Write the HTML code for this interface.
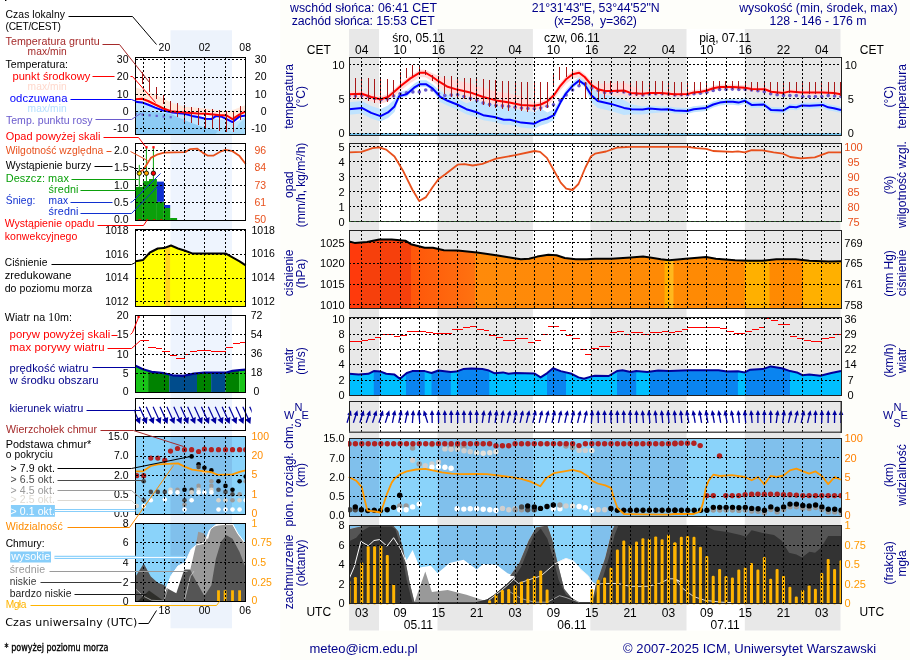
<!DOCTYPE html>
<html lang="pl"><head><meta charset="utf-8"><title>Meteogram</title>
<style>
html,body{margin:0;padding:0;background:#FEFEFA;}
body{width:910px;height:660px;overflow:hidden;}
svg{display:block;font-family:"Liberation Sans",Arial,sans-serif;will-change:transform;}
</style></head><body>
<svg width="910" height="660" viewBox="0 0 910 660">
<rect x="0" y="0" width="910" height="660" fill="#FEFEFA"/>
<rect x="0.0" y="0.0" width="280.2" height="660.0" fill="#FFFFFF" />
<rect x="5.0" y="0.0" width="1.4" height="1.0" fill="#000" />
<rect x="170.5" y="30.3" width="61.5" height="598.0" fill="#EDF3FC" />
<rect x="349.0" y="29.0" width="491.5" height="601.5" fill="#FFFFFF" />
<rect x="349.0" y="29.0" width="30.0" height="601.5" fill="#E8E8E8" />
<rect x="437.5" y="29.0" width="95.4" height="601.5" fill="#E8E8E8" />
<rect x="590.3" y="29.0" width="96.2" height="601.5" fill="#E8E8E8" />
<rect x="744.8" y="29.0" width="95.7" height="601.5" fill="#E8E8E8" />
<rect x="349.0" y="57.0" width="492.0" height="78.0" fill="#FFFFFF" />
<rect x="349.0" y="57.0" width="30.0" height="78.0" fill="#E8E8E8" />
<rect x="437.5" y="57.0" width="95.4" height="78.0" fill="#E8E8E8" />
<rect x="590.3" y="57.0" width="96.2" height="78.0" fill="#E8E8E8" />
<rect x="744.8" y="57.0" width="95.7" height="78.0" fill="#E8E8E8" />
<clipPath id="c1"><rect x="349.0" y="57.0" width="492.0" height="78.0"/></clipPath><g clip-path="url(#c1)">
<rect x="349.0" y="133.3" width="492.0" height="2.0" fill="#6EC0EC" />
<polygon points="348.7,91.2 361.8,90.7 371.2,94.0 380.5,96.3 388.0,94.0 394.5,88.4 401.0,82.8 410.4,75.4 419.7,69.7 425.3,69.7 431.9,73.0 438.4,76.1 447.7,79.4 457.1,80.6 470.2,83.4 483.2,88.0 496.3,91.4 509.4,93.6 521.2,96.1 534.3,102.8 540.8,101.5 547.4,98.3 553.9,92.2 560.4,82.8 566.0,76.3 572.6,71.2 579.1,69.7 584.7,74.0 591.3,81.1 597.8,83.8 605.3,83.6 611.8,83.0 624.0,82.5 630.5,84.9 642.6,91.2 649.2,90.4 661.3,90.4 674.4,91.7 688.1,91.4 693.7,89.9 701.2,89.3 706.8,88.0 713.3,85.8 719.8,84.6 732.9,84.6 745.0,85.2 751.6,86.5 764.7,86.7 771.2,89.3 783.4,90.4 789.9,88.9 802.0,89.9 822.6,89.9 833.8,90.4 841.0,91.7 841.0,96.7 833.8,95.4 822.6,94.9 802.0,94.9 789.9,93.9 783.4,95.4 771.2,94.3 764.7,91.7 751.6,91.5 745.0,90.2 732.9,89.6 719.8,89.6 713.3,90.8 706.8,93.0 701.2,94.3 693.7,94.9 688.1,96.4 674.4,96.7 661.3,95.4 649.2,95.4 642.6,96.2 630.5,97.4 624.0,95.0 611.8,95.5 605.3,95.4 597.8,93.7 591.3,89.4 584.7,81.5 579.1,77.2 572.6,78.7 566.0,83.8 560.4,90.3 553.9,99.7 547.4,105.8 540.8,109.0 534.3,110.3 521.2,109.6 509.4,107.1 496.3,104.9 483.2,101.5 470.2,96.9 457.1,94.1 447.7,91.3 438.4,85.7 431.9,81.0 425.3,77.2 419.7,77.2 410.4,82.9 401.0,90.3 394.5,95.9 388.0,101.5 380.5,103.8 371.2,101.5 361.8,98.2 348.7,98.7" fill="#FFDADA" />
<polygon points="348.7,102.2 361.8,100.9 371.2,105.9 380.5,109.1 388.0,105.4 394.5,99.4 399.2,92.1 406.6,90.2 414.1,83.7 419.7,80.3 426.3,80.3 432.8,84.6 440.3,91.0 447.7,94.8 457.1,98.5 466.4,103.2 475.8,100.0 483.2,103.2 494.4,105.0 503.8,107.8 510.0,107.8 521.2,110.6 534.3,111.7 540.8,108.4 547.4,112.5 553.9,109.2 560.4,99.1 566.0,89.8 572.6,82.3 579.1,77.1 584.7,81.0 591.3,87.2 597.8,93.1 610.9,95.9 624.0,99.9 631.4,104.2 642.6,106.5 649.2,105.6 661.3,106.5 667.9,106.2 675.0,107.5 687.1,108.0 693.7,106.2 705.8,104.9 713.3,101.5 719.8,99.6 726.4,98.7 732.9,98.7 738.5,99.6 745.0,97.8 751.6,101.9 763.7,101.5 771.2,107.1 783.4,107.5 789.9,103.7 796.4,104.3 802.0,102.4 809.5,102.8 822.6,101.9 828.2,104.3 833.8,105.2 841.0,107.1 841.0,113.1 833.8,111.2 828.2,110.3 822.6,107.9 809.5,108.8 802.0,108.4 796.4,110.3 789.9,109.7 783.4,113.5 771.2,113.1 763.7,107.5 751.6,107.9 745.0,103.8 738.5,105.6 732.9,104.7 726.4,104.7 719.8,105.6 713.3,107.5 705.8,110.9 693.7,112.2 687.1,114.0 675.0,113.5 667.9,112.2 661.3,112.5 649.2,113.6 642.6,114.5 631.4,114.2 624.0,114.9 610.9,110.9 597.8,108.1 591.3,102.2 584.7,87.0 579.1,83.1 572.6,88.3 566.0,95.8 560.4,105.1 553.9,120.2 547.4,123.5 540.8,125.4 534.3,128.7 521.2,127.6 510.0,124.8 503.8,124.8 494.4,122.0 483.2,120.2 475.8,117.0 466.4,114.2 457.1,109.5 447.7,105.8 440.3,102.0 432.8,91.1 426.3,86.8 419.7,86.8 414.1,90.2 406.6,96.7 399.2,98.6 394.5,111.9 388.0,117.9 380.5,121.6 371.2,118.4 361.8,113.4 348.7,114.7" fill="#BFE3FF" />
<circle cx="349.0" cy="96.0" r="1.8" fill="#6A5ACD" />
<circle cx="355.4" cy="96.0" r="1.8" fill="#6A5ACD" />
<circle cx="361.8" cy="95.6" r="1.8" fill="#6A5ACD" />
<circle cx="368.2" cy="96.5" r="1.8" fill="#6A5ACD" />
<circle cx="374.6" cy="98.4" r="1.8" fill="#6A5ACD" />
<circle cx="380.9" cy="99.7" r="1.8" fill="#6A5ACD" />
<circle cx="387.3" cy="99.1" r="1.8" fill="#6A5ACD" />
<circle cx="393.7" cy="96.0" r="1.8" fill="#6A5ACD" />
<circle cx="400.1" cy="93.7" r="1.8" fill="#6A5ACD" />
<circle cx="406.5" cy="92.8" r="1.8" fill="#6A5ACD" />
<circle cx="412.9" cy="91.9" r="1.8" fill="#6A5ACD" />
<circle cx="419.3" cy="91.9" r="1.8" fill="#6A5ACD" />
<circle cx="425.7" cy="90.0" r="1.8" fill="#6A5ACD" />
<circle cx="432.1" cy="90.0" r="1.8" fill="#6A5ACD" />
<circle cx="438.5" cy="93.7" r="1.8" fill="#6A5ACD" />
<circle cx="444.8" cy="95.6" r="1.8" fill="#6A5ACD" />
<circle cx="451.2" cy="95.0" r="1.8" fill="#6A5ACD" />
<circle cx="457.6" cy="94.7" r="1.8" fill="#6A5ACD" />
<circle cx="464.0" cy="96.5" r="1.8" fill="#6A5ACD" />
<circle cx="470.4" cy="98.4" r="1.8" fill="#6A5ACD" />
<circle cx="476.8" cy="100.6" r="1.8" fill="#6A5ACD" />
<circle cx="483.2" cy="102.9" r="1.8" fill="#6A5ACD" />
<circle cx="489.6" cy="104.4" r="1.8" fill="#6A5ACD" />
<circle cx="496.0" cy="105.3" r="1.8" fill="#6A5ACD" />
<circle cx="502.4" cy="105.9" r="1.8" fill="#6A5ACD" />
<circle cx="508.7" cy="106.2" r="1.8" fill="#6A5ACD" />
<circle cx="515.1" cy="107.2" r="1.8" fill="#6A5ACD" />
<circle cx="521.5" cy="108.1" r="1.8" fill="#6A5ACD" />
<circle cx="527.9" cy="108.5" r="1.8" fill="#6A5ACD" />
<circle cx="534.3" cy="108.7" r="1.8" fill="#6A5ACD" />
<circle cx="540.7" cy="108.1" r="1.8" fill="#6A5ACD" />
<circle cx="547.1" cy="106.2" r="1.8" fill="#6A5ACD" />
<circle cx="553.5" cy="104.7" r="1.8" fill="#6A5ACD" />
<circle cx="559.9" cy="100.3" r="1.8" fill="#6A5ACD" />
<circle cx="566.2" cy="95.0" r="1.8" fill="#6A5ACD" />
<circle cx="572.6" cy="90.0" r="1.8" fill="#6A5ACD" />
<circle cx="579.0" cy="85.7" r="1.8" fill="#6A5ACD" />
<circle cx="585.4" cy="83.8" r="1.8" fill="#6A5ACD" />
<circle cx="591.8" cy="87.9" r="1.8" fill="#6A5ACD" />
<circle cx="598.2" cy="90.4" r="1.8" fill="#6A5ACD" />
<circle cx="604.6" cy="92.6" r="1.8" fill="#6A5ACD" />
<circle cx="611.0" cy="92.6" r="1.8" fill="#6A5ACD" />
<circle cx="617.4" cy="91.3" r="1.8" fill="#6A5ACD" />
<circle cx="623.8" cy="91.9" r="1.8" fill="#6A5ACD" />
<circle cx="630.1" cy="94.1" r="1.8" fill="#6A5ACD" />
<circle cx="636.5" cy="94.1" r="1.8" fill="#6A5ACD" />
<circle cx="642.9" cy="95.0" r="1.8" fill="#6A5ACD" />
<circle cx="649.3" cy="94.1" r="1.8" fill="#6A5ACD" />
<circle cx="655.7" cy="93.7" r="1.8" fill="#6A5ACD" />
<circle cx="662.1" cy="93.7" r="1.8" fill="#6A5ACD" />
<circle cx="668.5" cy="94.1" r="1.8" fill="#6A5ACD" />
<circle cx="674.9" cy="95.0" r="1.8" fill="#6A5ACD" />
<circle cx="681.3" cy="94.7" r="1.8" fill="#6A5ACD" />
<circle cx="687.6" cy="94.7" r="1.8" fill="#6A5ACD" />
<circle cx="694.0" cy="93.7" r="1.8" fill="#6A5ACD" />
<circle cx="700.4" cy="93.2" r="1.8" fill="#6A5ACD" />
<circle cx="706.8" cy="92.2" r="1.8" fill="#6A5ACD" />
<circle cx="713.2" cy="90.4" r="1.8" fill="#6A5ACD" />
<circle cx="719.6" cy="89.4" r="1.8" fill="#6A5ACD" />
<circle cx="726.0" cy="89.4" r="1.8" fill="#6A5ACD" />
<circle cx="732.4" cy="89.1" r="1.8" fill="#6A5ACD" />
<circle cx="738.8" cy="89.4" r="1.8" fill="#6A5ACD" />
<circle cx="745.2" cy="89.4" r="1.8" fill="#6A5ACD" />
<circle cx="751.5" cy="90.0" r="1.8" fill="#6A5ACD" />
<circle cx="757.9" cy="90.7" r="1.8" fill="#6A5ACD" />
<circle cx="764.3" cy="91.7" r="1.8" fill="#6A5ACD" />
<circle cx="770.7" cy="93.7" r="1.8" fill="#6A5ACD" />
<circle cx="777.1" cy="94.7" r="1.8" fill="#6A5ACD" />
<circle cx="783.5" cy="95.4" r="1.8" fill="#6A5ACD" />
<circle cx="789.9" cy="95.6" r="1.8" fill="#6A5ACD" />
<circle cx="796.3" cy="95.6" r="1.8" fill="#6A5ACD" />
<circle cx="802.7" cy="96.5" r="1.8" fill="#6A5ACD" />
<circle cx="809.1" cy="96.5" r="1.8" fill="#6A5ACD" />
<circle cx="815.4" cy="96.5" r="1.8" fill="#6A5ACD" />
<circle cx="821.8" cy="96.5" r="1.8" fill="#6A5ACD" />
<circle cx="828.2" cy="95.6" r="1.8" fill="#6A5ACD" />
<circle cx="834.6" cy="96.0" r="1.8" fill="#6A5ACD" />
<circle cx="841.0" cy="96.5" r="1.8" fill="#6A5ACD" />
<polyline points="348.7,109.2 361.8,107.9 371.2,112.9 380.5,116.1 388.0,112.4 394.5,106.4 399.2,96.1 406.6,94.2 414.1,87.7 419.7,84.3 426.3,84.3 432.8,88.6 440.3,97.0 447.7,100.8 457.1,104.5 466.4,109.2 475.8,112.0 483.2,115.2 494.4,117.0 503.8,119.8 510.0,119.8 521.2,122.6 534.3,123.7 540.8,120.4 547.4,118.5 553.9,115.2 560.4,102.6 566.0,93.3 572.6,85.8 579.1,80.6 584.7,84.5 591.3,95.2 597.8,101.1 610.9,103.9 624.0,107.9 631.4,109.2 642.6,109.5 649.2,108.6 661.3,109.5 667.9,109.2 675.0,110.5 687.1,111.0 693.7,109.2 705.8,107.9 713.3,104.5 719.8,102.6 726.4,101.7 732.9,101.7 738.5,102.6 745.0,100.8 751.6,104.9 763.7,104.5 771.2,110.1 783.4,110.5 789.9,106.7 796.4,107.3 802.0,105.4 809.5,105.8 822.6,104.9 828.2,107.3 833.8,108.2 841.0,110.1" fill="none" stroke="#0000FF" stroke-width="2" stroke-linejoin="round" />
<polyline points="348.7,94.2 361.8,93.7 371.2,97.0 380.5,99.3 388.0,97.0 394.5,91.4 401.0,85.8 410.4,78.4 419.7,72.7 425.3,72.7 431.9,76.5 438.4,81.2 447.7,86.8 457.1,89.6 470.2,92.4 483.2,97.0 496.3,100.4 509.4,102.6 521.2,105.1 534.3,105.8 540.8,104.5 547.4,101.3 553.9,95.2 560.4,85.8 566.0,79.3 572.6,74.2 579.1,72.7 584.7,77.0 591.3,84.9 597.8,89.2 605.3,90.9 611.8,91.0 624.0,90.5 630.5,92.9 642.6,93.7 649.2,92.9 661.3,92.9 674.4,94.2 688.1,93.9 693.7,92.4 701.2,91.8 706.8,90.5 713.3,88.3 719.8,87.1 732.9,87.1 745.0,87.7 751.6,89.0 764.7,89.2 771.2,91.8 783.4,92.9 789.9,91.4 802.0,92.4 822.6,92.4 833.8,92.9 841.0,94.2" fill="none" stroke="#FF0000" stroke-width="2" stroke-linejoin="round" />
<line x1="355.5" y1="77.8" x2="355.5" y2="98.9" stroke="#A81818" stroke-width="1" shape-rendering="crispEdges"/>
<line x1="361.5" y1="78.1" x2="361.5" y2="98.7" stroke="#A81818" stroke-width="1" shape-rendering="crispEdges"/>
<line x1="368.5" y1="78.4" x2="368.5" y2="100.9" stroke="#A81818" stroke-width="1" shape-rendering="crispEdges"/>
<line x1="374.5" y1="78.7" x2="374.5" y2="102.8" stroke="#A81818" stroke-width="1" shape-rendering="crispEdges"/>
<line x1="380.5" y1="79.0" x2="380.5" y2="104.2" stroke="#A81818" stroke-width="1" shape-rendering="crispEdges"/>
<line x1="387.5" y1="79.3" x2="387.5" y2="102.2" stroke="#A81818" stroke-width="1" shape-rendering="crispEdges"/>
<line x1="393.5" y1="79.6" x2="393.5" y2="97.1" stroke="#A81818" stroke-width="1" shape-rendering="crispEdges"/>
<line x1="400.5" y1="72.0" x2="400.5" y2="87.6" stroke="#A81818" stroke-width="1" shape-rendering="crispEdges"/>
<line x1="406.5" y1="67.9" x2="406.5" y2="78.2" stroke="#A81818" stroke-width="1" shape-rendering="crispEdges"/>
<line x1="412.5" y1="64.5" x2="412.5" y2="75.8" stroke="#A81818" stroke-width="1" shape-rendering="crispEdges"/>
<line x1="419.5" y1="66.0" x2="419.5" y2="73.5" stroke="#A81818" stroke-width="1" shape-rendering="crispEdges"/>
<line x1="425.5" y1="70.3" x2="425.5" y2="75.2" stroke="#A81818" stroke-width="1" shape-rendering="crispEdges"/>
<line x1="432.5" y1="74.5" x2="432.5" y2="81.2" stroke="#A81818" stroke-width="1" shape-rendering="crispEdges"/>
<line x1="438.5" y1="75.5" x2="438.5" y2="90.2" stroke="#A81818" stroke-width="1" shape-rendering="crispEdges"/>
<line x1="444.5" y1="75.5" x2="444.5" y2="94.1" stroke="#A81818" stroke-width="1" shape-rendering="crispEdges"/>
<line x1="451.5" y1="75.5" x2="451.5" y2="96.9" stroke="#A81818" stroke-width="1" shape-rendering="crispEdges"/>
<line x1="457.5" y1="77.0" x2="457.5" y2="97.7" stroke="#A81818" stroke-width="1" shape-rendering="crispEdges"/>
<line x1="464.5" y1="77.5" x2="464.5" y2="99.1" stroke="#A81818" stroke-width="1" shape-rendering="crispEdges"/>
<line x1="470.5" y1="78.0" x2="470.5" y2="100.5" stroke="#A81818" stroke-width="1" shape-rendering="crispEdges"/>
<line x1="476.5" y1="78.5" x2="476.5" y2="102.7" stroke="#A81818" stroke-width="1" shape-rendering="crispEdges"/>
<line x1="483.5" y1="79.0" x2="483.5" y2="105.0" stroke="#A81818" stroke-width="1" shape-rendering="crispEdges"/>
<line x1="489.5" y1="79.5" x2="489.5" y2="106.7" stroke="#A81818" stroke-width="1" shape-rendering="crispEdges"/>
<line x1="495.5" y1="80.0" x2="495.5" y2="108.3" stroke="#A81818" stroke-width="1" shape-rendering="crispEdges"/>
<line x1="502.5" y1="80.5" x2="502.5" y2="109.4" stroke="#A81818" stroke-width="1" shape-rendering="crispEdges"/>
<line x1="508.5" y1="81.0" x2="508.5" y2="110.5" stroke="#A81818" stroke-width="1" shape-rendering="crispEdges"/>
<line x1="515.5" y1="82.0" x2="515.5" y2="109.8" stroke="#A81818" stroke-width="1" shape-rendering="crispEdges"/>
<line x1="521.5" y1="82.0" x2="521.5" y2="111.1" stroke="#A81818" stroke-width="1" shape-rendering="crispEdges"/>
<line x1="527.5" y1="82.0" x2="527.5" y2="111.5" stroke="#A81818" stroke-width="1" shape-rendering="crispEdges"/>
<line x1="534.5" y1="82.0" x2="534.5" y2="111.8" stroke="#A81818" stroke-width="1" shape-rendering="crispEdges"/>
<line x1="540.5" y1="82.0" x2="540.5" y2="110.5" stroke="#A81818" stroke-width="1" shape-rendering="crispEdges"/>
<line x1="547.5" y1="82.0" x2="547.5" y2="107.5" stroke="#A81818" stroke-width="1" shape-rendering="crispEdges"/>
<line x1="553.5" y1="73.2" x2="553.5" y2="84.7" stroke="#A81818" stroke-width="1" shape-rendering="crispEdges"/>
<line x1="559.5" y1="67.0" x2="559.5" y2="80.0" stroke="#A81818" stroke-width="1" shape-rendering="crispEdges"/>
<line x1="566.5" y1="67.0" x2="566.5" y2="77.0" stroke="#A81818" stroke-width="1" shape-rendering="crispEdges"/>
<line x1="572.5" y1="71.0" x2="572.5" y2="78.7" stroke="#A81818" stroke-width="1" shape-rendering="crispEdges"/>
<line x1="579.5" y1="79.2" x2="579.5" y2="84.7" stroke="#A81818" stroke-width="1" shape-rendering="crispEdges"/>
<line x1="585.5" y1="82.0" x2="585.5" y2="98.0" stroke="#A81818" stroke-width="1" shape-rendering="crispEdges"/>
<line x1="591.5" y1="80.3" x2="591.5" y2="99.0" stroke="#A81818" stroke-width="1" shape-rendering="crispEdges"/>
<line x1="598.5" y1="81.4" x2="598.5" y2="101.2" stroke="#A81818" stroke-width="1" shape-rendering="crispEdges"/>
<line x1="604.5" y1="81.4" x2="604.5" y2="99.0" stroke="#A81818" stroke-width="1" shape-rendering="crispEdges"/>
<line x1="610.5" y1="81.4" x2="610.5" y2="93.2" stroke="#A81818" stroke-width="1" shape-rendering="crispEdges"/>
<line x1="617.5" y1="81.4" x2="617.5" y2="93.0" stroke="#A81818" stroke-width="1" shape-rendering="crispEdges"/>
<line x1="623.5" y1="81.4" x2="623.5" y2="92.7" stroke="#A81818" stroke-width="1" shape-rendering="crispEdges"/>
<line x1="630.5" y1="81.4" x2="630.5" y2="95.0" stroke="#A81818" stroke-width="1" shape-rendering="crispEdges"/>
<line x1="636.5" y1="81.4" x2="636.5" y2="95.5" stroke="#A81818" stroke-width="1" shape-rendering="crispEdges"/>
<line x1="642.5" y1="81.4" x2="642.5" y2="95.9" stroke="#A81818" stroke-width="1" shape-rendering="crispEdges"/>
<line x1="649.5" y1="81.4" x2="649.5" y2="95.1" stroke="#A81818" stroke-width="1" shape-rendering="crispEdges"/>
<line x1="655.5" y1="81.4" x2="655.5" y2="95.1" stroke="#A81818" stroke-width="1" shape-rendering="crispEdges"/>
<line x1="662.5" y1="81.4" x2="662.5" y2="95.2" stroke="#A81818" stroke-width="1" shape-rendering="crispEdges"/>
<line x1="668.5" y1="81.4" x2="668.5" y2="95.8" stroke="#A81818" stroke-width="1" shape-rendering="crispEdges"/>
<line x1="674.5" y1="82.0" x2="674.5" y2="95.7" stroke="#A81818" stroke-width="1" shape-rendering="crispEdges"/>
<line x1="681.5" y1="82.0" x2="681.5" y2="95.5" stroke="#A81818" stroke-width="1" shape-rendering="crispEdges"/>
<line x1="687.5" y1="82.0" x2="687.5" y2="95.4" stroke="#A81818" stroke-width="1" shape-rendering="crispEdges"/>
<line x1="694.5" y1="82.0" x2="694.5" y2="93.9" stroke="#A81818" stroke-width="1" shape-rendering="crispEdges"/>
<line x1="700.5" y1="82.0" x2="700.5" y2="93.4" stroke="#A81818" stroke-width="1" shape-rendering="crispEdges"/>
<line x1="706.5" y1="80.6" x2="706.5" y2="92.0" stroke="#A81818" stroke-width="1" shape-rendering="crispEdges"/>
<line x1="713.5" y1="80.6" x2="713.5" y2="89.8" stroke="#A81818" stroke-width="1" shape-rendering="crispEdges"/>
<line x1="719.5" y1="80.6" x2="719.5" y2="88.6" stroke="#A81818" stroke-width="1" shape-rendering="crispEdges"/>
<line x1="725.5" y1="80.6" x2="725.5" y2="88.6" stroke="#A81818" stroke-width="1" shape-rendering="crispEdges"/>
<line x1="732.5" y1="80.6" x2="732.5" y2="88.6" stroke="#A81818" stroke-width="1" shape-rendering="crispEdges"/>
<line x1="738.5" y1="80.6" x2="738.5" y2="88.9" stroke="#A81818" stroke-width="1" shape-rendering="crispEdges"/>
<line x1="745.5" y1="82.0" x2="745.5" y2="89.2" stroke="#A81818" stroke-width="1" shape-rendering="crispEdges"/>
<line x1="751.5" y1="82.0" x2="751.5" y2="90.5" stroke="#A81818" stroke-width="1" shape-rendering="crispEdges"/>
<line x1="757.5" y1="82.0" x2="757.5" y2="90.6" stroke="#A81818" stroke-width="1" shape-rendering="crispEdges"/>
<line x1="764.5" y1="82.0" x2="764.5" y2="90.7" stroke="#A81818" stroke-width="1" shape-rendering="crispEdges"/>
<line x1="770.5" y1="82.0" x2="770.5" y2="93.1" stroke="#A81818" stroke-width="1" shape-rendering="crispEdges"/>
<line x1="777.5" y1="82.0" x2="777.5" y2="93.8" stroke="#A81818" stroke-width="1" shape-rendering="crispEdges"/>
<line x1="783.5" y1="82.0" x2="783.5" y2="94.4" stroke="#A81818" stroke-width="1" shape-rendering="crispEdges"/>
<line x1="789.5" y1="82.0" x2="789.5" y2="92.9" stroke="#A81818" stroke-width="1" shape-rendering="crispEdges"/>
<line x1="796.5" y1="82.0" x2="796.5" y2="93.4" stroke="#A81818" stroke-width="1" shape-rendering="crispEdges"/>
<line x1="802.5" y1="82.0" x2="802.5" y2="93.9" stroke="#A81818" stroke-width="1" shape-rendering="crispEdges"/>
<line x1="809.5" y1="82.0" x2="809.5" y2="93.9" stroke="#A81818" stroke-width="1" shape-rendering="crispEdges"/>
<line x1="815.5" y1="82.0" x2="815.5" y2="93.9" stroke="#A81818" stroke-width="1" shape-rendering="crispEdges"/>
<line x1="821.5" y1="82.0" x2="821.5" y2="93.9" stroke="#A81818" stroke-width="1" shape-rendering="crispEdges"/>
<line x1="828.5" y1="82.0" x2="828.5" y2="94.2" stroke="#A81818" stroke-width="1" shape-rendering="crispEdges"/>
<line x1="834.5" y1="82.0" x2="834.5" y2="94.5" stroke="#A81818" stroke-width="1" shape-rendering="crispEdges"/>
<line x1="840.5" y1="82.0" x2="840.5" y2="95.7" stroke="#A81818" stroke-width="1" shape-rendering="crispEdges"/>
</g>
<line x1="361.8" y1="57.0" x2="361.8" y2="135.0" stroke="#000" stroke-width="1" stroke-dasharray="2,2" shape-rendering="crispEdges"/>
<line x1="380.9" y1="57.0" x2="380.9" y2="135.0" stroke="#000" stroke-width="1" stroke-dasharray="2,2" shape-rendering="crispEdges"/>
<line x1="400.1" y1="57.0" x2="400.1" y2="135.0" stroke="#000" stroke-width="1" stroke-dasharray="2,2" shape-rendering="crispEdges"/>
<line x1="419.3" y1="57.0" x2="419.3" y2="135.0" stroke="#000" stroke-width="1" stroke-dasharray="2,2" shape-rendering="crispEdges"/>
<line x1="438.5" y1="57.0" x2="438.5" y2="135.0" stroke="#000" stroke-width="1" stroke-dasharray="2,2" shape-rendering="crispEdges"/>
<line x1="457.6" y1="57.0" x2="457.6" y2="135.0" stroke="#000" stroke-width="1" stroke-dasharray="2,2" shape-rendering="crispEdges"/>
<line x1="476.8" y1="57.0" x2="476.8" y2="135.0" stroke="#000" stroke-width="1" stroke-dasharray="2,2" shape-rendering="crispEdges"/>
<line x1="496.0" y1="57.0" x2="496.0" y2="135.0" stroke="#000" stroke-width="1" stroke-dasharray="2,2" shape-rendering="crispEdges"/>
<line x1="515.1" y1="57.0" x2="515.1" y2="135.0" stroke="#000" stroke-width="1" stroke-dasharray="2,2" shape-rendering="crispEdges"/>
<line x1="534.3" y1="57.0" x2="534.3" y2="135.0" stroke="#000" stroke-width="1" stroke-dasharray="2,2" shape-rendering="crispEdges"/>
<line x1="553.5" y1="57.0" x2="553.5" y2="135.0" stroke="#000" stroke-width="1" stroke-dasharray="2,2" shape-rendering="crispEdges"/>
<line x1="572.6" y1="57.0" x2="572.6" y2="135.0" stroke="#000" stroke-width="1" stroke-dasharray="2,2" shape-rendering="crispEdges"/>
<line x1="591.8" y1="57.0" x2="591.8" y2="135.0" stroke="#000" stroke-width="1" stroke-dasharray="2,2" shape-rendering="crispEdges"/>
<line x1="611.0" y1="57.0" x2="611.0" y2="135.0" stroke="#000" stroke-width="1" stroke-dasharray="2,2" shape-rendering="crispEdges"/>
<line x1="630.1" y1="57.0" x2="630.1" y2="135.0" stroke="#000" stroke-width="1" stroke-dasharray="2,2" shape-rendering="crispEdges"/>
<line x1="649.3" y1="57.0" x2="649.3" y2="135.0" stroke="#000" stroke-width="1" stroke-dasharray="2,2" shape-rendering="crispEdges"/>
<line x1="668.5" y1="57.0" x2="668.5" y2="135.0" stroke="#000" stroke-width="1" stroke-dasharray="2,2" shape-rendering="crispEdges"/>
<line x1="687.6" y1="57.0" x2="687.6" y2="135.0" stroke="#000" stroke-width="1" stroke-dasharray="2,2" shape-rendering="crispEdges"/>
<line x1="706.8" y1="57.0" x2="706.8" y2="135.0" stroke="#000" stroke-width="1" stroke-dasharray="2,2" shape-rendering="crispEdges"/>
<line x1="726.0" y1="57.0" x2="726.0" y2="135.0" stroke="#000" stroke-width="1" stroke-dasharray="2,2" shape-rendering="crispEdges"/>
<line x1="745.2" y1="57.0" x2="745.2" y2="135.0" stroke="#000" stroke-width="1" stroke-dasharray="2,2" shape-rendering="crispEdges"/>
<line x1="764.3" y1="57.0" x2="764.3" y2="135.0" stroke="#000" stroke-width="1" stroke-dasharray="2,2" shape-rendering="crispEdges"/>
<line x1="783.5" y1="57.0" x2="783.5" y2="135.0" stroke="#000" stroke-width="1" stroke-dasharray="2,2" shape-rendering="crispEdges"/>
<line x1="802.7" y1="57.0" x2="802.7" y2="135.0" stroke="#000" stroke-width="1" stroke-dasharray="2,2" shape-rendering="crispEdges"/>
<line x1="821.8" y1="57.0" x2="821.8" y2="135.0" stroke="#000" stroke-width="1" stroke-dasharray="2,2" shape-rendering="crispEdges"/>
<line x1="349.0" y1="64.3" x2="841.0" y2="64.3" stroke="#000" stroke-width="1" stroke-dasharray="2,2" shape-rendering="crispEdges"/>
<line x1="349.0" y1="98.4" x2="841.0" y2="98.4" stroke="#000" stroke-width="1" stroke-dasharray="2,2" shape-rendering="crispEdges"/>
<line x1="349.0" y1="133.3" x2="841.0" y2="133.3" stroke="#000" stroke-width="1" stroke-dasharray="2,2" shape-rendering="crispEdges"/>
<rect x="349.0" y="57.0" width="492.0" height="78.0" fill="none" stroke="#222" stroke-width="1" shape-rendering="crispEdges"/>
<rect x="349.0" y="143.5" width="492.0" height="77.5" fill="#FFFFFF" />
<rect x="349.0" y="143.5" width="30.0" height="77.5" fill="#E8E8E8" />
<rect x="437.5" y="143.5" width="95.4" height="77.5" fill="#E8E8E8" />
<rect x="590.3" y="143.5" width="96.2" height="77.5" fill="#E8E8E8" />
<rect x="744.8" y="143.5" width="95.7" height="77.5" fill="#E8E8E8" />
<line x1="361.8" y1="143.5" x2="361.8" y2="221.0" stroke="#000" stroke-width="1" stroke-dasharray="2,2" shape-rendering="crispEdges"/>
<line x1="380.9" y1="143.5" x2="380.9" y2="221.0" stroke="#000" stroke-width="1" stroke-dasharray="2,2" shape-rendering="crispEdges"/>
<line x1="400.1" y1="143.5" x2="400.1" y2="221.0" stroke="#000" stroke-width="1" stroke-dasharray="2,2" shape-rendering="crispEdges"/>
<line x1="419.3" y1="143.5" x2="419.3" y2="221.0" stroke="#000" stroke-width="1" stroke-dasharray="2,2" shape-rendering="crispEdges"/>
<line x1="438.5" y1="143.5" x2="438.5" y2="221.0" stroke="#000" stroke-width="1" stroke-dasharray="2,2" shape-rendering="crispEdges"/>
<line x1="457.6" y1="143.5" x2="457.6" y2="221.0" stroke="#000" stroke-width="1" stroke-dasharray="2,2" shape-rendering="crispEdges"/>
<line x1="476.8" y1="143.5" x2="476.8" y2="221.0" stroke="#000" stroke-width="1" stroke-dasharray="2,2" shape-rendering="crispEdges"/>
<line x1="496.0" y1="143.5" x2="496.0" y2="221.0" stroke="#000" stroke-width="1" stroke-dasharray="2,2" shape-rendering="crispEdges"/>
<line x1="515.1" y1="143.5" x2="515.1" y2="221.0" stroke="#000" stroke-width="1" stroke-dasharray="2,2" shape-rendering="crispEdges"/>
<line x1="534.3" y1="143.5" x2="534.3" y2="221.0" stroke="#000" stroke-width="1" stroke-dasharray="2,2" shape-rendering="crispEdges"/>
<line x1="553.5" y1="143.5" x2="553.5" y2="221.0" stroke="#000" stroke-width="1" stroke-dasharray="2,2" shape-rendering="crispEdges"/>
<line x1="572.6" y1="143.5" x2="572.6" y2="221.0" stroke="#000" stroke-width="1" stroke-dasharray="2,2" shape-rendering="crispEdges"/>
<line x1="591.8" y1="143.5" x2="591.8" y2="221.0" stroke="#000" stroke-width="1" stroke-dasharray="2,2" shape-rendering="crispEdges"/>
<line x1="611.0" y1="143.5" x2="611.0" y2="221.0" stroke="#000" stroke-width="1" stroke-dasharray="2,2" shape-rendering="crispEdges"/>
<line x1="630.1" y1="143.5" x2="630.1" y2="221.0" stroke="#000" stroke-width="1" stroke-dasharray="2,2" shape-rendering="crispEdges"/>
<line x1="649.3" y1="143.5" x2="649.3" y2="221.0" stroke="#000" stroke-width="1" stroke-dasharray="2,2" shape-rendering="crispEdges"/>
<line x1="668.5" y1="143.5" x2="668.5" y2="221.0" stroke="#000" stroke-width="1" stroke-dasharray="2,2" shape-rendering="crispEdges"/>
<line x1="687.6" y1="143.5" x2="687.6" y2="221.0" stroke="#000" stroke-width="1" stroke-dasharray="2,2" shape-rendering="crispEdges"/>
<line x1="706.8" y1="143.5" x2="706.8" y2="221.0" stroke="#000" stroke-width="1" stroke-dasharray="2,2" shape-rendering="crispEdges"/>
<line x1="726.0" y1="143.5" x2="726.0" y2="221.0" stroke="#000" stroke-width="1" stroke-dasharray="2,2" shape-rendering="crispEdges"/>
<line x1="745.2" y1="143.5" x2="745.2" y2="221.0" stroke="#000" stroke-width="1" stroke-dasharray="2,2" shape-rendering="crispEdges"/>
<line x1="764.3" y1="143.5" x2="764.3" y2="221.0" stroke="#000" stroke-width="1" stroke-dasharray="2,2" shape-rendering="crispEdges"/>
<line x1="783.5" y1="143.5" x2="783.5" y2="221.0" stroke="#000" stroke-width="1" stroke-dasharray="2,2" shape-rendering="crispEdges"/>
<line x1="802.7" y1="143.5" x2="802.7" y2="221.0" stroke="#000" stroke-width="1" stroke-dasharray="2,2" shape-rendering="crispEdges"/>
<line x1="821.8" y1="143.5" x2="821.8" y2="221.0" stroke="#000" stroke-width="1" stroke-dasharray="2,2" shape-rendering="crispEdges"/>
<line x1="349.0" y1="146.5" x2="841.0" y2="146.5" stroke="#000" stroke-width="1" stroke-dasharray="2,2" shape-rendering="crispEdges"/>
<line x1="349.0" y1="161.5" x2="841.0" y2="161.5" stroke="#000" stroke-width="1" stroke-dasharray="2,2" shape-rendering="crispEdges"/>
<line x1="349.0" y1="176.5" x2="841.0" y2="176.5" stroke="#000" stroke-width="1" stroke-dasharray="2,2" shape-rendering="crispEdges"/>
<line x1="349.0" y1="191.5" x2="841.0" y2="191.5" stroke="#000" stroke-width="1" stroke-dasharray="2,2" shape-rendering="crispEdges"/>
<line x1="349.0" y1="206.5" x2="841.0" y2="206.5" stroke="#000" stroke-width="1" stroke-dasharray="2,2" shape-rendering="crispEdges"/>
<polyline points="349.1,152.4 361.5,151.8 372.5,148.2 379.3,147.4 386.2,149.6 394.5,156.5 402.7,170.2 412.3,189.5 419.2,201.0 426.0,197.1 432.9,186.7 438.4,179.3 445.3,174.3 457.6,164.7 464.5,164.2 472.7,165.5 482.4,163.9 496.1,158.7 515.3,155.1 534.6,151.0 540.1,151.8 546.9,157.9 553.8,170.2 560.7,182.6 566.2,188.6 572.5,190.0 578.5,184.0 585.4,167.5 590.9,156.5 595.0,153.7 606.0,151.5 617.0,147.7 630.7,146.9 687.0,146.9 696.6,148.2 706.3,148.8 713.1,151.0 732.4,151.8 737.9,151.3 744.7,152.4 751.6,150.2 762.6,150.4 773.6,152.4 783.2,153.7 790.1,157.0 801.0,158.4 814.8,157.3 828.5,152.4 841.0,152.4" fill="none" stroke="#E8501C" stroke-width="1.8" stroke-linejoin="round" />
<rect x="349.0" y="143.5" width="492.0" height="77.5" fill="none" stroke="#222" stroke-width="1" shape-rendering="crispEdges"/>
<line x1="349.0" y1="221.0" x2="841.0" y2="221.0" stroke="#2E9B2E" stroke-width="1" stroke-dasharray="2,3" opacity="0.55" shape-rendering="crispEdges"/>
<rect x="349.0" y="230.0" width="492.0" height="78.5" fill="#FFFFFF" />
<rect x="349.0" y="230.0" width="30.0" height="78.5" fill="#E8E8E8" />
<rect x="437.5" y="230.0" width="95.4" height="78.5" fill="#E8E8E8" />
<rect x="590.3" y="230.0" width="96.2" height="78.5" fill="#E8E8E8" />
<rect x="744.8" y="230.0" width="95.7" height="78.5" fill="#E8E8E8" />
<defs><linearGradient id="pg" gradientUnits="userSpaceOnUse" x1="349" y1="0" x2="841" y2="0"><stop offset="0" stop-color="#FF3A0C"/><stop offset="0.022" stop-color="#FF3A0C"/><stop offset="0.024" stop-color="#F6400C"/><stop offset="0.125" stop-color="#F6400C"/><stop offset="0.127" stop-color="#FF560A"/><stop offset="0.255" stop-color="#FF7210"/><stop offset="0.257" stop-color="#FF8A0A"/><stop offset="1" stop-color="#FF8A00"/></linearGradient></defs>
<polygon points="349.1,241.5 354.6,242.9 367.0,242.0 379.3,239.6 391.7,239.6 405.4,240.7 410.9,244.2 424.7,247.8 432.9,247.8 443.9,250.3 457.6,250.5 476.9,252.5 496.1,255.2 509.8,257.4 520.8,259.3 529.1,258.8 537.3,256.6 548.3,254.7 556.5,255.2 564.8,258.0 575.8,259.3 586.8,259.3 595.0,258.8 611.5,258.8 630.7,257.4 643.1,256.6 650.0,257.4 660.9,259.3 669.2,260.2 685.7,258.8 706.3,257.1 715.9,258.8 735.1,260.2 748.9,260.7 762.6,260.7 776.3,259.3 795.6,259.3 809.3,260.7 828.5,261.5 841.0,261.3 841.0,308.5 349.0,308.5" fill="url(#pg)" />
<clipPath id="c2"><rect x="349.0" y="230.0" width="492.0" height="78.5"/></clipPath><g clip-path="url(#c2)">
<polygon points="664.5,259.7 669.5,260.2 669.5,308.5 664.5,308.5" fill="#FFAE00" />
<polygon points="669.5,260.2 673.5,259.8 673.5,308.5 669.5,308.5" fill="#FFB81E" />
<polygon points="744.7,260.5 769.5,260.0 769.5,308.5 744.7,308.5" fill="#FFB000" />
<polygon points="802.4,260.0 841.0,261.3 841.0,308.5 802.4,308.5" fill="#FFB000" />
</g>
<polyline points="349.1,241.5 354.6,242.9 367.0,242.0 379.3,239.6 391.7,239.6 405.4,240.7 410.9,244.2 424.7,247.8 432.9,247.8 443.9,250.3 457.6,250.5 476.9,252.5 496.1,255.2 509.8,257.4 520.8,259.3 529.1,258.8 537.3,256.6 548.3,254.7 556.5,255.2 564.8,258.0 575.8,259.3 586.8,259.3 595.0,258.8 611.5,258.8 630.7,257.4 643.1,256.6 650.0,257.4 660.9,259.3 669.2,260.2 685.7,258.8 706.3,257.1 715.9,258.8 735.1,260.2 748.9,260.7 762.6,260.7 776.3,259.3 795.6,259.3 809.3,260.7 828.5,261.5 841.0,261.3" fill="none" stroke="#000" stroke-width="2" stroke-linejoin="round" />
<line x1="361.8" y1="230.0" x2="361.8" y2="308.5" stroke="#000" stroke-width="1" stroke-dasharray="2,2" shape-rendering="crispEdges"/>
<line x1="380.9" y1="230.0" x2="380.9" y2="308.5" stroke="#000" stroke-width="1" stroke-dasharray="2,2" shape-rendering="crispEdges"/>
<line x1="400.1" y1="230.0" x2="400.1" y2="308.5" stroke="#000" stroke-width="1" stroke-dasharray="2,2" shape-rendering="crispEdges"/>
<line x1="419.3" y1="230.0" x2="419.3" y2="308.5" stroke="#000" stroke-width="1" stroke-dasharray="2,2" shape-rendering="crispEdges"/>
<line x1="438.5" y1="230.0" x2="438.5" y2="308.5" stroke="#000" stroke-width="1" stroke-dasharray="2,2" shape-rendering="crispEdges"/>
<line x1="457.6" y1="230.0" x2="457.6" y2="308.5" stroke="#000" stroke-width="1" stroke-dasharray="2,2" shape-rendering="crispEdges"/>
<line x1="476.8" y1="230.0" x2="476.8" y2="308.5" stroke="#000" stroke-width="1" stroke-dasharray="2,2" shape-rendering="crispEdges"/>
<line x1="496.0" y1="230.0" x2="496.0" y2="308.5" stroke="#000" stroke-width="1" stroke-dasharray="2,2" shape-rendering="crispEdges"/>
<line x1="515.1" y1="230.0" x2="515.1" y2="308.5" stroke="#000" stroke-width="1" stroke-dasharray="2,2" shape-rendering="crispEdges"/>
<line x1="534.3" y1="230.0" x2="534.3" y2="308.5" stroke="#000" stroke-width="1" stroke-dasharray="2,2" shape-rendering="crispEdges"/>
<line x1="553.5" y1="230.0" x2="553.5" y2="308.5" stroke="#000" stroke-width="1" stroke-dasharray="2,2" shape-rendering="crispEdges"/>
<line x1="572.6" y1="230.0" x2="572.6" y2="308.5" stroke="#000" stroke-width="1" stroke-dasharray="2,2" shape-rendering="crispEdges"/>
<line x1="591.8" y1="230.0" x2="591.8" y2="308.5" stroke="#000" stroke-width="1" stroke-dasharray="2,2" shape-rendering="crispEdges"/>
<line x1="611.0" y1="230.0" x2="611.0" y2="308.5" stroke="#000" stroke-width="1" stroke-dasharray="2,2" shape-rendering="crispEdges"/>
<line x1="630.1" y1="230.0" x2="630.1" y2="308.5" stroke="#000" stroke-width="1" stroke-dasharray="2,2" shape-rendering="crispEdges"/>
<line x1="649.3" y1="230.0" x2="649.3" y2="308.5" stroke="#000" stroke-width="1" stroke-dasharray="2,2" shape-rendering="crispEdges"/>
<line x1="668.5" y1="230.0" x2="668.5" y2="308.5" stroke="#000" stroke-width="1" stroke-dasharray="2,2" shape-rendering="crispEdges"/>
<line x1="687.6" y1="230.0" x2="687.6" y2="308.5" stroke="#000" stroke-width="1" stroke-dasharray="2,2" shape-rendering="crispEdges"/>
<line x1="706.8" y1="230.0" x2="706.8" y2="308.5" stroke="#000" stroke-width="1" stroke-dasharray="2,2" shape-rendering="crispEdges"/>
<line x1="726.0" y1="230.0" x2="726.0" y2="308.5" stroke="#000" stroke-width="1" stroke-dasharray="2,2" shape-rendering="crispEdges"/>
<line x1="745.2" y1="230.0" x2="745.2" y2="308.5" stroke="#000" stroke-width="1" stroke-dasharray="2,2" shape-rendering="crispEdges"/>
<line x1="764.3" y1="230.0" x2="764.3" y2="308.5" stroke="#000" stroke-width="1" stroke-dasharray="2,2" shape-rendering="crispEdges"/>
<line x1="783.5" y1="230.0" x2="783.5" y2="308.5" stroke="#000" stroke-width="1" stroke-dasharray="2,2" shape-rendering="crispEdges"/>
<line x1="802.7" y1="230.0" x2="802.7" y2="308.5" stroke="#000" stroke-width="1" stroke-dasharray="2,2" shape-rendering="crispEdges"/>
<line x1="821.8" y1="230.0" x2="821.8" y2="308.5" stroke="#000" stroke-width="1" stroke-dasharray="2,2" shape-rendering="crispEdges"/>
<line x1="349.0" y1="242.7" x2="841.0" y2="242.7" stroke="#000" stroke-width="1" stroke-dasharray="2,2" shape-rendering="crispEdges"/>
<line x1="349.0" y1="263.6" x2="841.0" y2="263.6" stroke="#000" stroke-width="1" stroke-dasharray="2,2" shape-rendering="crispEdges"/>
<line x1="349.0" y1="284.3" x2="841.0" y2="284.3" stroke="#000" stroke-width="1" stroke-dasharray="2,2" shape-rendering="crispEdges"/>
<line x1="349.0" y1="304.4" x2="841.0" y2="304.4" stroke="#000" stroke-width="1" stroke-dasharray="2,2" shape-rendering="crispEdges"/>
<rect x="349.0" y="230.0" width="492.0" height="78.5" fill="none" stroke="#222" stroke-width="1" shape-rendering="crispEdges"/>
<rect x="349.0" y="317.7" width="492.0" height="77.6" fill="#FFFFFF" />
<rect x="349.0" y="317.7" width="30.0" height="77.6" fill="#E8E8E8" />
<rect x="437.5" y="317.7" width="95.4" height="77.6" fill="#E8E8E8" />
<rect x="590.3" y="317.7" width="96.2" height="77.6" fill="#E8E8E8" />
<rect x="744.8" y="317.7" width="95.7" height="77.6" fill="#E8E8E8" />
<polygon points="349.1,373.8 358.7,374.6 368.4,373.8 373.8,371.1 380.7,371.6 386.2,373.8 394.5,374.6 399.9,378.8 406.8,373.0 412.3,371.1 424.7,371.1 431.5,373.0 438.4,370.5 450.8,371.9 456.3,371.6 463.1,369.1 471.4,368.6 482.4,369.1 487.9,370.2 494.7,373.3 503.0,372.4 508.5,373.8 515.3,373.0 534.6,373.5 540.6,377.4 546.9,373.3 553.0,368.3 560.7,371.1 571.6,373.8 578.5,377.4 584.0,378.8 590.9,376.6 595.0,375.7 608.7,376.0 617.0,371.1 622.5,370.2 630.7,371.9 636.2,371.1 647.2,371.9 658.2,370.5 669.2,371.1 688.4,370.2 718.6,370.2 726.9,371.6 737.9,371.3 744.7,372.4 750.2,369.7 762.6,369.1 770.8,366.4 781.8,368.3 790.1,371.1 796.9,372.4 802.4,375.2 809.3,374.6 820.3,375.7 831.3,373.0 841.0,371.1 841.0,395.3 349.0,395.3" fill="#00BFFF" />
<clipPath id="c3"><rect x="349.0" y="317.7" width="492.0" height="77.6"/></clipPath><g clip-path="url(#c3)">
<polygon points="373.8,371.1 374.7,371.2 375.5,371.2 376.4,371.3 377.2,371.4 378.1,371.4 379.0,371.5 379.8,371.5 380.7,371.6 380.7,395.3 373.8,395.3" fill="#0A84F0" />
<polygon points="406.0,373.7 408.3,372.5 410.7,371.7 413.0,371.1 415.4,371.1 417.7,371.1 420.0,371.1 422.4,371.1 424.7,371.1 424.7,395.3 406.0,395.3" fill="#0A84F0" />
<polygon points="431.5,373.0 433.9,372.1 436.3,371.3 438.7,370.5 441.1,370.8 443.6,371.1 446.0,371.4 448.4,371.6 450.8,371.9 450.8,395.3 431.5,395.3" fill="#0A84F0" />
<polygon points="457.6,371.1 461.6,369.7 465.5,369.0 469.4,368.7 473.4,368.7 477.4,368.9 481.3,369.1 485.2,369.7 489.2,370.8 489.2,395.3 457.6,395.3" fill="#0A84F0" />
<polygon points="547.0,373.2 549.4,371.3 551.8,369.3 554.1,368.7 556.5,369.6 558.9,370.4 561.2,371.2 563.6,371.8 566.0,372.4 566.0,395.3 547.0,395.3" fill="#0A84F0" />
<polygon points="617.0,371.1 619.4,370.7 621.8,370.3 624.2,370.6 626.6,371.0 629.0,371.5 631.4,371.8 633.8,371.4 636.2,371.1 636.2,395.3 617.0,395.3" fill="#0A84F0" />
<polygon points="650.0,371.5 661.0,370.7 672.0,371.0 683.0,370.5 694.0,370.2 704.9,370.2 715.9,370.2 726.9,371.6 737.9,371.3 737.9,395.3 650.0,395.3" fill="#0A84F0" />
<polygon points="745.5,372.0 751.1,369.7 756.6,369.4 762.2,369.1 767.8,367.4 773.3,366.8 778.9,367.8 784.4,369.2 790.0,371.1 790.0,395.3 745.5,395.3" fill="#0A84F0" />
</g>
<line x1="349.1" y1="341.4" x2="356.0" y2="341.4" stroke="#FF0000" stroke-width="1" shape-rendering="crispEdges"/>
<line x1="356.0" y1="341.4" x2="362.0" y2="341.4" stroke="#FF0000" stroke-width="1" shape-rendering="crispEdges"/>
<line x1="362.0" y1="340.8" x2="368.4" y2="340.8" stroke="#FF0000" stroke-width="1" shape-rendering="crispEdges"/>
<line x1="368.4" y1="339.5" x2="374.7" y2="339.5" stroke="#FF0000" stroke-width="1" shape-rendering="crispEdges"/>
<line x1="374.7" y1="337.3" x2="380.7" y2="337.3" stroke="#FF0000" stroke-width="1" shape-rendering="crispEdges"/>
<line x1="380.7" y1="334.5" x2="393.1" y2="334.5" stroke="#FF0000" stroke-width="1" shape-rendering="crispEdges"/>
<line x1="393.9" y1="336.7" x2="399.9" y2="336.7" stroke="#FF0000" stroke-width="1" shape-rendering="crispEdges"/>
<line x1="399.9" y1="335.4" x2="406.8" y2="335.4" stroke="#FF0000" stroke-width="1" shape-rendering="crispEdges"/>
<line x1="406.8" y1="331.2" x2="426.0" y2="331.2" stroke="#FF0000" stroke-width="1" shape-rendering="crispEdges"/>
<line x1="426.0" y1="332.1" x2="432.9" y2="332.1" stroke="#FF0000" stroke-width="1" shape-rendering="crispEdges"/>
<line x1="432.9" y1="333.4" x2="452.1" y2="333.4" stroke="#FF0000" stroke-width="1" shape-rendering="crispEdges"/>
<line x1="452.1" y1="329.3" x2="463.1" y2="329.3" stroke="#FF0000" stroke-width="1" shape-rendering="crispEdges"/>
<line x1="463.1" y1="327.7" x2="470.0" y2="327.7" stroke="#FF0000" stroke-width="1" shape-rendering="crispEdges"/>
<line x1="470.0" y1="326.3" x2="476.9" y2="326.3" stroke="#FF0000" stroke-width="1" shape-rendering="crispEdges"/>
<line x1="476.9" y1="329.3" x2="483.7" y2="329.3" stroke="#FF0000" stroke-width="1" shape-rendering="crispEdges"/>
<line x1="483.7" y1="330.4" x2="489.2" y2="330.4" stroke="#FF0000" stroke-width="1" shape-rendering="crispEdges"/>
<line x1="489.2" y1="335.4" x2="496.1" y2="335.4" stroke="#FF0000" stroke-width="1" shape-rendering="crispEdges"/>
<line x1="496.1" y1="337.3" x2="503.0" y2="337.3" stroke="#FF0000" stroke-width="1" shape-rendering="crispEdges"/>
<line x1="503.0" y1="340.3" x2="515.3" y2="340.3" stroke="#FF0000" stroke-width="1" shape-rendering="crispEdges"/>
<line x1="515.3" y1="338.9" x2="527.7" y2="338.9" stroke="#FF0000" stroke-width="1" shape-rendering="crispEdges"/>
<line x1="527.7" y1="342.2" x2="534.6" y2="342.2" stroke="#FF0000" stroke-width="1" shape-rendering="crispEdges"/>
<line x1="534.6" y1="340.8" x2="540.6" y2="340.8" stroke="#FF0000" stroke-width="1" shape-rendering="crispEdges"/>
<line x1="541.4" y1="334.5" x2="548.3" y2="334.5" stroke="#FF0000" stroke-width="1" shape-rendering="crispEdges"/>
<line x1="547.7" y1="326.3" x2="559.3" y2="326.3" stroke="#FF0000" stroke-width="1" shape-rendering="crispEdges"/>
<line x1="559.8" y1="330.4" x2="566.2" y2="330.4" stroke="#FF0000" stroke-width="1" shape-rendering="crispEdges"/>
<line x1="566.2" y1="335.4" x2="573.0" y2="335.4" stroke="#FF0000" stroke-width="1" shape-rendering="crispEdges"/>
<line x1="573.0" y1="338.6" x2="579.9" y2="338.6" stroke="#FF0000" stroke-width="1" shape-rendering="crispEdges"/>
<line x1="579.9" y1="349.1" x2="585.4" y2="349.1" stroke="#FF0000" stroke-width="1" shape-rendering="crispEdges"/>
<line x1="585.4" y1="354.6" x2="591.4" y2="354.6" stroke="#FF0000" stroke-width="1" shape-rendering="crispEdges"/>
<line x1="591.4" y1="348.5" x2="595.0" y2="348.5" stroke="#FF0000" stroke-width="1" shape-rendering="crispEdges"/>
<line x1="595.0" y1="348.5" x2="599.1" y2="348.5" stroke="#FF0000" stroke-width="1" shape-rendering="crispEdges"/>
<line x1="599.1" y1="346.3" x2="610.1" y2="346.3" stroke="#FF0000" stroke-width="1" shape-rendering="crispEdges"/>
<line x1="610.1" y1="332.6" x2="617.0" y2="332.6" stroke="#FF0000" stroke-width="1" shape-rendering="crispEdges"/>
<line x1="617.0" y1="331.2" x2="623.8" y2="331.2" stroke="#FF0000" stroke-width="1" shape-rendering="crispEdges"/>
<line x1="623.8" y1="334.0" x2="630.7" y2="334.0" stroke="#FF0000" stroke-width="1" shape-rendering="crispEdges"/>
<line x1="630.7" y1="332.1" x2="643.1" y2="332.1" stroke="#FF0000" stroke-width="1" shape-rendering="crispEdges"/>
<line x1="643.1" y1="334.0" x2="649.9" y2="334.0" stroke="#FF0000" stroke-width="1" shape-rendering="crispEdges"/>
<line x1="649.9" y1="332.6" x2="662.3" y2="332.6" stroke="#FF0000" stroke-width="1" shape-rendering="crispEdges"/>
<line x1="662.3" y1="331.2" x2="669.2" y2="331.2" stroke="#FF0000" stroke-width="1" shape-rendering="crispEdges"/>
<line x1="669.2" y1="332.6" x2="674.7" y2="332.6" stroke="#FF0000" stroke-width="1" shape-rendering="crispEdges"/>
<line x1="674.7" y1="331.2" x2="681.5" y2="331.2" stroke="#FF0000" stroke-width="1" shape-rendering="crispEdges"/>
<line x1="681.5" y1="329.3" x2="688.4" y2="329.3" stroke="#FF0000" stroke-width="1" shape-rendering="crispEdges"/>
<line x1="688.4" y1="327.9" x2="700.8" y2="327.9" stroke="#FF0000" stroke-width="1" shape-rendering="crispEdges"/>
<line x1="700.8" y1="327.1" x2="720.0" y2="327.1" stroke="#FF0000" stroke-width="1" shape-rendering="crispEdges"/>
<line x1="720.0" y1="328.5" x2="726.9" y2="328.5" stroke="#FF0000" stroke-width="1" shape-rendering="crispEdges"/>
<line x1="726.9" y1="331.8" x2="733.7" y2="331.8" stroke="#FF0000" stroke-width="1" shape-rendering="crispEdges"/>
<line x1="733.7" y1="333.2" x2="744.7" y2="333.2" stroke="#FF0000" stroke-width="1" shape-rendering="crispEdges"/>
<line x1="745.5" y1="331.2" x2="751.6" y2="331.2" stroke="#FF0000" stroke-width="1" shape-rendering="crispEdges"/>
<line x1="751.6" y1="329.0" x2="758.5" y2="329.0" stroke="#FF0000" stroke-width="1" shape-rendering="crispEdges"/>
<line x1="758.5" y1="327.1" x2="765.3" y2="327.1" stroke="#FF0000" stroke-width="1" shape-rendering="crispEdges"/>
<line x1="765.3" y1="318.9" x2="770.8" y2="318.9" stroke="#FF0000" stroke-width="1" shape-rendering="crispEdges"/>
<line x1="770.8" y1="320.2" x2="777.7" y2="320.2" stroke="#FF0000" stroke-width="1" shape-rendering="crispEdges"/>
<line x1="777.7" y1="324.9" x2="790.1" y2="324.9" stroke="#FF0000" stroke-width="1" shape-rendering="crispEdges"/>
<line x1="790.1" y1="336.2" x2="796.9" y2="336.2" stroke="#FF0000" stroke-width="1" shape-rendering="crispEdges"/>
<line x1="796.9" y1="338.6" x2="803.8" y2="338.6" stroke="#FF0000" stroke-width="1" shape-rendering="crispEdges"/>
<line x1="803.8" y1="340.0" x2="810.7" y2="340.0" stroke="#FF0000" stroke-width="1" shape-rendering="crispEdges"/>
<line x1="810.7" y1="341.7" x2="821.6" y2="341.7" stroke="#FF0000" stroke-width="1" shape-rendering="crispEdges"/>
<line x1="821.6" y1="338.6" x2="828.5" y2="338.6" stroke="#FF0000" stroke-width="1" shape-rendering="crispEdges"/>
<line x1="828.5" y1="337.3" x2="835.4" y2="337.3" stroke="#FF0000" stroke-width="1" shape-rendering="crispEdges"/>
<line x1="835.4" y1="334.0" x2="840.9" y2="334.0" stroke="#FF0000" stroke-width="1" shape-rendering="crispEdges"/>
<polyline points="349.1,373.8 358.7,374.6 368.4,373.8 373.8,371.1 380.7,371.6 386.2,373.8 394.5,374.6 399.9,378.8 406.8,373.0 412.3,371.1 424.7,371.1 431.5,373.0 438.4,370.5 450.8,371.9 456.3,371.6 463.1,369.1 471.4,368.6 482.4,369.1 487.9,370.2 494.7,373.3 503.0,372.4 508.5,373.8 515.3,373.0 534.6,373.5 540.6,377.4 546.9,373.3 553.0,368.3 560.7,371.1 571.6,373.8 578.5,377.4 584.0,378.8 590.9,376.6 595.0,375.7 608.7,376.0 617.0,371.1 622.5,370.2 630.7,371.9 636.2,371.1 647.2,371.9 658.2,370.5 669.2,371.1 688.4,370.2 718.6,370.2 726.9,371.6 737.9,371.3 744.7,372.4 750.2,369.7 762.6,369.1 770.8,366.4 781.8,368.3 790.1,371.1 796.9,372.4 802.4,375.2 809.3,374.6 820.3,375.7 831.3,373.0 841.0,371.1" fill="none" stroke="#00009C" stroke-width="2" stroke-linejoin="round" />
<line x1="361.8" y1="317.7" x2="361.8" y2="395.3" stroke="#000" stroke-width="1" stroke-dasharray="2,2" shape-rendering="crispEdges"/>
<line x1="380.9" y1="317.7" x2="380.9" y2="395.3" stroke="#000" stroke-width="1" stroke-dasharray="2,2" shape-rendering="crispEdges"/>
<line x1="400.1" y1="317.7" x2="400.1" y2="395.3" stroke="#000" stroke-width="1" stroke-dasharray="2,2" shape-rendering="crispEdges"/>
<line x1="419.3" y1="317.7" x2="419.3" y2="395.3" stroke="#000" stroke-width="1" stroke-dasharray="2,2" shape-rendering="crispEdges"/>
<line x1="438.5" y1="317.7" x2="438.5" y2="395.3" stroke="#000" stroke-width="1" stroke-dasharray="2,2" shape-rendering="crispEdges"/>
<line x1="457.6" y1="317.7" x2="457.6" y2="395.3" stroke="#000" stroke-width="1" stroke-dasharray="2,2" shape-rendering="crispEdges"/>
<line x1="476.8" y1="317.7" x2="476.8" y2="395.3" stroke="#000" stroke-width="1" stroke-dasharray="2,2" shape-rendering="crispEdges"/>
<line x1="496.0" y1="317.7" x2="496.0" y2="395.3" stroke="#000" stroke-width="1" stroke-dasharray="2,2" shape-rendering="crispEdges"/>
<line x1="515.1" y1="317.7" x2="515.1" y2="395.3" stroke="#000" stroke-width="1" stroke-dasharray="2,2" shape-rendering="crispEdges"/>
<line x1="534.3" y1="317.7" x2="534.3" y2="395.3" stroke="#000" stroke-width="1" stroke-dasharray="2,2" shape-rendering="crispEdges"/>
<line x1="553.5" y1="317.7" x2="553.5" y2="395.3" stroke="#000" stroke-width="1" stroke-dasharray="2,2" shape-rendering="crispEdges"/>
<line x1="572.6" y1="317.7" x2="572.6" y2="395.3" stroke="#000" stroke-width="1" stroke-dasharray="2,2" shape-rendering="crispEdges"/>
<line x1="591.8" y1="317.7" x2="591.8" y2="395.3" stroke="#000" stroke-width="1" stroke-dasharray="2,2" shape-rendering="crispEdges"/>
<line x1="611.0" y1="317.7" x2="611.0" y2="395.3" stroke="#000" stroke-width="1" stroke-dasharray="2,2" shape-rendering="crispEdges"/>
<line x1="630.1" y1="317.7" x2="630.1" y2="395.3" stroke="#000" stroke-width="1" stroke-dasharray="2,2" shape-rendering="crispEdges"/>
<line x1="649.3" y1="317.7" x2="649.3" y2="395.3" stroke="#000" stroke-width="1" stroke-dasharray="2,2" shape-rendering="crispEdges"/>
<line x1="668.5" y1="317.7" x2="668.5" y2="395.3" stroke="#000" stroke-width="1" stroke-dasharray="2,2" shape-rendering="crispEdges"/>
<line x1="687.6" y1="317.7" x2="687.6" y2="395.3" stroke="#000" stroke-width="1" stroke-dasharray="2,2" shape-rendering="crispEdges"/>
<line x1="706.8" y1="317.7" x2="706.8" y2="395.3" stroke="#000" stroke-width="1" stroke-dasharray="2,2" shape-rendering="crispEdges"/>
<line x1="726.0" y1="317.7" x2="726.0" y2="395.3" stroke="#000" stroke-width="1" stroke-dasharray="2,2" shape-rendering="crispEdges"/>
<line x1="745.2" y1="317.7" x2="745.2" y2="395.3" stroke="#000" stroke-width="1" stroke-dasharray="2,2" shape-rendering="crispEdges"/>
<line x1="764.3" y1="317.7" x2="764.3" y2="395.3" stroke="#000" stroke-width="1" stroke-dasharray="2,2" shape-rendering="crispEdges"/>
<line x1="783.5" y1="317.7" x2="783.5" y2="395.3" stroke="#000" stroke-width="1" stroke-dasharray="2,2" shape-rendering="crispEdges"/>
<line x1="802.7" y1="317.7" x2="802.7" y2="395.3" stroke="#000" stroke-width="1" stroke-dasharray="2,2" shape-rendering="crispEdges"/>
<line x1="821.8" y1="317.7" x2="821.8" y2="395.3" stroke="#000" stroke-width="1" stroke-dasharray="2,2" shape-rendering="crispEdges"/>
<line x1="349.0" y1="318.3" x2="841.0" y2="318.3" stroke="#000" stroke-width="1" stroke-dasharray="2,2" shape-rendering="crispEdges"/>
<line x1="349.0" y1="334.0" x2="841.0" y2="334.0" stroke="#000" stroke-width="1" stroke-dasharray="2,2" shape-rendering="crispEdges"/>
<line x1="349.0" y1="349.3" x2="841.0" y2="349.3" stroke="#000" stroke-width="1" stroke-dasharray="2,2" shape-rendering="crispEdges"/>
<line x1="349.0" y1="364.3" x2="841.0" y2="364.3" stroke="#000" stroke-width="1" stroke-dasharray="2,2" shape-rendering="crispEdges"/>
<line x1="349.0" y1="380.0" x2="841.0" y2="380.0" stroke="#000" stroke-width="1" stroke-dasharray="2,2" shape-rendering="crispEdges"/>
<rect x="349.0" y="317.7" width="492.0" height="77.6" fill="none" stroke="#222" stroke-width="1" shape-rendering="crispEdges"/>
<rect x="349.0" y="401.5" width="492.0" height="30.5" fill="#FFFFFF" />
<rect x="349.0" y="401.5" width="30.0" height="30.5" fill="#E8E8E8" />
<rect x="437.5" y="401.5" width="95.4" height="30.5" fill="#E8E8E8" />
<rect x="590.3" y="401.5" width="96.2" height="30.5" fill="#E8E8E8" />
<rect x="744.8" y="401.5" width="95.7" height="30.5" fill="#E8E8E8" />
<line x1="361.8" y1="401.5" x2="361.8" y2="432.0" stroke="#000" stroke-width="1" stroke-dasharray="2,2" shape-rendering="crispEdges"/>
<line x1="380.9" y1="401.5" x2="380.9" y2="432.0" stroke="#000" stroke-width="1" stroke-dasharray="2,2" shape-rendering="crispEdges"/>
<line x1="400.1" y1="401.5" x2="400.1" y2="432.0" stroke="#000" stroke-width="1" stroke-dasharray="2,2" shape-rendering="crispEdges"/>
<line x1="419.3" y1="401.5" x2="419.3" y2="432.0" stroke="#000" stroke-width="1" stroke-dasharray="2,2" shape-rendering="crispEdges"/>
<line x1="438.5" y1="401.5" x2="438.5" y2="432.0" stroke="#000" stroke-width="1" stroke-dasharray="2,2" shape-rendering="crispEdges"/>
<line x1="457.6" y1="401.5" x2="457.6" y2="432.0" stroke="#000" stroke-width="1" stroke-dasharray="2,2" shape-rendering="crispEdges"/>
<line x1="476.8" y1="401.5" x2="476.8" y2="432.0" stroke="#000" stroke-width="1" stroke-dasharray="2,2" shape-rendering="crispEdges"/>
<line x1="496.0" y1="401.5" x2="496.0" y2="432.0" stroke="#000" stroke-width="1" stroke-dasharray="2,2" shape-rendering="crispEdges"/>
<line x1="515.1" y1="401.5" x2="515.1" y2="432.0" stroke="#000" stroke-width="1" stroke-dasharray="2,2" shape-rendering="crispEdges"/>
<line x1="534.3" y1="401.5" x2="534.3" y2="432.0" stroke="#000" stroke-width="1" stroke-dasharray="2,2" shape-rendering="crispEdges"/>
<line x1="553.5" y1="401.5" x2="553.5" y2="432.0" stroke="#000" stroke-width="1" stroke-dasharray="2,2" shape-rendering="crispEdges"/>
<line x1="572.6" y1="401.5" x2="572.6" y2="432.0" stroke="#000" stroke-width="1" stroke-dasharray="2,2" shape-rendering="crispEdges"/>
<line x1="591.8" y1="401.5" x2="591.8" y2="432.0" stroke="#000" stroke-width="1" stroke-dasharray="2,2" shape-rendering="crispEdges"/>
<line x1="611.0" y1="401.5" x2="611.0" y2="432.0" stroke="#000" stroke-width="1" stroke-dasharray="2,2" shape-rendering="crispEdges"/>
<line x1="630.1" y1="401.5" x2="630.1" y2="432.0" stroke="#000" stroke-width="1" stroke-dasharray="2,2" shape-rendering="crispEdges"/>
<line x1="649.3" y1="401.5" x2="649.3" y2="432.0" stroke="#000" stroke-width="1" stroke-dasharray="2,2" shape-rendering="crispEdges"/>
<line x1="668.5" y1="401.5" x2="668.5" y2="432.0" stroke="#000" stroke-width="1" stroke-dasharray="2,2" shape-rendering="crispEdges"/>
<line x1="687.6" y1="401.5" x2="687.6" y2="432.0" stroke="#000" stroke-width="1" stroke-dasharray="2,2" shape-rendering="crispEdges"/>
<line x1="706.8" y1="401.5" x2="706.8" y2="432.0" stroke="#000" stroke-width="1" stroke-dasharray="2,2" shape-rendering="crispEdges"/>
<line x1="726.0" y1="401.5" x2="726.0" y2="432.0" stroke="#000" stroke-width="1" stroke-dasharray="2,2" shape-rendering="crispEdges"/>
<line x1="745.2" y1="401.5" x2="745.2" y2="432.0" stroke="#000" stroke-width="1" stroke-dasharray="2,2" shape-rendering="crispEdges"/>
<line x1="764.3" y1="401.5" x2="764.3" y2="432.0" stroke="#000" stroke-width="1" stroke-dasharray="2,2" shape-rendering="crispEdges"/>
<line x1="783.5" y1="401.5" x2="783.5" y2="432.0" stroke="#000" stroke-width="1" stroke-dasharray="2,2" shape-rendering="crispEdges"/>
<line x1="802.7" y1="401.5" x2="802.7" y2="432.0" stroke="#000" stroke-width="1" stroke-dasharray="2,2" shape-rendering="crispEdges"/>
<line x1="821.8" y1="401.5" x2="821.8" y2="432.0" stroke="#000" stroke-width="1" stroke-dasharray="2,2" shape-rendering="crispEdges"/>
<line x1="347.0" y1="422.7" x2="350.2" y2="412.8" stroke="#0000A0" stroke-width="1.3" />
<polygon points="351.0,410.3 351.7,415.9 347.2,414.4" fill="#0000A0" />
<line x1="353.4" y1="422.7" x2="356.6" y2="412.8" stroke="#0000A0" stroke-width="1.3" />
<polygon points="357.4,410.3 358.1,415.9 353.6,414.4" fill="#0000A0" />
<line x1="359.8" y1="422.7" x2="363.0" y2="412.8" stroke="#0000A0" stroke-width="1.3" />
<polygon points="363.8,410.3 364.5,415.9 360.0,414.4" fill="#0000A0" />
<line x1="366.2" y1="422.7" x2="369.4" y2="412.8" stroke="#0000A0" stroke-width="1.3" />
<polygon points="370.2,410.3 370.8,415.9 366.4,414.4" fill="#0000A0" />
<line x1="372.5" y1="422.7" x2="375.8" y2="412.8" stroke="#0000A0" stroke-width="1.3" />
<polygon points="376.6,410.3 377.2,415.9 372.8,414.4" fill="#0000A0" />
<line x1="378.9" y1="422.7" x2="382.2" y2="412.8" stroke="#0000A0" stroke-width="1.3" />
<polygon points="383.0,410.3 383.6,415.9 379.2,414.4" fill="#0000A0" />
<line x1="385.3" y1="422.7" x2="388.5" y2="412.8" stroke="#0000A0" stroke-width="1.3" />
<polygon points="389.3,410.3 390.0,415.9 385.5,414.4" fill="#0000A0" />
<line x1="392.4" y1="422.9" x2="394.5" y2="412.7" stroke="#0000A0" stroke-width="1.3" />
<polygon points="395.1,410.1 396.3,415.6 391.7,414.6" fill="#0000A0" />
<line x1="398.8" y1="422.9" x2="400.9" y2="412.7" stroke="#0000A0" stroke-width="1.3" />
<polygon points="401.5,410.1 402.7,415.6 398.1,414.6" fill="#0000A0" />
<line x1="405.2" y1="422.9" x2="407.3" y2="412.7" stroke="#0000A0" stroke-width="1.3" />
<polygon points="407.9,410.1 409.1,415.6 404.5,414.6" fill="#0000A0" />
<line x1="412.4" y1="423.0" x2="413.2" y2="412.6" stroke="#0000A0" stroke-width="1.3" />
<polygon points="413.3,410.0 415.3,415.2 410.7,414.9" fill="#0000A0" />
<line x1="419.7" y1="423.0" x2="419.0" y2="412.6" stroke="#0000A0" stroke-width="1.3" />
<polygon points="418.8,410.0 421.5,414.9 416.8,415.2" fill="#0000A0" />
<line x1="427.7" y1="422.7" x2="424.5" y2="412.8" stroke="#0000A0" stroke-width="1.3" />
<polygon points="423.7,410.3 427.5,414.4 423.0,415.9" fill="#0000A0" />
<line x1="432.2" y1="423.0" x2="432.0" y2="412.6" stroke="#0000A0" stroke-width="1.3" />
<polygon points="432.0,410.0 434.4,415.0 429.7,415.1" fill="#0000A0" />
<line x1="438.6" y1="423.0" x2="438.4" y2="412.6" stroke="#0000A0" stroke-width="1.3" />
<polygon points="438.3,410.0 440.8,415.0 436.1,415.1" fill="#0000A0" />
<line x1="445.0" y1="423.0" x2="444.8" y2="412.6" stroke="#0000A0" stroke-width="1.3" />
<polygon points="444.7,410.0 447.2,415.0 442.5,415.1" fill="#0000A0" />
<line x1="451.3" y1="423.0" x2="451.2" y2="412.6" stroke="#0000A0" stroke-width="1.3" />
<polygon points="451.1,410.0 453.6,415.0 448.9,415.1" fill="#0000A0" />
<line x1="457.7" y1="423.0" x2="457.6" y2="412.6" stroke="#0000A0" stroke-width="1.3" />
<polygon points="457.5,410.0 459.9,415.0 455.2,415.1" fill="#0000A0" />
<line x1="464.1" y1="423.0" x2="463.9" y2="412.6" stroke="#0000A0" stroke-width="1.3" />
<polygon points="463.9,410.0 466.3,415.0 461.6,415.1" fill="#0000A0" />
<line x1="470.5" y1="423.0" x2="470.3" y2="412.6" stroke="#0000A0" stroke-width="1.3" />
<polygon points="470.3,410.0 472.7,415.0 468.0,415.1" fill="#0000A0" />
<line x1="476.9" y1="423.0" x2="476.7" y2="412.6" stroke="#0000A0" stroke-width="1.3" />
<polygon points="476.7,410.0 479.1,415.0 474.4,415.1" fill="#0000A0" />
<line x1="482.3" y1="422.9" x2="483.7" y2="412.6" stroke="#0000A0" stroke-width="1.3" />
<polygon points="484.1,410.1 485.7,415.4 481.1,414.8" fill="#0000A0" />
<line x1="488.7" y1="422.9" x2="490.1" y2="412.6" stroke="#0000A0" stroke-width="1.3" />
<polygon points="490.5,410.1 492.1,415.4 487.4,414.8" fill="#0000A0" />
<line x1="495.1" y1="422.9" x2="496.5" y2="412.6" stroke="#0000A0" stroke-width="1.3" />
<polygon points="496.9,410.1 498.5,415.4 493.8,414.8" fill="#0000A0" />
<line x1="501.4" y1="422.9" x2="502.9" y2="412.6" stroke="#0000A0" stroke-width="1.3" />
<polygon points="503.3,410.1 504.9,415.4 500.2,414.8" fill="#0000A0" />
<line x1="507.3" y1="422.8" x2="509.6" y2="412.7" stroke="#0000A0" stroke-width="1.3" />
<polygon points="510.2,410.2 511.4,415.6 506.8,414.6" fill="#0000A0" />
<line x1="513.7" y1="422.8" x2="516.0" y2="412.7" stroke="#0000A0" stroke-width="1.3" />
<polygon points="516.6,410.2 517.7,415.6 513.2,414.6" fill="#0000A0" />
<line x1="520.1" y1="422.8" x2="522.4" y2="412.7" stroke="#0000A0" stroke-width="1.3" />
<polygon points="523.0,410.2 524.1,415.6 519.6,414.6" fill="#0000A0" />
<line x1="526.4" y1="422.8" x2="528.8" y2="412.7" stroke="#0000A0" stroke-width="1.3" />
<polygon points="529.4,410.2 530.5,415.6 525.9,414.6" fill="#0000A0" />
<line x1="532.8" y1="422.8" x2="535.2" y2="412.7" stroke="#0000A0" stroke-width="1.3" />
<polygon points="535.8,410.2 536.9,415.6 532.3,414.6" fill="#0000A0" />
<line x1="539.2" y1="422.8" x2="541.6" y2="412.7" stroke="#0000A0" stroke-width="1.3" />
<polygon points="542.2,410.2 543.3,415.6 538.7,414.6" fill="#0000A0" />
<line x1="545.6" y1="422.8" x2="548.0" y2="412.7" stroke="#0000A0" stroke-width="1.3" />
<polygon points="548.5,410.2 549.7,415.6 545.1,414.6" fill="#0000A0" />
<line x1="552.0" y1="422.8" x2="554.3" y2="412.7" stroke="#0000A0" stroke-width="1.3" />
<polygon points="554.9,410.2 556.1,415.6 551.5,414.6" fill="#0000A0" />
<line x1="558.4" y1="422.8" x2="560.7" y2="412.7" stroke="#0000A0" stroke-width="1.3" />
<polygon points="561.3,410.2 562.5,415.6 557.9,414.6" fill="#0000A0" />
<line x1="564.8" y1="422.8" x2="567.1" y2="412.7" stroke="#0000A0" stroke-width="1.3" />
<polygon points="567.7,410.2 568.9,415.6 564.3,414.6" fill="#0000A0" />
<line x1="571.2" y1="422.8" x2="573.5" y2="412.7" stroke="#0000A0" stroke-width="1.3" />
<polygon points="574.1,410.2 575.2,415.6 570.7,414.6" fill="#0000A0" />
<line x1="577.6" y1="422.8" x2="579.9" y2="412.7" stroke="#0000A0" stroke-width="1.3" />
<polygon points="580.5,410.2 581.6,415.6 577.1,414.6" fill="#0000A0" />
<line x1="584.0" y1="422.8" x2="586.3" y2="412.7" stroke="#0000A0" stroke-width="1.3" />
<polygon points="586.9,410.2 588.0,415.6 583.4,414.6" fill="#0000A0" />
<line x1="591.4" y1="423.0" x2="592.1" y2="412.6" stroke="#0000A0" stroke-width="1.3" />
<polygon points="592.3,410.0 594.2,415.2 589.6,414.9" fill="#0000A0" />
<line x1="598.3" y1="423.0" x2="598.1" y2="412.6" stroke="#0000A0" stroke-width="1.3" />
<polygon points="598.1,410.0 600.5,415.0 595.8,415.1" fill="#0000A0" />
<line x1="604.7" y1="423.0" x2="604.5" y2="412.6" stroke="#0000A0" stroke-width="1.3" />
<polygon points="604.5,410.0 606.9,415.0 602.2,415.1" fill="#0000A0" />
<line x1="611.1" y1="423.0" x2="610.9" y2="412.6" stroke="#0000A0" stroke-width="1.3" />
<polygon points="610.9,410.0 613.3,415.0 608.6,415.1" fill="#0000A0" />
<line x1="617.5" y1="423.0" x2="617.3" y2="412.6" stroke="#0000A0" stroke-width="1.3" />
<polygon points="617.3,410.0 619.7,415.0 615.0,415.1" fill="#0000A0" />
<line x1="623.9" y1="423.0" x2="623.7" y2="412.6" stroke="#0000A0" stroke-width="1.3" />
<polygon points="623.6,410.0 626.1,415.0 621.4,415.1" fill="#0000A0" />
<line x1="630.3" y1="423.0" x2="630.1" y2="412.6" stroke="#0000A0" stroke-width="1.3" />
<polygon points="630.0,410.0 632.5,415.0 627.8,415.1" fill="#0000A0" />
<line x1="636.6" y1="423.0" x2="636.5" y2="412.6" stroke="#0000A0" stroke-width="1.3" />
<polygon points="636.4,410.0 638.9,415.0 634.2,415.1" fill="#0000A0" />
<line x1="643.5" y1="423.0" x2="642.6" y2="412.6" stroke="#0000A0" stroke-width="1.3" />
<polygon points="642.4,410.0 645.1,414.9 640.5,415.3" fill="#0000A0" />
<line x1="649.9" y1="423.0" x2="649.0" y2="412.6" stroke="#0000A0" stroke-width="1.3" />
<polygon points="648.7,410.0 651.5,414.9 646.8,415.3" fill="#0000A0" />
<line x1="656.3" y1="423.0" x2="655.4" y2="412.6" stroke="#0000A0" stroke-width="1.3" />
<polygon points="655.1,410.0 657.9,414.9 653.2,415.3" fill="#0000A0" />
<line x1="662.7" y1="423.0" x2="661.8" y2="412.6" stroke="#0000A0" stroke-width="1.3" />
<polygon points="661.5,410.0 664.3,414.9 659.6,415.3" fill="#0000A0" />
<line x1="669.0" y1="423.0" x2="668.1" y2="412.6" stroke="#0000A0" stroke-width="1.3" />
<polygon points="667.9,410.0 670.7,414.9 666.0,415.3" fill="#0000A0" />
<line x1="675.4" y1="423.0" x2="674.5" y2="412.6" stroke="#0000A0" stroke-width="1.3" />
<polygon points="674.3,410.0 677.1,414.9 672.4,415.3" fill="#0000A0" />
<line x1="681.8" y1="423.0" x2="680.9" y2="412.6" stroke="#0000A0" stroke-width="1.3" />
<polygon points="680.7,410.0 683.5,414.9 678.8,415.3" fill="#0000A0" />
<line x1="688.8" y1="422.9" x2="687.0" y2="412.7" stroke="#0000A0" stroke-width="1.3" />
<polygon points="686.5,410.1 689.7,414.7 685.1,415.5" fill="#0000A0" />
<line x1="695.2" y1="422.9" x2="693.4" y2="412.7" stroke="#0000A0" stroke-width="1.3" />
<polygon points="692.9,410.1 696.1,414.7 691.5,415.5" fill="#0000A0" />
<line x1="701.6" y1="422.9" x2="699.8" y2="412.7" stroke="#0000A0" stroke-width="1.3" />
<polygon points="699.3,410.1 702.5,414.7 697.9,415.5" fill="#0000A0" />
<line x1="707.9" y1="422.9" x2="706.1" y2="412.7" stroke="#0000A0" stroke-width="1.3" />
<polygon points="705.7,410.1 708.9,414.7 704.3,415.5" fill="#0000A0" />
<line x1="714.3" y1="422.9" x2="712.5" y2="412.7" stroke="#0000A0" stroke-width="1.3" />
<polygon points="712.1,410.1 715.3,414.7 710.6,415.5" fill="#0000A0" />
<line x1="720.7" y1="422.9" x2="718.9" y2="412.7" stroke="#0000A0" stroke-width="1.3" />
<polygon points="718.5,410.1 721.7,414.7 717.0,415.5" fill="#0000A0" />
<line x1="727.1" y1="422.9" x2="725.3" y2="412.7" stroke="#0000A0" stroke-width="1.3" />
<polygon points="724.9,410.1 728.1,414.7 723.4,415.5" fill="#0000A0" />
<line x1="733.5" y1="422.9" x2="731.7" y2="412.7" stroke="#0000A0" stroke-width="1.3" />
<polygon points="731.2,410.1 734.4,414.7 729.8,415.5" fill="#0000A0" />
<line x1="739.3" y1="423.0" x2="738.4" y2="412.6" stroke="#0000A0" stroke-width="1.3" />
<polygon points="738.2,410.0 741.0,414.9 736.3,415.3" fill="#0000A0" />
<line x1="745.7" y1="423.0" x2="744.8" y2="412.6" stroke="#0000A0" stroke-width="1.3" />
<polygon points="744.6,410.0 747.4,414.9 742.7,415.3" fill="#0000A0" />
<line x1="752.1" y1="423.0" x2="751.2" y2="412.6" stroke="#0000A0" stroke-width="1.3" />
<polygon points="751.0,410.0 753.8,414.9 749.1,415.3" fill="#0000A0" />
<line x1="757.9" y1="423.0" x2="757.9" y2="412.6" stroke="#0000A0" stroke-width="1.3" />
<polygon points="757.9,410.0 760.3,415.1 755.6,415.1" fill="#0000A0" />
<line x1="764.3" y1="423.0" x2="764.3" y2="412.6" stroke="#0000A0" stroke-width="1.3" />
<polygon points="764.3,410.0 766.7,415.1 762.0,415.1" fill="#0000A0" />
<line x1="770.7" y1="423.0" x2="770.7" y2="412.6" stroke="#0000A0" stroke-width="1.3" />
<polygon points="770.7,410.0 773.1,415.1 768.4,415.1" fill="#0000A0" />
<line x1="776.3" y1="423.0" x2="777.6" y2="412.6" stroke="#0000A0" stroke-width="1.3" />
<polygon points="777.9,410.0 779.6,415.4 774.9,414.8" fill="#0000A0" />
<line x1="782.7" y1="423.0" x2="784.0" y2="412.6" stroke="#0000A0" stroke-width="1.3" />
<polygon points="784.3,410.0 786.0,415.4 781.3,414.8" fill="#0000A0" />
<line x1="788.4" y1="422.8" x2="790.8" y2="412.7" stroke="#0000A0" stroke-width="1.3" />
<polygon points="791.3,410.2 792.5,415.6 787.9,414.6" fill="#0000A0" />
<line x1="794.8" y1="422.8" x2="797.2" y2="412.7" stroke="#0000A0" stroke-width="1.3" />
<polygon points="797.7,410.2 798.9,415.6 794.3,414.6" fill="#0000A0" />
<line x1="801.2" y1="422.8" x2="803.5" y2="412.7" stroke="#0000A0" stroke-width="1.3" />
<polygon points="804.1,410.2 805.3,415.6 800.7,414.6" fill="#0000A0" />
<line x1="807.6" y1="422.8" x2="809.9" y2="412.7" stroke="#0000A0" stroke-width="1.3" />
<polygon points="810.5,410.2 811.7,415.6 807.1,414.6" fill="#0000A0" />
<line x1="815.3" y1="423.0" x2="815.5" y2="412.6" stroke="#0000A0" stroke-width="1.3" />
<polygon points="815.6,410.0 817.8,415.1 813.1,415.0" fill="#0000A0" />
<line x1="821.7" y1="423.0" x2="821.9" y2="412.6" stroke="#0000A0" stroke-width="1.3" />
<polygon points="821.9,410.0 824.2,415.1 819.5,415.0" fill="#0000A0" />
<line x1="828.1" y1="423.0" x2="828.3" y2="412.6" stroke="#0000A0" stroke-width="1.3" />
<polygon points="828.3,410.0 830.6,415.1 825.9,415.0" fill="#0000A0" />
<line x1="834.5" y1="423.0" x2="834.7" y2="412.6" stroke="#0000A0" stroke-width="1.3" />
<polygon points="834.7,410.0 837.0,415.1 832.3,415.0" fill="#0000A0" />
<line x1="840.9" y1="423.0" x2="841.1" y2="412.6" stroke="#0000A0" stroke-width="1.3" />
<polygon points="841.1,410.0 843.4,415.1 838.7,415.0" fill="#0000A0" />
<rect x="349.0" y="401.5" width="492.0" height="30.5" fill="none" stroke="#222" stroke-width="1" shape-rendering="crispEdges"/>
<line x1="349.0" y1="432.3" x2="841.5" y2="432.3" stroke="#555" stroke-width="1.6" />
<line x1="841.2" y1="401.5" x2="841.2" y2="433.0" stroke="#333" stroke-width="1.4" />
<rect x="349.0" y="438.0" width="492.0" height="78.5" fill="#8AD3FA" />
<rect x="349.0" y="438.0" width="30.0" height="78.5" fill="#80C0EC" />
<rect x="437.5" y="438.0" width="95.4" height="78.5" fill="#80C0EC" />
<rect x="590.3" y="438.0" width="96.2" height="78.5" fill="#80C0EC" />
<rect x="744.8" y="438.0" width="95.7" height="78.5" fill="#80C0EC" />
<clipPath id="c4"><rect x="348.0" y="438.0" width="494.0" height="78.5"/></clipPath><g clip-path="url(#c4)">
<circle cx="349.7" cy="509.7" r="2.7" fill="#4A4A4A" />
<circle cx="355.3" cy="509.7" r="2.7" fill="#4A4A4A" />
<circle cx="355.3" cy="506.9" r="2.7" fill="#000000" />
<circle cx="361.4" cy="509.7" r="2.7" fill="#000000" />
<circle cx="367.8" cy="510.6" r="2.7" fill="#000000" />
<circle cx="374.3" cy="510.2" r="2.7" fill="#000000" />
<circle cx="380.5" cy="510.6" r="2.7" fill="#000000" />
<circle cx="387.2" cy="509.7" r="2.7" fill="#000000" />
<circle cx="393.6" cy="507.4" r="2.7" fill="#000000" />
<circle cx="399.7" cy="505.9" r="2.7" fill="#9A9A9A" />
<circle cx="399.7" cy="509.7" r="2.7" fill="#FFFFFF" />
<circle cx="399.7" cy="495.3" r="2.7" fill="#000000" />
<circle cx="406.1" cy="505.9" r="2.7" fill="#9A9A9A" />
<circle cx="406.1" cy="509.7" r="2.7" fill="#FFFFFF" />
<circle cx="412.6" cy="506.9" r="2.7" fill="#FFFFFF" />
<circle cx="419.2" cy="504.1" r="2.7" fill="#FFFFFF" />
<circle cx="457.1" cy="508.7" r="2.7" fill="#FFFFFF" />
<circle cx="463.8" cy="509.1" r="2.7" fill="#FFFFFF" />
<circle cx="470.2" cy="508.7" r="2.7" fill="#FFFFFF" />
<circle cx="476.7" cy="508.7" r="2.7" fill="#FFFFFF" />
<circle cx="483.2" cy="509.3" r="2.7" fill="#FFFFFF" />
<circle cx="489.8" cy="509.7" r="2.7" fill="#FFFFFF" />
<circle cx="495.9" cy="510.2" r="2.7" fill="#FFFFFF" />
<circle cx="502.5" cy="508.4" r="2.7" fill="#CFCFCF" />
<circle cx="508.8" cy="509.7" r="2.7" fill="#CFCFCF" />
<circle cx="515.0" cy="508.7" r="2.7" fill="#CFCFCF" />
<circle cx="412.6" cy="448.0" r="2.7" fill="#9A9A9A" />
<circle cx="412.6" cy="460.2" r="2.7" fill="#CFCFCF" />
<circle cx="419.2" cy="463.9" r="2.7" fill="#9A9A9A" />
<circle cx="425.3" cy="465.8" r="2.7" fill="#CFCFCF" />
<circle cx="431.9" cy="463.9" r="2.7" fill="#CFCFCF" />
<circle cx="431.9" cy="467.3" r="2.7" fill="#FFFFFF" />
<circle cx="438.4" cy="462.0" r="2.7" fill="#CFCFCF" />
<circle cx="438.4" cy="466.7" r="2.7" fill="#FFFFFF" />
<circle cx="444.9" cy="467.3" r="2.7" fill="#FFFFFF" />
<circle cx="451.1" cy="468.2" r="2.7" fill="#FFFFFF" />
<circle cx="431.9" cy="444.6" r="2.7" fill="#9A9A9A" />
<circle cx="444.9" cy="448.9" r="2.7" fill="#CFCFCF" />
<circle cx="451.1" cy="446.7" r="2.7" fill="#9A9A9A" />
<circle cx="451.1" cy="449.3" r="2.7" fill="#CFCFCF" />
<circle cx="457.6" cy="446.7" r="2.7" fill="#9A9A9A" />
<circle cx="457.6" cy="449.3" r="2.7" fill="#CFCFCF" />
<circle cx="464.0" cy="446.7" r="2.7" fill="#9A9A9A" />
<circle cx="464.0" cy="450.8" r="2.7" fill="#CFCFCF" />
<circle cx="470.2" cy="451.7" r="2.7" fill="#CFCFCF" />
<circle cx="476.7" cy="452.7" r="2.7" fill="#E4E2DC" />
<circle cx="483.2" cy="453.2" r="2.7" fill="#E4E2DC" />
<circle cx="489.8" cy="452.7" r="2.7" fill="#E4E2DC" />
<circle cx="495.9" cy="451.7" r="2.7" fill="#E4E2DC" />
<circle cx="515.2" cy="509.7" r="2.7" fill="#9A9A9A" />
<circle cx="521.6" cy="509.7" r="2.7" fill="#9A9A9A" />
<circle cx="521.6" cy="506.9" r="2.7" fill="#4A4A4A" />
<circle cx="527.7" cy="509.7" r="2.7" fill="#4A4A4A" />
<circle cx="527.7" cy="505.9" r="2.7" fill="#000000" />
<circle cx="534.3" cy="509.7" r="2.7" fill="#4A4A4A" />
<circle cx="534.3" cy="506.9" r="2.7" fill="#000000" />
<circle cx="540.5" cy="508.4" r="2.7" fill="#000000" />
<circle cx="547.0" cy="506.5" r="2.7" fill="#000000" />
<circle cx="553.3" cy="508.7" r="2.7" fill="#FFFFFF" />
<circle cx="553.3" cy="505.0" r="2.7" fill="#000000" />
<circle cx="559.9" cy="508.7" r="2.7" fill="#FFFFFF" />
<circle cx="559.9" cy="505.0" r="2.7" fill="#9A9A9A" />
<circle cx="566.0" cy="505.9" r="2.7" fill="#CFCFCF" />
<circle cx="572.6" cy="505.9" r="2.7" fill="#E4E2DC" />
<circle cx="579.1" cy="506.5" r="2.7" fill="#FFFFFF" />
<circle cx="585.3" cy="507.8" r="2.7" fill="#FFFFFF" />
<circle cx="591.8" cy="510.2" r="2.7" fill="#FFFFFF" />
<circle cx="598.2" cy="509.7" r="2.7" fill="#CFCFCF" />
<circle cx="604.7" cy="509.7" r="2.7" fill="#CFCFCF" />
<circle cx="610.9" cy="508.4" r="2.7" fill="#000000" />
<circle cx="566.0" cy="446.1" r="2.7" fill="#9A9A9A" />
<circle cx="572.6" cy="447.5" r="2.7" fill="#9A9A9A" />
<circle cx="579.1" cy="450.4" r="2.7" fill="#CFCFCF" />
<circle cx="585.3" cy="450.4" r="2.7" fill="#CFCFCF" />
<circle cx="591.8" cy="450.4" r="2.7" fill="#E4E2DC" />
<circle cx="617.4" cy="510.2" r="2.7" fill="#000000" />
<circle cx="623.8" cy="510.2" r="2.7" fill="#000000" />
<circle cx="630.2" cy="510.2" r="2.7" fill="#000000" />
<circle cx="636.6" cy="510.2" r="2.7" fill="#000000" />
<circle cx="643.0" cy="510.2" r="2.7" fill="#000000" />
<circle cx="649.4" cy="510.2" r="2.7" fill="#000000" />
<circle cx="655.8" cy="510.2" r="2.7" fill="#000000" />
<circle cx="662.1" cy="510.2" r="2.7" fill="#000000" />
<circle cx="668.5" cy="510.2" r="2.7" fill="#000000" />
<circle cx="674.9" cy="510.2" r="2.7" fill="#000000" />
<circle cx="675.0" cy="510.2" r="2.7" fill="#000000" />
<circle cx="681.4" cy="510.2" r="2.7" fill="#000000" />
<circle cx="687.8" cy="510.2" r="2.7" fill="#000000" />
<circle cx="694.2" cy="510.2" r="2.7" fill="#000000" />
<circle cx="700.6" cy="510.2" r="2.7" fill="#000000" />
<circle cx="706.9" cy="510.2" r="2.7" fill="#000000" />
<circle cx="713.3" cy="510.0" r="2.7" fill="#9A9A9A" />
<circle cx="713.3" cy="507.4" r="2.7" fill="#000000" />
<circle cx="719.7" cy="510.0" r="2.7" fill="#9A9A9A" />
<circle cx="719.7" cy="507.4" r="2.7" fill="#000000" />
<circle cx="726.1" cy="510.0" r="2.7" fill="#9A9A9A" />
<circle cx="726.1" cy="507.4" r="2.7" fill="#000000" />
<circle cx="732.5" cy="510.0" r="2.7" fill="#9A9A9A" />
<circle cx="732.5" cy="507.4" r="2.7" fill="#000000" />
<circle cx="738.9" cy="510.4" r="2.7" fill="#9A9A9A" />
<circle cx="738.9" cy="507.8" r="2.7" fill="#000000" />
<circle cx="745.3" cy="510.0" r="2.7" fill="#9A9A9A" />
<circle cx="745.3" cy="507.4" r="2.7" fill="#000000" />
<circle cx="751.7" cy="511.0" r="2.7" fill="#9A9A9A" />
<circle cx="751.7" cy="508.4" r="2.7" fill="#000000" />
<circle cx="758.1" cy="511.3" r="2.7" fill="#9A9A9A" />
<circle cx="758.1" cy="508.7" r="2.7" fill="#000000" />
<circle cx="764.4" cy="512.8" r="2.7" fill="#9A9A9A" />
<circle cx="764.4" cy="510.2" r="2.7" fill="#000000" />
<circle cx="770.8" cy="509.5" r="2.7" fill="#9A9A9A" />
<circle cx="770.8" cy="506.9" r="2.7" fill="#000000" />
<circle cx="777.2" cy="511.9" r="2.7" fill="#9A9A9A" />
<circle cx="777.2" cy="509.3" r="2.7" fill="#000000" />
<circle cx="783.6" cy="509.5" r="2.7" fill="#9A9A9A" />
<circle cx="783.6" cy="506.9" r="2.7" fill="#000000" />
<circle cx="790.0" cy="506.7" r="2.7" fill="#9A9A9A" />
<circle cx="790.0" cy="504.1" r="2.7" fill="#000000" />
<circle cx="796.4" cy="506.7" r="2.7" fill="#9A9A9A" />
<circle cx="796.4" cy="504.1" r="2.7" fill="#000000" />
<circle cx="802.8" cy="508.2" r="2.7" fill="#9A9A9A" />
<circle cx="802.8" cy="505.5" r="2.7" fill="#000000" />
<circle cx="809.2" cy="508.5" r="2.7" fill="#9A9A9A" />
<circle cx="809.2" cy="505.9" r="2.7" fill="#000000" />
<circle cx="815.6" cy="507.6" r="2.7" fill="#9A9A9A" />
<circle cx="815.6" cy="505.0" r="2.7" fill="#000000" />
<circle cx="821.9" cy="509.5" r="2.7" fill="#9A9A9A" />
<circle cx="821.9" cy="506.9" r="2.7" fill="#000000" />
<circle cx="828.3" cy="511.9" r="2.7" fill="#9A9A9A" />
<circle cx="828.3" cy="509.3" r="2.7" fill="#000000" />
<circle cx="834.7" cy="511.9" r="2.7" fill="#9A9A9A" />
<circle cx="834.7" cy="509.3" r="2.7" fill="#000000" />
<circle cx="841.1" cy="512.8" r="2.7" fill="#9A9A9A" />
<circle cx="841.1" cy="510.2" r="2.7" fill="#000000" />
<circle cx="349.0" cy="443.8" r="2.7" fill="#B22222" />
<circle cx="355.4" cy="443.8" r="2.7" fill="#B22222" />
<circle cx="361.8" cy="443.8" r="2.7" fill="#B22222" />
<circle cx="368.2" cy="443.8" r="2.7" fill="#B22222" />
<circle cx="374.6" cy="443.8" r="2.7" fill="#B22222" />
<circle cx="380.9" cy="443.8" r="2.7" fill="#B22222" />
<circle cx="387.3" cy="443.8" r="2.7" fill="#B22222" />
<circle cx="393.7" cy="443.8" r="2.7" fill="#B22222" />
<circle cx="400.1" cy="443.8" r="2.7" fill="#B22222" />
<circle cx="406.5" cy="443.8" r="2.7" fill="#B22222" />
<circle cx="412.9" cy="443.8" r="2.7" fill="#B22222" />
<circle cx="419.3" cy="443.8" r="2.7" fill="#B22222" />
<circle cx="425.7" cy="443.8" r="2.7" fill="#B22222" />
<circle cx="432.1" cy="443.8" r="2.7" fill="#B22222" />
<circle cx="438.5" cy="443.8" r="2.7" fill="#B22222" />
<circle cx="444.8" cy="443.8" r="2.7" fill="#B22222" />
<circle cx="451.2" cy="443.8" r="2.7" fill="#B22222" />
<circle cx="457.6" cy="443.8" r="2.7" fill="#B22222" />
<circle cx="464.0" cy="443.8" r="2.7" fill="#B22222" />
<circle cx="470.4" cy="443.8" r="2.7" fill="#B22222" />
<circle cx="476.8" cy="443.8" r="2.7" fill="#B22222" />
<circle cx="483.2" cy="443.8" r="2.7" fill="#B22222" />
<circle cx="489.6" cy="443.8" r="2.7" fill="#B22222" />
<circle cx="496.0" cy="445.8" r="2.7" fill="#B22222" />
<circle cx="502.4" cy="445.8" r="2.7" fill="#B22222" />
<circle cx="508.7" cy="445.8" r="2.7" fill="#B22222" />
<circle cx="515.1" cy="443.8" r="2.7" fill="#B22222" />
<circle cx="521.5" cy="443.8" r="2.7" fill="#B22222" />
<circle cx="527.9" cy="443.8" r="2.7" fill="#B22222" />
<circle cx="534.3" cy="443.8" r="2.7" fill="#B22222" />
<circle cx="540.7" cy="443.8" r="2.7" fill="#B22222" />
<circle cx="547.1" cy="443.8" r="2.7" fill="#B22222" />
<circle cx="553.5" cy="443.8" r="2.7" fill="#B22222" />
<circle cx="559.9" cy="443.8" r="2.7" fill="#B22222" />
<circle cx="566.2" cy="443.8" r="2.7" fill="#B22222" />
<circle cx="572.6" cy="443.8" r="2.7" fill="#B22222" />
<circle cx="579.0" cy="445.6" r="2.7" fill="#B22222" />
<circle cx="585.4" cy="443.8" r="2.7" fill="#B22222" />
<circle cx="591.8" cy="443.8" r="2.7" fill="#B22222" />
<circle cx="598.2" cy="443.8" r="2.7" fill="#B22222" />
<circle cx="604.6" cy="443.8" r="2.7" fill="#B22222" />
<circle cx="611.0" cy="443.8" r="2.7" fill="#B22222" />
<circle cx="617.4" cy="443.8" r="2.7" fill="#B22222" />
<circle cx="623.8" cy="443.8" r="2.7" fill="#B22222" />
<circle cx="630.1" cy="443.8" r="2.7" fill="#B22222" />
<circle cx="636.5" cy="443.8" r="2.7" fill="#B22222" />
<circle cx="642.9" cy="443.8" r="2.7" fill="#B22222" />
<circle cx="649.3" cy="443.8" r="2.7" fill="#B22222" />
<circle cx="655.7" cy="443.8" r="2.7" fill="#B22222" />
<circle cx="662.1" cy="443.8" r="2.7" fill="#B22222" />
<circle cx="668.5" cy="443.8" r="2.7" fill="#B22222" />
<circle cx="674.9" cy="443.8" r="2.7" fill="#B22222" />
<circle cx="675.0" cy="443.3" r="2.7" fill="#B22222" />
<circle cx="681.2" cy="443.3" r="2.7" fill="#B22222" />
<circle cx="687.5" cy="443.3" r="2.7" fill="#B22222" />
<circle cx="693.9" cy="443.3" r="2.7" fill="#B22222" />
<circle cx="700.2" cy="445.6" r="2.7" fill="#B22222" />
<circle cx="719.5" cy="455.9" r="2.7" fill="#B22222" />
<circle cx="706.8" cy="495.6" r="2.7" fill="#B22222" />
<circle cx="713.3" cy="495.6" r="2.7" fill="#B22222" />
<circle cx="725.8" cy="495.6" r="2.7" fill="#B22222" />
<circle cx="732.2" cy="495.6" r="2.7" fill="#B22222" />
<circle cx="738.7" cy="495.6" r="2.7" fill="#B22222" />
<circle cx="745.1" cy="494.7" r="2.7" fill="#B22222" />
<circle cx="751.6" cy="494.3" r="2.7" fill="#B22222" />
<circle cx="757.9" cy="494.3" r="2.7" fill="#B22222" />
<circle cx="764.3" cy="494.3" r="2.7" fill="#B22222" />
<circle cx="770.6" cy="494.2" r="2.7" fill="#B22222" />
<circle cx="777.2" cy="494.3" r="2.7" fill="#B22222" />
<circle cx="783.5" cy="494.7" r="2.7" fill="#B22222" />
<circle cx="789.9" cy="494.7" r="2.7" fill="#B22222" />
<circle cx="796.4" cy="495.1" r="2.7" fill="#B22222" />
<circle cx="802.8" cy="495.6" r="2.7" fill="#B22222" />
<circle cx="809.1" cy="495.6" r="2.7" fill="#B22222" />
<circle cx="815.5" cy="495.6" r="2.7" fill="#B22222" />
<circle cx="821.8" cy="495.6" r="2.7" fill="#B22222" />
<circle cx="828.2" cy="495.6" r="2.7" fill="#B22222" />
<circle cx="834.5" cy="495.6" r="2.7" fill="#B22222" />
<circle cx="840.9" cy="495.6" r="2.7" fill="#B22222" />
<polyline points="348.7,477.0 356.2,480.7 361.8,487.2 364.6,499.4 367.4,510.6 374.9,511.5 380.5,512.5 383.3,505.0 387.0,493.8 391.7,482.6 394.5,478.8 400.1,474.2 406.6,471.4 416.0,469.5 425.3,468.9 432.8,470.4 442.1,472.3 451.5,473.6 460.8,474.2 475.8,473.8 487.0,474.2 498.2,475.5 510.0,477.0 521.2,478.8 530.5,481.6 540.3,486.3 546.4,477.9 553.9,473.2 564.2,471.4 572.6,469.9 581.0,471.9 587.5,476.0 592.2,480.7 597.8,483.5 605.3,485.4 610.9,487.8 613.7,497.5 617.4,507.8 624.0,514.0 640.8,514.3 668.8,514.7 674.4,514.0 693.7,514.0 700.2,511.5 703.0,503.1 705.8,488.2 708.6,480.7 713.3,474.7 719.8,476.0 732.0,475.1 745.0,477.0 751.6,480.3 758.1,477.0 764.3,484.4 770.6,476.0 776.8,477.0 783.4,475.5 789.9,470.4 796.4,468.6 803.0,471.4 809.1,473.6 815.5,471.4 821.8,476.0 828.2,484.1 834.7,477.0 841.0,479.8" fill="none" stroke="#FF9900" stroke-width="1.8" stroke-linejoin="round" />
</g>
<line x1="361.8" y1="438.0" x2="361.8" y2="516.5" stroke="#000" stroke-width="1" stroke-dasharray="2,2" shape-rendering="crispEdges"/>
<line x1="380.9" y1="438.0" x2="380.9" y2="516.5" stroke="#000" stroke-width="1" stroke-dasharray="2,2" shape-rendering="crispEdges"/>
<line x1="400.1" y1="438.0" x2="400.1" y2="516.5" stroke="#000" stroke-width="1" stroke-dasharray="2,2" shape-rendering="crispEdges"/>
<line x1="419.3" y1="438.0" x2="419.3" y2="516.5" stroke="#000" stroke-width="1" stroke-dasharray="2,2" shape-rendering="crispEdges"/>
<line x1="438.5" y1="438.0" x2="438.5" y2="516.5" stroke="#000" stroke-width="1" stroke-dasharray="2,2" shape-rendering="crispEdges"/>
<line x1="457.6" y1="438.0" x2="457.6" y2="516.5" stroke="#000" stroke-width="1" stroke-dasharray="2,2" shape-rendering="crispEdges"/>
<line x1="476.8" y1="438.0" x2="476.8" y2="516.5" stroke="#000" stroke-width="1" stroke-dasharray="2,2" shape-rendering="crispEdges"/>
<line x1="496.0" y1="438.0" x2="496.0" y2="516.5" stroke="#000" stroke-width="1" stroke-dasharray="2,2" shape-rendering="crispEdges"/>
<line x1="515.1" y1="438.0" x2="515.1" y2="516.5" stroke="#000" stroke-width="1" stroke-dasharray="2,2" shape-rendering="crispEdges"/>
<line x1="534.3" y1="438.0" x2="534.3" y2="516.5" stroke="#000" stroke-width="1" stroke-dasharray="2,2" shape-rendering="crispEdges"/>
<line x1="553.5" y1="438.0" x2="553.5" y2="516.5" stroke="#000" stroke-width="1" stroke-dasharray="2,2" shape-rendering="crispEdges"/>
<line x1="572.6" y1="438.0" x2="572.6" y2="516.5" stroke="#000" stroke-width="1" stroke-dasharray="2,2" shape-rendering="crispEdges"/>
<line x1="591.8" y1="438.0" x2="591.8" y2="516.5" stroke="#000" stroke-width="1" stroke-dasharray="2,2" shape-rendering="crispEdges"/>
<line x1="611.0" y1="438.0" x2="611.0" y2="516.5" stroke="#000" stroke-width="1" stroke-dasharray="2,2" shape-rendering="crispEdges"/>
<line x1="630.1" y1="438.0" x2="630.1" y2="516.5" stroke="#000" stroke-width="1" stroke-dasharray="2,2" shape-rendering="crispEdges"/>
<line x1="649.3" y1="438.0" x2="649.3" y2="516.5" stroke="#000" stroke-width="1" stroke-dasharray="2,2" shape-rendering="crispEdges"/>
<line x1="668.5" y1="438.0" x2="668.5" y2="516.5" stroke="#000" stroke-width="1" stroke-dasharray="2,2" shape-rendering="crispEdges"/>
<line x1="687.6" y1="438.0" x2="687.6" y2="516.5" stroke="#000" stroke-width="1" stroke-dasharray="2,2" shape-rendering="crispEdges"/>
<line x1="706.8" y1="438.0" x2="706.8" y2="516.5" stroke="#000" stroke-width="1" stroke-dasharray="2,2" shape-rendering="crispEdges"/>
<line x1="726.0" y1="438.0" x2="726.0" y2="516.5" stroke="#000" stroke-width="1" stroke-dasharray="2,2" shape-rendering="crispEdges"/>
<line x1="745.2" y1="438.0" x2="745.2" y2="516.5" stroke="#000" stroke-width="1" stroke-dasharray="2,2" shape-rendering="crispEdges"/>
<line x1="764.3" y1="438.0" x2="764.3" y2="516.5" stroke="#000" stroke-width="1" stroke-dasharray="2,2" shape-rendering="crispEdges"/>
<line x1="783.5" y1="438.0" x2="783.5" y2="516.5" stroke="#000" stroke-width="1" stroke-dasharray="2,2" shape-rendering="crispEdges"/>
<line x1="802.7" y1="438.0" x2="802.7" y2="516.5" stroke="#000" stroke-width="1" stroke-dasharray="2,2" shape-rendering="crispEdges"/>
<line x1="821.8" y1="438.0" x2="821.8" y2="516.5" stroke="#000" stroke-width="1" stroke-dasharray="2,2" shape-rendering="crispEdges"/>
<line x1="349.0" y1="438.5" x2="841.0" y2="438.5" stroke="#000" stroke-width="1" stroke-dasharray="2,2" shape-rendering="crispEdges"/>
<line x1="349.0" y1="457.7" x2="841.0" y2="457.7" stroke="#000" stroke-width="1" stroke-dasharray="2,2" shape-rendering="crispEdges"/>
<line x1="349.0" y1="477.3" x2="841.0" y2="477.3" stroke="#000" stroke-width="1" stroke-dasharray="2,2" shape-rendering="crispEdges"/>
<line x1="349.0" y1="496.7" x2="841.0" y2="496.7" stroke="#000" stroke-width="1" stroke-dasharray="2,2" shape-rendering="crispEdges"/>
<rect x="349.0" y="438.0" width="492.0" height="78.5" fill="none" stroke="#222" stroke-width="1" shape-rendering="crispEdges"/>
<rect x="349.0" y="525.5" width="492.0" height="77.5" fill="#8AD3FA" />
<rect x="349.0" y="525.5" width="30.0" height="77.5" fill="#80C0EC" />
<rect x="437.5" y="525.5" width="95.4" height="77.5" fill="#80C0EC" />
<rect x="590.3" y="525.5" width="96.2" height="77.5" fill="#80C0EC" />
<rect x="744.8" y="525.5" width="95.7" height="77.5" fill="#80C0EC" />
<clipPath id="c5"><rect x="349.0" y="525.5" width="492.0" height="77.5"/></clipPath><g clip-path="url(#c5)">
<polygon points="348.7,529.3 356.2,527.5 363.7,526.0 393.6,526.0 398.2,531.2 401.0,546.2 406.6,560.2 412.6,549.9 419.7,567.6 430.9,565.8 437.5,573.2 449.6,563.0 463.6,559.8 476.7,569.5 483.2,563.9 496.3,564.8 507.5,573.2 515.0,576.0 510.0,576.0 519.3,563.0 528.7,540.5 536.2,527.5 547.4,525.6 552.0,538.7 554.8,563.0 566.0,558.3 573.5,561.1 581.0,569.5 588.5,576.0 592.2,581.6 595.9,584.4 599.7,574.2 605.3,557.4 611.8,531.2 614.6,525.6 680.0,525.6 675.0,525.6 841.3,525.6 841.0,603.0 349.0,603.0" fill="#FFFFFF" />
<polygon points="348.7,529.3 356.2,527.5 363.7,526.0 393.6,526.0 398.2,531.2 402.9,548.0 409.4,581.6 414.5,602.2 419.7,587.3 425.3,571.4 431.9,591.9 447.7,590.1 466.4,594.7 483.2,600.3 487.0,599.4 494.4,594.7 507.5,583.5 515.0,576.0 510.0,576.0 519.3,563.0 528.7,540.5 536.2,527.5 547.4,525.6 552.0,538.7 556.7,559.2 564.2,589.1 573.5,600.3 579.1,602.2 592.2,602.2 595.9,584.4 599.7,574.2 605.3,557.4 611.8,531.2 614.6,525.6 680.0,525.6 675.0,525.6 841.3,525.6 841.0,603.0 349.0,603.0" fill="#999999" />
<polygon points="348.7,529.3 356.2,527.5 363.7,526.0 393.6,526.0 398.2,531.2 402.9,548.0 409.4,581.6 414.5,602.2 475.8,602.2 487.0,599.4 494.4,594.7 507.5,583.5 515.0,576.0 510.0,576.0 519.3,563.0 528.7,540.5 536.2,527.5 547.4,525.6 552.0,538.7 556.7,559.2 564.2,589.1 573.5,600.3 579.1,602.2 592.2,602.2 595.9,584.4 599.7,574.2 605.3,557.4 611.8,531.2 614.6,525.6 680.0,525.6 675.0,525.6 841.3,525.6 841.0,603.0 349.0,603.0" fill="#555555" />
<polygon points="348.7,541.5 356.2,537.7 361.8,531.2 369.3,526.7 391.7,526.7 395.4,529.3 401.0,548.0 406.6,579.8 412.3,602.2 475.8,602.2 487.0,599.4 494.4,594.7 507.5,583.5 515.0,576.0 510.0,584.4 521.2,566.7 528.7,548.0 534.3,534.9 540.8,528.4 547.4,538.7 553.0,557.4 558.6,579.8 566.0,594.7 579.1,602.2 592.2,602.2 597.8,589.1 603.4,576.0 609.0,557.4 614.6,534.9 618.4,525.6 680.0,525.6 675.0,525.6 706.8,526.5 714.2,530.3 727.3,532.1 740.4,534.9 746.0,536.8 751.6,530.3 762.8,533.1 774.0,534.9 781.5,540.5 789.0,552.7 796.4,554.6 802.0,557.4 809.5,551.8 815.1,552.7 820.7,548.0 828.2,535.9 841.3,535.9 841.0,603.0 349.0,603.0" fill="#333333" />
<polyline points="510.0,591.9 521.2,598.5 534.3,602.2 547.4,602.2 559.5,595.7 566.0,597.5 579.1,602.2" fill="none" stroke="#BBBBBB" stroke-width="0.8" stroke-linejoin="round" />
</g>
<clipPath id="c6"><rect x="349.0" y="525.5" width="492.0" height="77.5"/></clipPath><g clip-path="url(#c6)">
<polyline points="348.7,579.8 354.3,566.7 360.9,541.5 368.4,545.8 374.0,540.5 379.6,539.6 387.0,546.2 393.6,537.7 400.1,548.0 406.6,563.0" fill="none" stroke="#FFFFFF" stroke-width="1" stroke-linejoin="round" />
<polyline points="488.8,600.3 501.9,590.1 509.4,583.5 515.0,577.9 510.0,576.0 518.4,583.5 528.7,579.8 540.8,576.0 554.8,563.9 566.0,558.3 573.5,561.1 581.0,569.5 588.5,576.0 592.2,584.4 607.1,583.5 618.4,583.5 629.6,586.3 648.2,586.3 659.4,583.5 668.8,578.8 674.4,578.8 680.0,581.6 675.0,578.8 682.5,588.2 693.7,596.6 704.9,600.3 721.7,602.2 731.0,602.6" fill="none" stroke="#F4F4F4" stroke-width="0.9" stroke-linejoin="round" />
</g>
<clipPath id="c7"><rect x="349.0" y="525.5" width="492.5" height="80.5"/></clipPath><g clip-path="url(#c7)">
<rect x="347.5" y="580.7" width="3" height="23.8" rx="1.2" fill="#FFB400"/>
<rect x="353.9" y="577.0" width="3" height="27.5" rx="1.2" fill="#FFB400"/>
<rect x="360.3" y="562.6" width="3" height="41.9" rx="1.2" fill="#FFB400"/>
<rect x="366.7" y="546.2" width="3" height="58.3" rx="1.2" fill="#FFB400"/>
<rect x="373.1" y="546.2" width="3" height="58.3" rx="1.2" fill="#FFB400"/>
<rect x="379.4" y="545.6" width="3" height="58.9" rx="1.2" fill="#FFB400"/>
<rect x="385.8" y="554.9" width="3" height="49.6" rx="1.2" fill="#FFB400"/>
<rect x="392.2" y="584.4" width="3" height="20.1" rx="1.2" fill="#FFB400"/>
<rect x="488.1" y="600.3" width="3" height="4.2" rx="1.2" fill="#FFB400"/>
<rect x="494.5" y="594.4" width="3" height="10.1" rx="1.2" fill="#FFB400"/>
<rect x="500.9" y="590.1" width="3" height="14.4" rx="1.2" fill="#FFB400"/>
<rect x="507.2" y="589.1" width="3" height="15.4" rx="1.2" fill="#FFB400"/>
<rect x="513.6" y="585.4" width="3" height="19.1" rx="1.2" fill="#FFB400"/>
<rect x="513.6" y="585.4" width="3" height="19.1" rx="1.2" fill="#FFB400"/>
<rect x="520.0" y="581.6" width="3" height="22.9" rx="1.2" fill="#FFB400"/>
<rect x="526.4" y="578.8" width="3" height="25.7" rx="1.2" fill="#FFB400"/>
<rect x="532.8" y="576.0" width="3" height="28.5" rx="1.2" fill="#FFB400"/>
<rect x="539.2" y="570.4" width="3" height="34.1" rx="1.2" fill="#FFB400"/>
<rect x="545.6" y="589.5" width="3" height="15.0" rx="1.2" fill="#FFB400"/>
<rect x="590.3" y="589.1" width="3" height="15.4" rx="1.2" fill="#FFB400"/>
<rect x="596.7" y="579.8" width="3" height="24.7" rx="1.2" fill="#FFB400"/>
<rect x="603.1" y="577.5" width="3" height="27.0" rx="1.2" fill="#FFB400"/>
<rect x="609.5" y="567.6" width="3" height="36.9" rx="1.2" fill="#FFB400"/>
<rect x="615.9" y="549.5" width="3" height="55.0" rx="1.2" fill="#FFB400"/>
<rect x="622.3" y="540.5" width="3" height="64.0" rx="1.2" fill="#FFB400"/>
<rect x="628.6" y="544.8" width="3" height="59.7" rx="1.2" fill="#FFB400"/>
<rect x="635.0" y="541.5" width="3" height="63.0" rx="1.2" fill="#FFB400"/>
<rect x="641.4" y="538.3" width="3" height="66.2" rx="1.2" fill="#FFB400"/>
<rect x="647.8" y="538.7" width="3" height="65.8" rx="1.2" fill="#FFB400"/>
<rect x="654.2" y="536.4" width="3" height="68.1" rx="1.2" fill="#FFB400"/>
<rect x="660.6" y="539.2" width="3" height="65.3" rx="1.2" fill="#FFB400"/>
<rect x="667.0" y="534.6" width="3" height="69.9" rx="1.2" fill="#FFB400"/>
<rect x="673.4" y="542.4" width="3" height="62.1" rx="1.2" fill="#FFB400"/>
<rect x="673.4" y="542.4" width="3" height="62.1" rx="1.2" fill="#FFB400"/>
<rect x="679.8" y="536.8" width="3" height="67.7" rx="1.2" fill="#FFB400"/>
<rect x="686.1" y="535.9" width="3" height="68.6" rx="1.2" fill="#FFB400"/>
<rect x="692.5" y="536.8" width="3" height="67.7" rx="1.2" fill="#FFB400"/>
<rect x="698.9" y="546.7" width="3" height="57.8" rx="1.2" fill="#FFB400"/>
<rect x="705.3" y="555.9" width="3" height="48.6" rx="1.2" fill="#FFB400"/>
<rect x="711.7" y="575.7" width="3" height="28.8" rx="1.2" fill="#FFB400"/>
<rect x="718.1" y="568.9" width="3" height="35.6" rx="1.2" fill="#FFB400"/>
<rect x="724.5" y="576.0" width="3" height="28.5" rx="1.2" fill="#FFB400"/>
<rect x="730.9" y="577.5" width="3" height="27.0" rx="1.2" fill="#FFB400"/>
<rect x="737.3" y="569.5" width="3" height="35.0" rx="1.2" fill="#FFB400"/>
<rect x="743.7" y="567.6" width="3" height="36.9" rx="1.2" fill="#FFB400"/>
<rect x="750.0" y="563.0" width="3" height="41.5" rx="1.2" fill="#FFB400"/>
<rect x="756.4" y="569.5" width="3" height="35.0" rx="1.2" fill="#FFB400"/>
<rect x="762.8" y="557.0" width="3" height="47.5" rx="1.2" fill="#FFB400"/>
<rect x="769.2" y="578.8" width="3" height="25.7" rx="1.2" fill="#FFB400"/>
<rect x="775.6" y="568.9" width="3" height="35.6" rx="1.2" fill="#FFB400"/>
<rect x="782.0" y="575.7" width="3" height="28.8" rx="1.2" fill="#FFB400"/>
<rect x="788.4" y="586.7" width="3" height="17.8" rx="1.2" fill="#FFB400"/>
<rect x="794.8" y="596.6" width="3" height="7.9" rx="1.2" fill="#FFB400"/>
<rect x="801.2" y="590.1" width="3" height="14.4" rx="1.2" fill="#FFB400"/>
<rect x="807.6" y="585.4" width="3" height="19.1" rx="1.2" fill="#FFB400"/>
<rect x="813.9" y="588.7" width="3" height="15.8" rx="1.2" fill="#FFB400"/>
<rect x="820.3" y="572.9" width="3" height="31.6" rx="1.2" fill="#FFB400"/>
<rect x="826.7" y="558.9" width="3" height="45.6" rx="1.2" fill="#FFB400"/>
<rect x="833.1" y="568.9" width="3" height="35.6" rx="1.2" fill="#FFB400"/>
<rect x="839.5" y="560.2" width="3" height="44.3" rx="1.2" fill="#FFB400"/>
</g>
<line x1="361.8" y1="525.5" x2="361.8" y2="603.0" stroke="#000" stroke-width="1" stroke-dasharray="2,2" shape-rendering="crispEdges"/>
<line x1="380.9" y1="525.5" x2="380.9" y2="603.0" stroke="#000" stroke-width="1" stroke-dasharray="2,2" shape-rendering="crispEdges"/>
<line x1="400.1" y1="525.5" x2="400.1" y2="603.0" stroke="#000" stroke-width="1" stroke-dasharray="2,2" shape-rendering="crispEdges"/>
<line x1="419.3" y1="525.5" x2="419.3" y2="603.0" stroke="#000" stroke-width="1" stroke-dasharray="2,2" shape-rendering="crispEdges"/>
<line x1="438.5" y1="525.5" x2="438.5" y2="603.0" stroke="#000" stroke-width="1" stroke-dasharray="2,2" shape-rendering="crispEdges"/>
<line x1="457.6" y1="525.5" x2="457.6" y2="603.0" stroke="#000" stroke-width="1" stroke-dasharray="2,2" shape-rendering="crispEdges"/>
<line x1="476.8" y1="525.5" x2="476.8" y2="603.0" stroke="#000" stroke-width="1" stroke-dasharray="2,2" shape-rendering="crispEdges"/>
<line x1="496.0" y1="525.5" x2="496.0" y2="603.0" stroke="#000" stroke-width="1" stroke-dasharray="2,2" shape-rendering="crispEdges"/>
<line x1="515.1" y1="525.5" x2="515.1" y2="603.0" stroke="#000" stroke-width="1" stroke-dasharray="2,2" shape-rendering="crispEdges"/>
<line x1="534.3" y1="525.5" x2="534.3" y2="603.0" stroke="#000" stroke-width="1" stroke-dasharray="2,2" shape-rendering="crispEdges"/>
<line x1="553.5" y1="525.5" x2="553.5" y2="603.0" stroke="#000" stroke-width="1" stroke-dasharray="2,2" shape-rendering="crispEdges"/>
<line x1="572.6" y1="525.5" x2="572.6" y2="603.0" stroke="#000" stroke-width="1" stroke-dasharray="2,2" shape-rendering="crispEdges"/>
<line x1="591.8" y1="525.5" x2="591.8" y2="603.0" stroke="#000" stroke-width="1" stroke-dasharray="2,2" shape-rendering="crispEdges"/>
<line x1="611.0" y1="525.5" x2="611.0" y2="603.0" stroke="#000" stroke-width="1" stroke-dasharray="2,2" shape-rendering="crispEdges"/>
<line x1="630.1" y1="525.5" x2="630.1" y2="603.0" stroke="#000" stroke-width="1" stroke-dasharray="2,2" shape-rendering="crispEdges"/>
<line x1="649.3" y1="525.5" x2="649.3" y2="603.0" stroke="#000" stroke-width="1" stroke-dasharray="2,2" shape-rendering="crispEdges"/>
<line x1="668.5" y1="525.5" x2="668.5" y2="603.0" stroke="#000" stroke-width="1" stroke-dasharray="2,2" shape-rendering="crispEdges"/>
<line x1="687.6" y1="525.5" x2="687.6" y2="603.0" stroke="#000" stroke-width="1" stroke-dasharray="2,2" shape-rendering="crispEdges"/>
<line x1="706.8" y1="525.5" x2="706.8" y2="603.0" stroke="#000" stroke-width="1" stroke-dasharray="2,2" shape-rendering="crispEdges"/>
<line x1="726.0" y1="525.5" x2="726.0" y2="603.0" stroke="#000" stroke-width="1" stroke-dasharray="2,2" shape-rendering="crispEdges"/>
<line x1="745.2" y1="525.5" x2="745.2" y2="603.0" stroke="#000" stroke-width="1" stroke-dasharray="2,2" shape-rendering="crispEdges"/>
<line x1="764.3" y1="525.5" x2="764.3" y2="603.0" stroke="#000" stroke-width="1" stroke-dasharray="2,2" shape-rendering="crispEdges"/>
<line x1="783.5" y1="525.5" x2="783.5" y2="603.0" stroke="#000" stroke-width="1" stroke-dasharray="2,2" shape-rendering="crispEdges"/>
<line x1="802.7" y1="525.5" x2="802.7" y2="603.0" stroke="#000" stroke-width="1" stroke-dasharray="2,2" shape-rendering="crispEdges"/>
<line x1="821.8" y1="525.5" x2="821.8" y2="603.0" stroke="#000" stroke-width="1" stroke-dasharray="2,2" shape-rendering="crispEdges"/>
<line x1="349.0" y1="525.6" x2="841.0" y2="525.6" stroke="#000" stroke-width="1" stroke-dasharray="2,2" shape-rendering="crispEdges"/>
<line x1="349.0" y1="545.1" x2="841.0" y2="545.1" stroke="#000" stroke-width="1" stroke-dasharray="2,2" shape-rendering="crispEdges"/>
<line x1="349.0" y1="564.5" x2="841.0" y2="564.5" stroke="#000" stroke-width="1" stroke-dasharray="2,2" shape-rendering="crispEdges"/>
<line x1="349.0" y1="584.0" x2="841.0" y2="584.0" stroke="#000" stroke-width="1" stroke-dasharray="2,2" shape-rendering="crispEdges"/>
<rect x="349.0" y="525.5" width="492.0" height="77.5" fill="none" stroke="#222" stroke-width="1" shape-rendering="crispEdges"/>
<text x="290.0" y="12.0" font-size="12.3" fill="#00008B" text-anchor="start" textLength="147.0" lengthAdjust="spacing" >wschód słońca: 06:41 CET</text>
<text x="291.7" y="25.0" font-size="12.3" fill="#00008B" text-anchor="start" textLength="143.0" lengthAdjust="spacing" >zachód słońca: 15:53 CET</text>
<text x="531.7" y="12.0" font-size="12.3" fill="#00008B" text-anchor="start" textLength="127.9" lengthAdjust="spacing" >21°31'43"E, 53°44'52"N</text>
<text x="554.0" y="25.0" font-size="12.3" fill="#00008B" text-anchor="start" textLength="82.9" lengthAdjust="spacing" xml:space="preserve">(x=258,  y=362)</text>
<text x="739.2" y="12.0" font-size="12.3" fill="#00008B" text-anchor="start" textLength="158.3" lengthAdjust="spacing" >wysokość (min, środek, max)</text>
<text x="769.6" y="25.0" font-size="12.3" fill="#00008B" text-anchor="start" textLength="97.0" lengthAdjust="spacing" >128 - 146 - 176 m</text>
<text x="309.4" y="652.9" font-size="13" fill="#00008B" text-anchor="start" textLength="108.3" lengthAdjust="spacing" >meteo@icm.edu.pl</text>
<text x="623.0" y="652.9" font-size="13" fill="#00008B" text-anchor="start" textLength="253.2" lengthAdjust="spacing" >© 2007-2025 ICM, Uniwersytet Warszawski</text>
<text x="318.8" y="54.4" font-size="12" fill="#000" text-anchor="middle" >CET</text>
<text x="871.8" y="54.4" font-size="12" fill="#000" text-anchor="middle" >CET</text>
<text x="318.8" y="616.4" font-size="12" fill="#000" text-anchor="middle" >UTC</text>
<text x="871.8" y="616.4" font-size="12" fill="#000" text-anchor="middle" >UTC</text>
<text x="361.8" y="54.4" font-size="12" fill="#000" text-anchor="middle" >04</text>
<text x="361.8" y="616.6" font-size="12" fill="#000" text-anchor="middle" >03</text>
<text x="400.1" y="54.4" font-size="12" fill="#000" text-anchor="middle" >10</text>
<text x="400.1" y="616.6" font-size="12" fill="#000" text-anchor="middle" >09</text>
<text x="438.5" y="54.4" font-size="12" fill="#000" text-anchor="middle" >16</text>
<text x="438.5" y="616.6" font-size="12" fill="#000" text-anchor="middle" >15</text>
<text x="476.8" y="54.4" font-size="12" fill="#000" text-anchor="middle" >22</text>
<text x="476.8" y="616.6" font-size="12" fill="#000" text-anchor="middle" >21</text>
<text x="515.1" y="54.4" font-size="12" fill="#000" text-anchor="middle" >04</text>
<text x="515.1" y="616.6" font-size="12" fill="#000" text-anchor="middle" >03</text>
<text x="553.5" y="54.4" font-size="12" fill="#000" text-anchor="middle" >10</text>
<text x="553.5" y="616.6" font-size="12" fill="#000" text-anchor="middle" >09</text>
<text x="591.8" y="54.4" font-size="12" fill="#000" text-anchor="middle" >16</text>
<text x="591.8" y="616.6" font-size="12" fill="#000" text-anchor="middle" >15</text>
<text x="630.1" y="54.4" font-size="12" fill="#000" text-anchor="middle" >22</text>
<text x="630.1" y="616.6" font-size="12" fill="#000" text-anchor="middle" >21</text>
<text x="668.5" y="54.4" font-size="12" fill="#000" text-anchor="middle" >04</text>
<text x="668.5" y="616.6" font-size="12" fill="#000" text-anchor="middle" >03</text>
<text x="706.8" y="54.4" font-size="12" fill="#000" text-anchor="middle" >10</text>
<text x="706.8" y="616.6" font-size="12" fill="#000" text-anchor="middle" >09</text>
<text x="745.2" y="54.4" font-size="12" fill="#000" text-anchor="middle" >16</text>
<text x="745.2" y="616.6" font-size="12" fill="#000" text-anchor="middle" >15</text>
<text x="783.5" y="54.4" font-size="12" fill="#000" text-anchor="middle" >22</text>
<text x="783.5" y="616.6" font-size="12" fill="#000" text-anchor="middle" >21</text>
<text x="821.8" y="54.4" font-size="12" fill="#000" text-anchor="middle" >04</text>
<text x="821.8" y="616.6" font-size="12" fill="#000" text-anchor="middle" >03</text>
<text x="418.4" y="41.5" font-size="12" fill="#000" text-anchor="middle" >śro, 05.11</text>
<text x="418.4" y="629.0" font-size="12" fill="#000" text-anchor="middle" >05.11</text>
<text x="571.8" y="41.5" font-size="12" fill="#000" text-anchor="middle" >czw, 06.11</text>
<text x="571.8" y="629.0" font-size="12" fill="#000" text-anchor="middle" >06.11</text>
<text x="725.1" y="41.5" font-size="12" fill="#000" text-anchor="middle" >pią, 07.11</text>
<text x="725.1" y="629.0" font-size="12" fill="#000" text-anchor="middle" >07.11</text>
<text x="344.6" y="69.0" font-size="11" fill="#000" text-anchor="end" >10</text>
<text x="344.6" y="103.0" font-size="11" fill="#000" text-anchor="end" >5</text>
<text x="344.6" y="137.0" font-size="11" fill="#000" text-anchor="end" >0</text>
<text x="850.8" y="69.0" font-size="11" fill="#000" text-anchor="middle" >10</text>
<text x="850.8" y="103.0" font-size="11" fill="#000" text-anchor="middle" >5</text>
<text x="850.8" y="137.0" font-size="11" fill="#000" text-anchor="middle" >0</text>
<text x="344.6" y="151.0" font-size="11" fill="#000" text-anchor="end" >5</text>
<text x="344.6" y="166.0" font-size="11" fill="#000" text-anchor="end" >4</text>
<text x="344.6" y="181.2" font-size="11" fill="#000" text-anchor="end" >3</text>
<text x="344.6" y="196.0" font-size="11" fill="#000" text-anchor="end" >2</text>
<text x="344.6" y="211.0" font-size="11" fill="#000" text-anchor="end" >1</text>
<text x="344.6" y="225.8" font-size="11" fill="#000" text-anchor="end" >0</text>
<text x="853.5" y="151.0" font-size="11" fill="#E8501C" text-anchor="middle" >100</text>
<text x="853.5" y="166.0" font-size="11" fill="#E8501C" text-anchor="middle" >95</text>
<text x="853.5" y="181.2" font-size="11" fill="#E8501C" text-anchor="middle" >90</text>
<text x="853.5" y="196.0" font-size="11" fill="#E8501C" text-anchor="middle" >85</text>
<text x="853.5" y="211.0" font-size="11" fill="#E8501C" text-anchor="middle" >80</text>
<text x="853.5" y="225.8" font-size="11" fill="#E8501C" text-anchor="middle" >75</text>
<text x="344.6" y="246.9" font-size="11" fill="#000" text-anchor="end" >1025</text>
<text x="344.6" y="267.2" font-size="11" fill="#000" text-anchor="end" >1020</text>
<text x="344.6" y="288.1" font-size="11" fill="#000" text-anchor="end" >1015</text>
<text x="344.6" y="308.9" font-size="11" fill="#000" text-anchor="end" >1010</text>
<text x="853.5" y="246.9" font-size="11" fill="#000" text-anchor="middle" >769</text>
<text x="853.5" y="267.2" font-size="11" fill="#000" text-anchor="middle" >765</text>
<text x="853.5" y="288.1" font-size="11" fill="#000" text-anchor="middle" >761</text>
<text x="853.5" y="308.9" font-size="11" fill="#000" text-anchor="middle" >758</text>
<text x="344.6" y="323.0" font-size="11" fill="#000" text-anchor="end" >10</text>
<text x="344.6" y="338.0" font-size="11" fill="#000" text-anchor="end" >8</text>
<text x="344.6" y="353.0" font-size="11" fill="#000" text-anchor="end" >6</text>
<text x="344.6" y="368.3" font-size="11" fill="#000" text-anchor="end" >4</text>
<text x="344.6" y="383.7" font-size="11" fill="#000" text-anchor="end" >2</text>
<text x="344.6" y="398.7" font-size="11" fill="#000" text-anchor="end" >0</text>
<text x="850.6" y="323.0" font-size="11" fill="#000" text-anchor="middle" >36</text>
<text x="850.6" y="338.0" font-size="11" fill="#000" text-anchor="middle" >29</text>
<text x="850.6" y="353.0" font-size="11" fill="#000" text-anchor="middle" >22</text>
<text x="850.6" y="368.3" font-size="11" fill="#000" text-anchor="middle" >14</text>
<text x="850.6" y="383.7" font-size="11" fill="#000" text-anchor="middle" >7</text>
<text x="850.6" y="398.7" font-size="11" fill="#000" text-anchor="middle" >0</text>
<text x="344.6" y="441.7" font-size="11" fill="#000" text-anchor="end" >15.0</text>
<text x="344.6" y="461.5" font-size="11" fill="#000" text-anchor="end" >7.0</text>
<text x="344.6" y="480.8" font-size="11" fill="#000" text-anchor="end" >2.0</text>
<text x="344.6" y="500.1" font-size="11" fill="#000" text-anchor="end" >0.5</text>
<text x="344.6" y="519.4" font-size="11" fill="#000" text-anchor="end" >0.0</text>
<text x="844.5" y="441.7" font-size="11" fill="#FF8000" text-anchor="start" >100</text>
<text x="844.5" y="461.5" font-size="11" fill="#FF8000" text-anchor="start" >20</text>
<text x="844.5" y="480.8" font-size="11" fill="#FF8000" text-anchor="start" >5</text>
<text x="844.5" y="500.1" font-size="11" fill="#FF8000" text-anchor="start" >1</text>
<text x="844.5" y="519.4" font-size="11" fill="#FF8000" text-anchor="start" >0</text>
<text x="344.6" y="529.4" font-size="11" fill="#000" text-anchor="end" >8</text>
<text x="344.6" y="548.8" font-size="11" fill="#000" text-anchor="end" >6</text>
<text x="344.6" y="568.3" font-size="11" fill="#000" text-anchor="end" >4</text>
<text x="344.6" y="587.8" font-size="11" fill="#000" text-anchor="end" >2</text>
<text x="344.6" y="607.2" font-size="11" fill="#000" text-anchor="end" >0</text>
<text x="844.5" y="529.4" font-size="11" fill="#FF9900" text-anchor="start" >1</text>
<text x="844.5" y="548.8" font-size="11" fill="#FF9900" text-anchor="start" >0.75</text>
<text x="844.5" y="568.3" font-size="11" fill="#FF9900" text-anchor="start" >0.5</text>
<text x="844.5" y="587.8" font-size="11" fill="#FF9900" text-anchor="start" >0.25</text>
<text x="844.5" y="607.2" font-size="11" fill="#FF9900" text-anchor="start" >0</text>
<text transform="translate(293.0,96.5) rotate(-90)" font-size="12" fill="#00008B" text-anchor="middle">temperatura</text>
<text transform="translate(305.0,96.8) rotate(-90)" font-size="12" fill="#00008B" text-anchor="middle">(°C)</text>
<text transform="translate(293.0,184.6) rotate(-90)" font-size="12" fill="#00008B" text-anchor="middle">opad</text>
<text transform="translate(305.0,185.0) rotate(-90)" font-size="12" fill="#00008B" text-anchor="middle">(mm/h, kg/m²/h)</text>
<text transform="translate(293.0,272.9) rotate(-90)" font-size="12" fill="#00008B" text-anchor="middle">ciśnienie</text>
<text transform="translate(305.0,273.5) rotate(-90)" font-size="12" fill="#00008B" text-anchor="middle">(hPa)</text>
<text transform="translate(293.0,360.6) rotate(-90)" font-size="12" fill="#00008B" text-anchor="middle">wiatr</text>
<text transform="translate(305.0,361.0) rotate(-90)" font-size="12" fill="#00008B" text-anchor="middle">(m/s)</text>
<text transform="translate(293.0,474.8) rotate(-90)" font-size="12" fill="#00008B" text-anchor="middle">pion. rozciągł. chm.</text>
<text transform="translate(305.0,475.0) rotate(-90)" font-size="12" fill="#00008B" text-anchor="middle">(km)</text>
<text transform="translate(293.0,571.9) rotate(-90)" font-size="12" fill="#00008B" text-anchor="middle">zachmurzenie</text>
<text transform="translate(305.0,562.8) rotate(-90)" font-size="12" fill="#00008B" text-anchor="middle">(oktanty)</text>
<text transform="translate(893.0,96.8) rotate(-90)" font-size="12" fill="#00008B" text-anchor="middle">(°C)</text>
<text transform="translate(906.0,96.5) rotate(-90)" font-size="12" fill="#00008B" text-anchor="middle">temperatura</text>
<text transform="translate(893.0,185.0) rotate(-90)" font-size="12" fill="#00008B" text-anchor="middle">(%)</text>
<text transform="translate(906.0,184.6) rotate(-90)" font-size="12" fill="#00008B" text-anchor="middle">wilgotność wzgl.</text>
<text transform="translate(893.0,273.5) rotate(-90)" font-size="12" fill="#00008B" text-anchor="middle">(mm Hg)</text>
<text transform="translate(906.0,272.9) rotate(-90)" font-size="12" fill="#00008B" text-anchor="middle">ciśnienie</text>
<text transform="translate(893.0,360.6) rotate(-90)" font-size="12" fill="#00008B" text-anchor="middle">(km/h)</text>
<text transform="translate(906.0,360.6) rotate(-90)" font-size="12" fill="#00008B" text-anchor="middle">wiatr</text>
<text transform="translate(893.0,475.0) rotate(-90)" font-size="12" fill="#00008B" text-anchor="middle">(km)</text>
<text transform="translate(906.0,475.0) rotate(-90)" font-size="12" fill="#00008B" text-anchor="middle">widzialność</text>
<text transform="translate(893.0,562.9) rotate(-90)" font-size="12" fill="#00008B" text-anchor="middle">(frakcja)</text>
<text transform="translate(906.0,563.4) rotate(-90)" font-size="12" fill="#00008B" text-anchor="middle">mgła</text>
<text x="298.6" y="411.3" font-size="11" fill="#00008B" text-anchor="middle" >N</text>
<text x="289.3" y="419.4" font-size="11" fill="#00008B" text-anchor="middle" >W</text>
<text x="305.2" y="419.4" font-size="11" fill="#00008B" text-anchor="middle" >E</text>
<text x="298.0" y="427.4" font-size="11" fill="#00008B" text-anchor="middle" >S</text>
<text x="897.6" y="411.3" font-size="11" fill="#00008B" text-anchor="middle" >N</text>
<text x="888.3" y="419.4" font-size="11" fill="#00008B" text-anchor="middle" >W</text>
<text x="904.2" y="419.4" font-size="11" fill="#00008B" text-anchor="middle" >E</text>
<text x="897.0" y="427.4" font-size="11" fill="#00008B" text-anchor="middle" >S</text>
<rect x="135.5" y="57.5" width="110.2" height="76.9" fill="#FFFFFF" />
<rect x="170.5" y="57.5" width="61.5" height="76.9" fill="#EEF4FE" />
<clipPath id="c8"><rect x="135.5" y="57.5" width="110.2" height="76.9"/></clipPath><g clip-path="url(#c8)">
<polygon points="135.5,87.4 142.0,89.2 155.2,94.5 171.0,102.4 184.5,106.8 205.6,108.5 226.7,111.2 234.3,109.4 245.7,105.0 245.7,112.9 232.5,120.8 226.7,116.8 205.6,115.0 171.0,112.0 155.2,105.9 135.5,100.6" fill="#FFE8DC" />
<polygon points="135.5,100.6 155.2,106.8 171.0,112.4 184.5,114.7 205.6,118.2 226.7,119.9 232.5,123.5 245.7,116.4 245.7,134.4 135.5,134.4" fill="#BFE6FF" />
<polygon points="135.5,111.2 155.2,112.0 171.0,113.8 178.0,117.3 190.3,122.6 205.6,127.9 218.5,130.5 232.5,132.3 239.6,123.5 245.7,118.2 245.7,134.4 135.5,134.4" fill="#8CCBF5" />
<polygon points="218.5,130.5 225.5,126.1 232.5,132.3 239.6,123.5 245.7,118.2 245.7,134.4 214.9,134.4" fill="#A8DBFA" />
<rect x="134.5" y="112.9" width="2.2" height="2.2" fill="#6A5ACD" />
<rect x="141.5" y="113.5" width="2.2" height="2.2" fill="#6A5ACD" />
<rect x="148.5" y="114.2" width="2.2" height="2.2" fill="#6A5ACD" />
<rect x="155.6" y="114.8" width="2.2" height="2.2" fill="#6A5ACD" />
<rect x="162.6" y="115.4" width="2.2" height="2.2" fill="#6A5ACD" />
<rect x="169.6" y="116.1" width="2.2" height="2.2" fill="#6A5ACD" />
<polyline points="135.5,101.8 142.0,102.4 149.0,105.0 155.2,107.6 163.4,110.6 172.7,112.4 184.5,113.8 192.1,115.9 199.1,117.3 205.6,118.7 211.4,119.1 215.8,116.1 222.0,116.8 226.7,119.1 232.5,122.1 239.6,116.4 245.7,115.5" fill="none" stroke="#0000FF" stroke-width="2" stroke-linejoin="round" />
<polyline points="135.5,99.2 142.0,98.8 148.1,101.0 155.2,104.5 163.4,108.5 171.0,111.2 184.5,112.4 197.4,113.4 205.6,113.8 218.5,115.0 226.7,115.5 232.5,119.1 239.6,114.3 245.7,111.5" fill="none" stroke="#FF0000" stroke-width="2" stroke-linejoin="round" />
<line x1="142.5" y1="71.6" x2="142.5" y2="83.9" stroke="#A81818" stroke-width="1" shape-rendering="crispEdges"/>
<line x1="149.5" y1="77.7" x2="149.5" y2="91.8" stroke="#A81818" stroke-width="1" shape-rendering="crispEdges"/>
<line x1="156.5" y1="86.5" x2="156.5" y2="98.8" stroke="#A81818" stroke-width="1" shape-rendering="crispEdges"/>
<line x1="163.5" y1="95.3" x2="163.5" y2="104.1" stroke="#A81818" stroke-width="1" shape-rendering="crispEdges"/>
<line x1="170.5" y1="100.6" x2="170.5" y2="112.9" stroke="#A81818" stroke-width="1" shape-rendering="crispEdges"/>
<line x1="177.5" y1="103.2" x2="177.5" y2="117.3" stroke="#A81818" stroke-width="1" shape-rendering="crispEdges"/>
<line x1="184.5" y1="105.0" x2="184.5" y2="123.5" stroke="#A81818" stroke-width="1" shape-rendering="crispEdges"/>
<line x1="191.5" y1="106.8" x2="191.5" y2="122.6" stroke="#A81818" stroke-width="1" shape-rendering="crispEdges"/>
<line x1="198.5" y1="107.6" x2="198.5" y2="125.2" stroke="#A81818" stroke-width="1" shape-rendering="crispEdges"/>
<line x1="205.5" y1="108.5" x2="205.5" y2="127.9" stroke="#A81818" stroke-width="1" shape-rendering="crispEdges"/>
<line x1="212.5" y1="109.4" x2="212.5" y2="128.7" stroke="#A81818" stroke-width="1" shape-rendering="crispEdges"/>
<line x1="219.5" y1="110.3" x2="219.5" y2="130.5" stroke="#A81818" stroke-width="1" shape-rendering="crispEdges"/>
<line x1="226.5" y1="111.2" x2="226.5" y2="132.3" stroke="#A81818" stroke-width="1" shape-rendering="crispEdges"/>
<line x1="233.5" y1="111.2" x2="233.5" y2="132.3" stroke="#A81818" stroke-width="1" shape-rendering="crispEdges"/>
<line x1="240.5" y1="105.9" x2="240.5" y2="119.9" stroke="#A81818" stroke-width="1" shape-rendering="crispEdges"/>
</g>
<line x1="143.2" y1="57.5" x2="143.2" y2="134.4" stroke="#000" stroke-width="1" stroke-dasharray="2,2" shape-rendering="crispEdges"/>
<line x1="164.4" y1="57.5" x2="164.4" y2="134.4" stroke="#000" stroke-width="1" stroke-dasharray="2,2" shape-rendering="crispEdges"/>
<line x1="184.7" y1="57.5" x2="184.7" y2="134.4" stroke="#000" stroke-width="1" stroke-dasharray="2,2" shape-rendering="crispEdges"/>
<line x1="204.9" y1="57.5" x2="204.9" y2="134.4" stroke="#000" stroke-width="1" stroke-dasharray="2,2" shape-rendering="crispEdges"/>
<line x1="225.2" y1="57.5" x2="225.2" y2="134.4" stroke="#000" stroke-width="1" stroke-dasharray="2,2" shape-rendering="crispEdges"/>
<line x1="135.5" y1="59.6" x2="245.7" y2="59.6" stroke="#000" stroke-width="1" stroke-dasharray="2,2" shape-rendering="crispEdges"/>
<line x1="135.5" y1="77.2" x2="245.7" y2="77.2" stroke="#000" stroke-width="1" stroke-dasharray="2,2" shape-rendering="crispEdges"/>
<line x1="135.5" y1="94.5" x2="245.7" y2="94.5" stroke="#000" stroke-width="1" stroke-dasharray="2,2" shape-rendering="crispEdges"/>
<line x1="135.5" y1="111.5" x2="245.7" y2="111.5" stroke="#000" stroke-width="1" stroke-dasharray="2,2" shape-rendering="crispEdges"/>
<line x1="135.5" y1="128.7" x2="245.7" y2="128.7" stroke="#000" stroke-width="1" stroke-dasharray="2,2" shape-rendering="crispEdges"/>
<rect x="135.5" y="57.5" width="110.2" height="76.9" fill="none" stroke="#000" stroke-width="1" shape-rendering="crispEdges"/>
<rect x="135.5" y="143.4" width="110.2" height="76.9" fill="#FFFFFF" />
<rect x="170.5" y="143.4" width="61.5" height="76.9" fill="#EEF4FE" />
<rect x="135.5" y="186.9" width="7.4" height="33.4" fill="#0BA00B" />
<rect x="142.9" y="181.1" width="6.2" height="39.2" fill="#0BA00B" />
<rect x="149.0" y="179.0" width="7.9" height="41.3" fill="#0BA00B" />
<rect x="156.9" y="201.8" width="7.0" height="18.5" fill="#0BA00B" />
<rect x="164.0" y="208.0" width="6.2" height="12.3" fill="#0BA00B" />
<rect x="170.1" y="218.0" width="7.0" height="2.3" fill="#0BA00B" />
<rect x="156.9" y="181.6" width="7.0" height="20.2" fill="#1030D0" />
<rect x="164.0" y="205.0" width="6.2" height="3.0" fill="#1030D0" />
<line x1="139.3" y1="164.9" x2="139.3" y2="186.9" stroke="#0BA00B" stroke-width="1" />
<line x1="146.4" y1="147.3" x2="146.4" y2="181.1" stroke="#0BA00B" stroke-width="1" />
<line x1="153.4" y1="147.3" x2="153.4" y2="179.0" stroke="#0BA00B" stroke-width="1" />
<rect x="145.4" y="146.1" width="2.2" height="2.4" fill="#FF0000" />
<rect x="152.4" y="146.1" width="2.2" height="2.4" fill="#FF0000" />
<polyline points="137.6,172.8 142.9,170.2 146.4,164.9 150.8,157.9 156.9,154.7 164.0,152.6 185.1,152.2 190.3,149.1 197.4,148.7 202.6,152.6 207.9,155.7 213.2,155.7 220.2,151.7 225.5,149.9 232.5,151.2 239.6,156.1 245.7,164.0" fill="none" stroke="#E8501C" stroke-width="1.8" stroke-linejoin="round" />
<line x1="143.2" y1="143.4" x2="143.2" y2="220.3" stroke="#000" stroke-width="1" stroke-dasharray="2,2" shape-rendering="crispEdges"/>
<line x1="164.4" y1="143.4" x2="164.4" y2="220.3" stroke="#000" stroke-width="1" stroke-dasharray="2,2" shape-rendering="crispEdges"/>
<line x1="184.7" y1="143.4" x2="184.7" y2="220.3" stroke="#000" stroke-width="1" stroke-dasharray="2,2" shape-rendering="crispEdges"/>
<line x1="204.9" y1="143.4" x2="204.9" y2="220.3" stroke="#000" stroke-width="1" stroke-dasharray="2,2" shape-rendering="crispEdges"/>
<line x1="225.2" y1="143.4" x2="225.2" y2="220.3" stroke="#000" stroke-width="1" stroke-dasharray="2,2" shape-rendering="crispEdges"/>
<line x1="135.5" y1="150.5" x2="245.7" y2="150.5" stroke="#000" stroke-width="1" stroke-dasharray="2,2" shape-rendering="crispEdges"/>
<line x1="135.5" y1="168.0" x2="245.7" y2="168.0" stroke="#000" stroke-width="1" stroke-dasharray="2,2" shape-rendering="crispEdges"/>
<line x1="135.5" y1="185.5" x2="245.7" y2="185.5" stroke="#000" stroke-width="1" stroke-dasharray="2,2" shape-rendering="crispEdges"/>
<line x1="135.5" y1="202.7" x2="245.7" y2="202.7" stroke="#000" stroke-width="1" stroke-dasharray="2,2" shape-rendering="crispEdges"/>
<circle cx="139.3" cy="173.2" r="2.2" fill="#FFE000" stroke="#000" stroke-width="0.8"/>
<circle cx="146.4" cy="173.2" r="2.2" fill="#FFA500" stroke="#000" stroke-width="0.8"/>
<circle cx="153.4" cy="173.2" r="2.2" fill="#FF0000" stroke="#000" stroke-width="0.8"/>
<line x1="138.5" y1="219.6" x2="141.1" y2="219.6" stroke="#FF0000" stroke-width="1" />
<line x1="146.4" y1="219.6" x2="148.1" y2="219.6" stroke="#FF0000" stroke-width="1" />
<line x1="153.4" y1="219.6" x2="155.2" y2="219.6" stroke="#FF0000" stroke-width="1" />
<line x1="160.4" y1="219.6" x2="162.2" y2="219.6" stroke="#FF0000" stroke-width="1" />
<rect x="135.5" y="143.4" width="110.2" height="76.9" fill="none" stroke="#000" stroke-width="1" shape-rendering="crispEdges"/>
<rect x="135.5" y="229.7" width="110.2" height="76.5" fill="#FFFFFF" />
<rect x="170.5" y="229.7" width="61.5" height="76.5" fill="#EEF4FE" />
<polygon points="135.5,261.3 142.9,260.1 149.9,252.5 157.8,248.5 164.0,248.1 171.0,245.5 178.0,248.5 185.1,250.8 192.1,253.4 225.5,253.4 232.5,257.3 239.6,261.3 245.7,265.4 245.7,306.2 135.5,306.2" fill="#FFFF00" />
<clipPath id="c9"><rect x="135.5" y="229.7" width="110.2" height="76.5"/></clipPath><g clip-path="url(#c9)">
<polygon points="165.4,248.1 170.1,245.8 170.1,306.2 165.4,306.2" fill="#FFD21E" />
</g>
<polyline points="135.5,261.3 142.9,260.1 149.9,252.5 157.8,248.5 164.0,248.1 171.0,245.5 178.0,248.5 185.1,250.8 192.1,253.4 225.5,253.4 232.5,257.3 239.6,261.3 245.7,265.4" fill="none" stroke="#000" stroke-width="2" stroke-linejoin="round" />
<line x1="143.2" y1="229.7" x2="143.2" y2="306.2" stroke="#000" stroke-width="1" stroke-dasharray="2,2" shape-rendering="crispEdges"/>
<line x1="164.4" y1="229.7" x2="164.4" y2="306.2" stroke="#000" stroke-width="1" stroke-dasharray="2,2" shape-rendering="crispEdges"/>
<line x1="184.7" y1="229.7" x2="184.7" y2="306.2" stroke="#000" stroke-width="1" stroke-dasharray="2,2" shape-rendering="crispEdges"/>
<line x1="204.9" y1="229.7" x2="204.9" y2="306.2" stroke="#000" stroke-width="1" stroke-dasharray="2,2" shape-rendering="crispEdges"/>
<line x1="225.2" y1="229.7" x2="225.2" y2="306.2" stroke="#000" stroke-width="1" stroke-dasharray="2,2" shape-rendering="crispEdges"/>
<line x1="135.5" y1="230.9" x2="245.7" y2="230.9" stroke="#000" stroke-width="1" stroke-dasharray="2,2" shape-rendering="crispEdges"/>
<line x1="135.5" y1="254.3" x2="245.7" y2="254.3" stroke="#000" stroke-width="1" stroke-dasharray="2,2" shape-rendering="crispEdges"/>
<line x1="135.5" y1="278.0" x2="245.7" y2="278.0" stroke="#000" stroke-width="1" stroke-dasharray="2,2" shape-rendering="crispEdges"/>
<line x1="135.5" y1="301.8" x2="245.7" y2="301.8" stroke="#000" stroke-width="1" stroke-dasharray="2,2" shape-rendering="crispEdges"/>
<rect x="135.5" y="229.7" width="110.2" height="76.5" fill="none" stroke="#000" stroke-width="1" shape-rendering="crispEdges"/>
<rect x="135.5" y="315.5" width="110.2" height="76.5" fill="#FFFFFF" />
<rect x="170.5" y="315.5" width="61.5" height="76.5" fill="#EEF4FE" />
<clipPath id="c10"><rect x="135.5" y="315.5" width="110.2" height="76.5"/></clipPath><g clip-path="url(#c10)">
<polygon points="135.5,365.7 137.6,366.7 139.7,367.7 141.8,368.7 143.9,369.5 146.0,370.1 148.1,370.8 148.1,392.0 135.5,392.0" fill="#18C418" />
<polygon points="148.1,370.8 151.6,371.8 155.2,372.2 158.7,372.6 162.2,373.0 165.7,373.6 169.2,374.5 169.2,392.0 148.1,392.0" fill="#008200" />
<polygon points="169.2,374.5 173.9,375.4 178.5,375.6 183.1,375.8 187.8,374.9 192.4,373.9 197.0,373.3 197.0,392.0 169.2,392.0" fill="#004C8C" />
<polygon points="197.0,373.3 199.4,373.1 201.7,372.9 204.0,372.7 206.4,372.7 208.7,372.7 211.1,372.7 211.1,392.0 197.0,392.0" fill="#008200" />
<polygon points="211.1,372.7 213.5,372.7 215.9,372.7 218.3,372.7 220.7,372.7 223.1,372.7 225.5,372.7 225.5,392.0 211.1,392.0" fill="#004C8C" />
<polygon points="225.5,372.7 227.8,372.1 230.1,371.5 232.4,371.0 234.6,370.7 236.9,370.4 239.2,370.1 239.2,392.0 225.5,392.0" fill="#008200" />
<polygon points="239.2,370.1 240.3,370.0 241.4,370.0 242.5,369.9 243.5,369.8 244.6,369.8 245.7,369.7 245.7,392.0 239.2,392.0" fill="#18C418" />
</g>
<line x1="142.9" y1="340.7" x2="149.0" y2="340.7" stroke="#FF0000" stroke-width="1" shape-rendering="crispEdges"/>
<line x1="148.1" y1="347.2" x2="156.0" y2="347.2" stroke="#FF0000" stroke-width="1" shape-rendering="crispEdges"/>
<line x1="156.0" y1="348.1" x2="162.2" y2="348.1" stroke="#FF0000" stroke-width="1" shape-rendering="crispEdges"/>
<line x1="162.2" y1="351.2" x2="170.1" y2="351.2" stroke="#FF0000" stroke-width="1" shape-rendering="crispEdges"/>
<line x1="170.1" y1="355.5" x2="177.1" y2="355.5" stroke="#FF0000" stroke-width="1" shape-rendering="crispEdges"/>
<line x1="176.3" y1="358.3" x2="184.7" y2="358.3" stroke="#FF0000" stroke-width="1" shape-rendering="crispEdges"/>
<line x1="184.2" y1="354.2" x2="190.3" y2="354.2" stroke="#FF0000" stroke-width="1" shape-rendering="crispEdges"/>
<line x1="190.3" y1="351.6" x2="197.4" y2="351.6" stroke="#FF0000" stroke-width="1" shape-rendering="crispEdges"/>
<line x1="197.4" y1="350.4" x2="211.4" y2="350.4" stroke="#FF0000" stroke-width="1" shape-rendering="crispEdges"/>
<line x1="211.4" y1="351.6" x2="225.5" y2="351.6" stroke="#FF0000" stroke-width="1" shape-rendering="crispEdges"/>
<line x1="225.5" y1="347.2" x2="232.5" y2="347.2" stroke="#FF0000" stroke-width="1" shape-rendering="crispEdges"/>
<line x1="232.5" y1="343.2" x2="239.6" y2="343.2" stroke="#FF0000" stroke-width="1" shape-rendering="crispEdges"/>
<line x1="239.6" y1="342.3" x2="245.7" y2="342.3" stroke="#FF0000" stroke-width="1" shape-rendering="crispEdges"/>
<rect x="137.5" y="315.8" width="2.2" height="2.2" fill="#FF0000" />
<polyline points="135.5,365.7 142.9,369.2 151.6,371.8 164.0,373.2 172.7,375.3 183.3,375.9 193.8,373.6 204.4,372.7 225.5,372.7 232.5,370.9 239.6,370.1 245.7,369.7" fill="none" stroke="#00009C" stroke-width="2.2" stroke-linejoin="round" />
<line x1="143.2" y1="315.5" x2="143.2" y2="392.0" stroke="#000" stroke-width="1" stroke-dasharray="2,2" shape-rendering="crispEdges"/>
<line x1="164.4" y1="315.5" x2="164.4" y2="392.0" stroke="#000" stroke-width="1" stroke-dasharray="2,2" shape-rendering="crispEdges"/>
<line x1="184.7" y1="315.5" x2="184.7" y2="392.0" stroke="#000" stroke-width="1" stroke-dasharray="2,2" shape-rendering="crispEdges"/>
<line x1="204.9" y1="315.5" x2="204.9" y2="392.0" stroke="#000" stroke-width="1" stroke-dasharray="2,2" shape-rendering="crispEdges"/>
<line x1="225.2" y1="315.5" x2="225.2" y2="392.0" stroke="#000" stroke-width="1" stroke-dasharray="2,2" shape-rendering="crispEdges"/>
<line x1="135.5" y1="334.4" x2="245.7" y2="334.4" stroke="#000" stroke-width="1" stroke-dasharray="2,2" shape-rendering="crispEdges"/>
<line x1="135.5" y1="354.2" x2="245.7" y2="354.2" stroke="#000" stroke-width="1" stroke-dasharray="2,2" shape-rendering="crispEdges"/>
<line x1="135.5" y1="373.2" x2="245.7" y2="373.2" stroke="#000" stroke-width="1" stroke-dasharray="2,2" shape-rendering="crispEdges"/>
<rect x="135.5" y="315.5" width="110.2" height="76.5" fill="none" stroke="#000" stroke-width="1" shape-rendering="crispEdges"/>
<rect x="135.5" y="398.4" width="110.2" height="31.7" fill="#FFFFFF" />
<rect x="170.5" y="398.4" width="61.5" height="31.7" fill="#EEF4FE" />
<line x1="143.2" y1="398.4" x2="143.2" y2="430.1" stroke="#000" stroke-width="1" stroke-dasharray="2,2" shape-rendering="crispEdges"/>
<line x1="164.4" y1="398.4" x2="164.4" y2="430.1" stroke="#000" stroke-width="1" stroke-dasharray="2,2" shape-rendering="crispEdges"/>
<line x1="184.7" y1="398.4" x2="184.7" y2="430.1" stroke="#000" stroke-width="1" stroke-dasharray="2,2" shape-rendering="crispEdges"/>
<line x1="204.9" y1="398.4" x2="204.9" y2="430.1" stroke="#000" stroke-width="1" stroke-dasharray="2,2" shape-rendering="crispEdges"/>
<line x1="225.2" y1="398.4" x2="225.2" y2="430.1" stroke="#000" stroke-width="1" stroke-dasharray="2,2" shape-rendering="crispEdges"/>
<clipPath id="c11"><rect x="134.5" y="398.4" width="117.2" height="31.7"/></clipPath><g clip-path="url(#c11)">
<line x1="132.4" y1="406.7" x2="138.4" y2="420.1" stroke="#0000A0" stroke-width="1.2" />
<polygon points="140.0,423.9 134.6,419.7 140.6,417.1" fill="#0000A0" />
<line x1="139.3" y1="406.7" x2="145.3" y2="420.1" stroke="#0000A0" stroke-width="1.2" />
<polygon points="146.9,423.9 141.5,419.7 147.5,417.1" fill="#0000A0" />
<line x1="146.2" y1="406.7" x2="152.2" y2="420.1" stroke="#0000A0" stroke-width="1.2" />
<polygon points="153.8,423.9 148.4,419.7 154.4,417.1" fill="#0000A0" />
<line x1="153.1" y1="406.7" x2="159.1" y2="420.1" stroke="#0000A0" stroke-width="1.2" />
<polygon points="160.7,423.9 155.3,419.7 161.3,417.1" fill="#0000A0" />
<line x1="160.0" y1="406.7" x2="166.0" y2="420.1" stroke="#0000A0" stroke-width="1.2" />
<polygon points="167.6,423.9 162.2,419.7 168.2,417.1" fill="#0000A0" />
<line x1="166.9" y1="406.7" x2="172.9" y2="420.1" stroke="#0000A0" stroke-width="1.2" />
<polygon points="174.5,423.9 169.1,419.7 175.1,417.1" fill="#0000A0" />
<line x1="173.8" y1="406.7" x2="179.8" y2="420.1" stroke="#0000A0" stroke-width="1.2" />
<polygon points="181.4,423.9 176.0,419.7 182.0,417.1" fill="#0000A0" />
<line x1="180.7" y1="406.7" x2="186.7" y2="420.1" stroke="#0000A0" stroke-width="1.2" />
<polygon points="188.3,423.9 182.9,419.7 188.9,417.1" fill="#0000A0" />
<line x1="187.6" y1="406.7" x2="193.6" y2="420.1" stroke="#0000A0" stroke-width="1.2" />
<polygon points="195.2,423.9 189.8,419.7 195.8,417.1" fill="#0000A0" />
<line x1="194.5" y1="406.7" x2="200.5" y2="420.1" stroke="#0000A0" stroke-width="1.2" />
<polygon points="202.1,423.9 196.7,419.7 202.7,417.1" fill="#0000A0" />
<line x1="201.4" y1="406.7" x2="207.4" y2="420.1" stroke="#0000A0" stroke-width="1.2" />
<polygon points="209.0,423.9 203.6,419.7 209.6,417.1" fill="#0000A0" />
<line x1="208.3" y1="406.7" x2="214.3" y2="420.1" stroke="#0000A0" stroke-width="1.2" />
<polygon points="215.9,423.9 210.5,419.7 216.5,417.1" fill="#0000A0" />
<line x1="215.2" y1="406.7" x2="221.2" y2="420.1" stroke="#0000A0" stroke-width="1.2" />
<polygon points="222.8,423.9 217.4,419.7 223.4,417.1" fill="#0000A0" />
<line x1="222.1" y1="406.7" x2="228.1" y2="420.1" stroke="#0000A0" stroke-width="1.2" />
<polygon points="229.7,423.9 224.3,419.7 230.3,417.1" fill="#0000A0" />
<line x1="229.0" y1="406.7" x2="235.0" y2="420.1" stroke="#0000A0" stroke-width="1.2" />
<polygon points="236.6,423.9 231.2,419.7 237.2,417.1" fill="#0000A0" />
<line x1="235.9" y1="406.7" x2="241.9" y2="420.1" stroke="#0000A0" stroke-width="1.2" />
<polygon points="243.5,423.9 238.1,419.7 244.1,417.1" fill="#0000A0" />
<line x1="242.8" y1="406.7" x2="248.8" y2="420.1" stroke="#0000A0" stroke-width="1.2" />
<polygon points="250.4,423.9 245.0,419.7 251.0,417.1" fill="#0000A0" />
<line x1="249.7" y1="406.7" x2="255.7" y2="420.1" stroke="#0000A0" stroke-width="1.2" />
<polygon points="257.3,423.9 251.9,419.7 257.9,417.1" fill="#0000A0" />
</g>
<rect x="135.5" y="398.4" width="110.2" height="31.7" fill="none" stroke="#000" stroke-width="1" shape-rendering="crispEdges"/>
<rect x="135.5" y="436.7" width="110.2" height="77.3" fill="#8AD3FA" />
<rect x="170.5" y="436.7" width="61.5" height="77.3" fill="#80C0EC" />
<clipPath id="c12"><rect x="135.5" y="436.7" width="110.2" height="77.3"/></clipPath><g clip-path="url(#c12)">
<circle cx="191.6" cy="456.4" r="2.3" fill="#000000" />
<circle cx="198.6" cy="464.3" r="2.3" fill="#000000" />
<circle cx="204.4" cy="467.8" r="2.3" fill="#000000" />
<circle cx="211.4" cy="470.4" r="2.3" fill="#000000" />
<circle cx="218.5" cy="481.3" r="2.3" fill="#000000" />
<circle cx="225.5" cy="485.9" r="2.3" fill="#000000" />
<circle cx="232.5" cy="489.8" r="2.3" fill="#000000" />
<circle cx="239.6" cy="481.3" r="2.3" fill="#000000" />
<circle cx="245.7" cy="476.6" r="2.3" fill="#000000" />
<circle cx="184.5" cy="489.8" r="2.3" fill="#000000" />
<circle cx="143.7" cy="481.3" r="2.3" fill="#4A4A4A" />
<circle cx="150.8" cy="491.9" r="2.3" fill="#4A4A4A" />
<circle cx="157.8" cy="491.9" r="2.3" fill="#4A4A4A" />
<circle cx="164.8" cy="491.9" r="2.3" fill="#4A4A4A" />
<circle cx="191.6" cy="489.8" r="2.3" fill="#4A4A4A" />
<circle cx="218.5" cy="489.8" r="2.3" fill="#4A4A4A" />
<circle cx="225.5" cy="491.9" r="2.3" fill="#4A4A4A" />
<circle cx="232.5" cy="494.2" r="2.3" fill="#4A4A4A" />
<circle cx="143.7" cy="500.3" r="2.3" fill="#4A4A4A" />
<circle cx="184.5" cy="500.3" r="2.3" fill="#4A4A4A" />
<circle cx="198.6" cy="466.9" r="2.3" fill="#4A4A4A" />
<circle cx="177.5" cy="489.8" r="2.3" fill="#9A9A9A" />
<circle cx="198.6" cy="485.9" r="2.3" fill="#9A9A9A" />
<circle cx="211.4" cy="481.3" r="2.3" fill="#9A9A9A" />
<circle cx="211.4" cy="485.9" r="2.3" fill="#9A9A9A" />
<circle cx="239.6" cy="494.2" r="2.3" fill="#9A9A9A" />
<circle cx="232.5" cy="500.3" r="2.3" fill="#9A9A9A" />
<circle cx="184.5" cy="504.7" r="2.3" fill="#9A9A9A" />
<circle cx="245.7" cy="481.3" r="2.3" fill="#9A9A9A" />
<circle cx="170.5" cy="489.8" r="2.3" fill="#D6D2CA" />
<circle cx="191.6" cy="492.4" r="2.3" fill="#D6D2CA" />
<circle cx="198.6" cy="489.8" r="2.3" fill="#D6D2CA" />
<circle cx="211.4" cy="489.8" r="2.3" fill="#D6D2CA" />
<circle cx="218.5" cy="500.3" r="2.3" fill="#D6D2CA" />
<circle cx="225.5" cy="500.3" r="2.3" fill="#D6D2CA" />
<circle cx="239.6" cy="500.3" r="2.3" fill="#D6D2CA" />
<circle cx="136.7" cy="506.0" r="2.3" fill="#D6D2CA" />
<circle cx="204.4" cy="472.2" r="2.3" fill="#D6D2CA" />
<circle cx="150.8" cy="500.3" r="2.3" fill="#FFFFFF" />
<circle cx="164.8" cy="499.5" r="2.3" fill="#FFFFFF" />
<circle cx="170.5" cy="492.4" r="2.3" fill="#FFFFFF" />
<circle cx="177.5" cy="492.4" r="2.3" fill="#FFFFFF" />
<circle cx="191.6" cy="500.3" r="2.3" fill="#FFFFFF" />
<circle cx="198.6" cy="492.4" r="2.3" fill="#FFFFFF" />
<circle cx="204.4" cy="492.4" r="2.3" fill="#FFFFFF" />
<circle cx="211.4" cy="492.4" r="2.3" fill="#FFFFFF" />
<circle cx="143.7" cy="506.0" r="2.3" fill="#FFFFFF" />
<circle cx="184.5" cy="509.5" r="2.3" fill="#FFFFFF" />
<circle cx="218.5" cy="509.5" r="2.3" fill="#FFFFFF" />
<circle cx="225.5" cy="509.5" r="2.3" fill="#FFFFFF" />
<circle cx="232.5" cy="509.5" r="2.3" fill="#FFFFFF" />
<circle cx="239.6" cy="509.5" r="2.3" fill="#FFFFFF" />
<circle cx="245.7" cy="500.3" r="2.3" fill="#FFFFFF" />
<circle cx="170.5" cy="451.1" r="2.6" fill="#B22222" />
<circle cx="177.5" cy="448.5" r="2.6" fill="#B22222" />
<circle cx="184.5" cy="449.7" r="2.6" fill="#B22222" />
<circle cx="191.6" cy="449.7" r="2.6" fill="#B22222" />
<circle cx="198.6" cy="451.5" r="2.6" fill="#B22222" />
<circle cx="204.4" cy="449.0" r="2.6" fill="#B22222" />
<circle cx="211.4" cy="449.7" r="2.6" fill="#B22222" />
<circle cx="218.5" cy="449.7" r="2.6" fill="#B22222" />
<circle cx="225.5" cy="449.7" r="2.6" fill="#B22222" />
<circle cx="232.5" cy="449.7" r="2.6" fill="#B22222" />
<circle cx="239.6" cy="449.7" r="2.6" fill="#B22222" />
<circle cx="245.7" cy="449.7" r="2.6" fill="#B22222" />
<circle cx="150.8" cy="458.1" r="2.6" fill="#B22222" />
<circle cx="157.8" cy="458.1" r="2.6" fill="#B22222" />
<circle cx="164.8" cy="460.2" r="2.6" fill="#B22222" />
<circle cx="136.7" cy="475.7" r="2.6" fill="#B22222" />
<circle cx="143.7" cy="475.7" r="2.6" fill="#B22222" />
<polyline points="135.5,471.3 142.9,471.3 150.8,466.0 157.8,464.3 178.0,463.4 185.1,466.9 192.1,469.6 204.4,471.3 211.4,472.2 217.6,474.8 232.5,474.3 239.6,471.8 245.7,470.4" fill="none" stroke="#FF9900" stroke-width="1.8" stroke-linejoin="round" />
</g>
<line x1="143.2" y1="436.7" x2="143.2" y2="514.0" stroke="#000" stroke-width="1" stroke-dasharray="2,2" shape-rendering="crispEdges"/>
<line x1="164.4" y1="436.7" x2="164.4" y2="514.0" stroke="#000" stroke-width="1" stroke-dasharray="2,2" shape-rendering="crispEdges"/>
<line x1="184.7" y1="436.7" x2="184.7" y2="514.0" stroke="#000" stroke-width="1" stroke-dasharray="2,2" shape-rendering="crispEdges"/>
<line x1="204.9" y1="436.7" x2="204.9" y2="514.0" stroke="#000" stroke-width="1" stroke-dasharray="2,2" shape-rendering="crispEdges"/>
<line x1="225.2" y1="436.7" x2="225.2" y2="514.0" stroke="#000" stroke-width="1" stroke-dasharray="2,2" shape-rendering="crispEdges"/>
<line x1="135.5" y1="456.0" x2="245.7" y2="456.0" stroke="#000" stroke-width="1" stroke-dasharray="2,2" shape-rendering="crispEdges"/>
<line x1="135.5" y1="475.4" x2="245.7" y2="475.4" stroke="#000" stroke-width="1" stroke-dasharray="2,2" shape-rendering="crispEdges"/>
<line x1="135.5" y1="495.0" x2="245.7" y2="495.0" stroke="#000" stroke-width="1" stroke-dasharray="2,2" shape-rendering="crispEdges"/>
<rect x="135.5" y="436.7" width="110.2" height="77.3" fill="none" stroke="#000" stroke-width="1" shape-rendering="crispEdges"/>
<rect x="135.5" y="523.4" width="110.2" height="77.8" fill="#8AD3FA" />
<rect x="170.5" y="523.4" width="61.5" height="77.8" fill="#80C0EC" />
<clipPath id="c13"><rect x="135.5" y="523.4" width="110.2" height="77.8"/></clipPath><g clip-path="url(#c13)">
<polygon points="164.0,601.2 164.8,592.4 171.0,575.7 178.0,566.0 185.1,562.5 191.2,549.3 196.5,544.9 204.4,543.1 209.7,529.9 215.8,524.7 225.5,523.8 232.5,523.8 237.8,533.5 245.7,544.0 245.7,601.2" fill="#FFFFFF" />
<polygon points="190.3,601.2 190.3,569.5 195.6,546.6 198.2,531.7 204.4,533.5 207.9,539.6 211.4,527.3 218.5,525.5 225.5,524.7 232.5,524.7 237.8,534.3 245.7,544.0 245.7,601.2" fill="#999999" />
<polygon points="135.5,576.5 143.7,563.4 150.8,576.5 157.8,582.7 164.8,585.3 166.6,588.0 176.3,593.2 184.2,569.5 190.3,569.5 193.0,575.7 204.4,595.9 211.4,585.3 215.8,559.0 221.1,541.4 226.4,535.2 232.5,538.7 239.6,551.9 245.7,567.7 245.7,601.2 135.5,601.2" fill="#555555" />
<polygon points="137.6,601.2 149.0,590.6 164.0,601.2" fill="#2E2E2A" />
<polyline points="135.5,588.8 142.9,595.9 151.6,600.3 164.0,600.8 167.5,588.8" fill="none" stroke="#CCCCCC" stroke-width="0.7" stroke-linejoin="round" />
<polyline points="184.2,601.2 190.3,576.5 193.8,571.3" fill="none" stroke="#DDDDDD" stroke-width="0.7" stroke-linejoin="round" />
</g>
<rect x="217.1" y="590.3" width="2.8" height="10.9" fill="#FFB400" />
<rect x="223.7" y="590.3" width="2.8" height="10.9" fill="#FFB400" />
<rect x="231.1" y="590.3" width="2.8" height="10.9" fill="#FFB400" />
<rect x="238.2" y="590.3" width="2.8" height="10.9" fill="#FFB400" />
<clipPath id="c14"><rect x="135.5" y="523.4" width="110.2" height="77.8"/></clipPath><g clip-path="url(#c14)">
<polyline points="164.8,592.4 171.0,575.7 178.0,566.0 185.1,562.5 191.2,549.3 196.5,544.9 204.4,543.1 209.7,529.9 215.8,524.7 225.5,523.8 232.5,523.8 237.8,533.5 245.7,544.0" fill="none" stroke="#FFFFFF" stroke-width="1" stroke-linejoin="round" />
</g>
<line x1="143.2" y1="523.4" x2="143.2" y2="601.2" stroke="#000" stroke-width="1" stroke-dasharray="2,2" shape-rendering="crispEdges"/>
<line x1="164.4" y1="523.4" x2="164.4" y2="601.2" stroke="#000" stroke-width="1" stroke-dasharray="2,2" shape-rendering="crispEdges"/>
<line x1="184.7" y1="523.4" x2="184.7" y2="601.2" stroke="#000" stroke-width="1" stroke-dasharray="2,2" shape-rendering="crispEdges"/>
<line x1="204.9" y1="523.4" x2="204.9" y2="601.2" stroke="#000" stroke-width="1" stroke-dasharray="2,2" shape-rendering="crispEdges"/>
<line x1="225.2" y1="523.4" x2="225.2" y2="601.2" stroke="#000" stroke-width="1" stroke-dasharray="2,2" shape-rendering="crispEdges"/>
<line x1="135.5" y1="542.8" x2="245.7" y2="542.8" stroke="#000" stroke-width="1" stroke-dasharray="2,2" shape-rendering="crispEdges"/>
<line x1="135.5" y1="562.5" x2="245.7" y2="562.5" stroke="#000" stroke-width="1" stroke-dasharray="2,2" shape-rendering="crispEdges"/>
<line x1="135.5" y1="582.3" x2="245.7" y2="582.3" stroke="#000" stroke-width="1" stroke-dasharray="2,2" shape-rendering="crispEdges"/>
<rect x="135.5" y="523.4" width="110.2" height="77.8" fill="none" stroke="#000" stroke-width="1" shape-rendering="crispEdges"/>
<text x="164.4" y="51.4" font-size="10.5" fill="#000" text-anchor="middle" >20</text>
<text x="204.6" y="51.4" font-size="10.5" fill="#000" text-anchor="middle" >02</text>
<text x="245.2" y="51.4" font-size="10.5" fill="#000" text-anchor="middle" >08</text>
<text x="164.4" y="614.3" font-size="10.5" fill="#000" text-anchor="middle" >18</text>
<text x="204.6" y="614.3" font-size="10.5" fill="#000" text-anchor="middle" >00</text>
<text x="245.2" y="614.3" font-size="10.5" fill="#000" text-anchor="middle" >06</text>
<text x="128.5" y="62.6" font-size="10.5" fill="#000" text-anchor="end" >30</text>
<text x="128.5" y="80.2" font-size="10.5" fill="#000" text-anchor="end" >20</text>
<text x="128.5" y="97.5" font-size="10.5" fill="#000" text-anchor="end" >10</text>
<text x="128.5" y="114.5" font-size="10.5" fill="#000" text-anchor="end" >0</text>
<text x="128.5" y="131.7" font-size="10.5" fill="#000" text-anchor="end" >-10</text>
<text x="266.5" y="62.6" font-size="10.5" fill="#000" text-anchor="end" >30</text>
<text x="266.5" y="80.2" font-size="10.5" fill="#000" text-anchor="end" >20</text>
<text x="266.5" y="97.5" font-size="10.5" fill="#000" text-anchor="end" >10</text>
<text x="266.5" y="114.5" font-size="10.5" fill="#000" text-anchor="end" >0</text>
<text x="266.5" y="131.7" font-size="10.5" fill="#000" text-anchor="end" >-10</text>
<text x="128.5" y="153.9" font-size="10.5" fill="#000" text-anchor="end" >2.0</text>
<text x="128.5" y="171.4" font-size="10.5" fill="#000" text-anchor="end" >1.5</text>
<text x="128.5" y="188.9" font-size="10.5" fill="#000" text-anchor="end" >1.0</text>
<text x="128.5" y="206.1" font-size="10.5" fill="#000" text-anchor="end" >0.5</text>
<text x="128.5" y="223.4" font-size="10.5" fill="#000" text-anchor="end" >0.0</text>
<text x="254.5" y="153.7" font-size="10.5" fill="#E8501C" text-anchor="start" >96</text>
<text x="254.5" y="171.2" font-size="10.5" fill="#E8501C" text-anchor="start" >84</text>
<text x="254.5" y="188.7" font-size="10.5" fill="#E8501C" text-anchor="start" >73</text>
<text x="254.5" y="205.9" font-size="10.5" fill="#E8501C" text-anchor="start" >61</text>
<text x="254.5" y="223.2" font-size="10.5" fill="#E8501C" text-anchor="start" >50</text>
<text x="128.5" y="234.2" font-size="10.5" fill="#000" text-anchor="end" >1018</text>
<text x="128.5" y="257.6" font-size="10.5" fill="#000" text-anchor="end" >1016</text>
<text x="128.5" y="281.3" font-size="10.5" fill="#000" text-anchor="end" >1014</text>
<text x="128.5" y="305.1" font-size="10.5" fill="#000" text-anchor="end" >1012</text>
<text x="251.5" y="234.0" font-size="10.5" fill="#000" text-anchor="start" >1018</text>
<text x="251.5" y="257.4" font-size="10.5" fill="#000" text-anchor="start" >1016</text>
<text x="251.5" y="281.1" font-size="10.5" fill="#000" text-anchor="start" >1014</text>
<text x="251.5" y="304.9" font-size="10.5" fill="#000" text-anchor="start" >1012</text>
<text x="128.5" y="318.8" font-size="10.5" fill="#000" text-anchor="end" >20</text>
<text x="128.5" y="337.7" font-size="10.5" fill="#000" text-anchor="end" >15</text>
<text x="128.5" y="357.5" font-size="10.5" fill="#000" text-anchor="end" >10</text>
<text x="128.5" y="376.5" font-size="10.5" fill="#000" text-anchor="end" >5</text>
<text x="128.5" y="395.3" font-size="10.5" fill="#000" text-anchor="end" >0</text>
<text x="256.5" y="318.7" font-size="10.5" fill="#000" text-anchor="middle" >72</text>
<text x="256.5" y="337.6" font-size="10.5" fill="#000" text-anchor="middle" >54</text>
<text x="256.5" y="357.4" font-size="10.5" fill="#000" text-anchor="middle" >36</text>
<text x="256.5" y="376.4" font-size="10.5" fill="#000" text-anchor="middle" >18</text>
<text x="256.5" y="395.2" font-size="10.5" fill="#000" text-anchor="middle" >0</text>
<text x="128.5" y="440.0" font-size="10.5" fill="#000" text-anchor="end" >15.0</text>
<text x="128.5" y="459.3" font-size="10.5" fill="#000" text-anchor="end" >7.0</text>
<text x="128.5" y="478.7" font-size="10.5" fill="#000" text-anchor="end" >2.0</text>
<text x="128.5" y="498.3" font-size="10.5" fill="#000" text-anchor="end" >0.5</text>
<text x="128.5" y="517.3" font-size="10.5" fill="#000" text-anchor="end" >0.0</text>
<text x="251.5" y="439.7" font-size="10.5" fill="#FF8C00" text-anchor="start" >100</text>
<text x="251.5" y="459.0" font-size="10.5" fill="#FF8C00" text-anchor="start" >20</text>
<text x="251.5" y="478.4" font-size="10.5" fill="#FF8C00" text-anchor="start" >5</text>
<text x="251.5" y="498.0" font-size="10.5" fill="#FF8C00" text-anchor="start" >1</text>
<text x="251.5" y="517.0" font-size="10.5" fill="#FF8C00" text-anchor="start" >0</text>
<text x="128.5" y="526.7" font-size="10.5" fill="#000" text-anchor="end" >8</text>
<text x="128.5" y="546.1" font-size="10.5" fill="#000" text-anchor="end" >6</text>
<text x="128.5" y="565.8" font-size="10.5" fill="#000" text-anchor="end" >4</text>
<text x="128.5" y="585.6" font-size="10.5" fill="#000" text-anchor="end" >2</text>
<text x="128.5" y="604.5" font-size="10.5" fill="#000" text-anchor="end" >0</text>
<text x="251.5" y="526.6" font-size="10.5" fill="#FF9900" text-anchor="start" >1</text>
<text x="251.5" y="546.0" font-size="10.5" fill="#FF9900" text-anchor="start" >0.75</text>
<text x="251.5" y="565.7" font-size="10.5" fill="#FF9900" text-anchor="start" >0.5</text>
<text x="251.5" y="585.5" font-size="10.5" fill="#FF9900" text-anchor="start" >0.25</text>
<text x="251.5" y="604.4" font-size="10.5" fill="#FF9900" text-anchor="start" >0</text>
<rect x="10.9" y="505.0" width="44.0" height="11.8" fill="#87CEFA" />
<rect x="10.2" y="551.5" width="40.8" height="11.0" fill="#87CEFA" />
<text x="5.5" y="17.6" font-size="10.39" fill="#000" text-anchor="start" textLength="59.5" lengthAdjust="spacing">Czas lokalny</text>
<text x="5.5" y="29.5" font-size="10.20" fill="#000" text-anchor="start" textLength="55.4" lengthAdjust="spacing">(CET/CEST)</text>
<text x="5.5" y="45.4" font-size="10.71" fill="#A52A2A" text-anchor="start" textLength="94.1" lengthAdjust="spacing">Temperatura gruntu</text>
<text x="27.5" y="55.4" font-size="10.24" fill="#A52A2A" text-anchor="start" textLength="39.3" lengthAdjust="spacing">max/min</text>
<text x="5.5" y="67.7" font-size="10.51" fill="#000" text-anchor="start" textLength="62.5" lengthAdjust="spacing">Temperatura:</text>
<text x="12.4" y="79.5" font-size="11.12" fill="#FF0000" text-anchor="start" textLength="77.9" lengthAdjust="spacing">punkt środkowy</text>
<text x="27.5" y="89.7" font-size="10.24" fill="#FFD8CC" text-anchor="start" textLength="39.3" lengthAdjust="spacing">max/min</text>
<text x="9.7" y="101.6" font-size="11.31" fill="#0000FF" text-anchor="start" textLength="57.8" lengthAdjust="spacing">odczuwana</text>
<text x="27.5" y="111.6" font-size="10.24" fill="#B4E0FF" text-anchor="start" textLength="39.3" lengthAdjust="spacing">max/min</text>
<text x="5.9" y="123.5" font-size="10.54" fill="#6A5ACD" text-anchor="start" textLength="86.7" lengthAdjust="spacing">Temp. punktu rosy</text>
<text x="5.7" y="140.2" font-size="10.93" fill="#FF0000" text-anchor="start" textLength="94.8" lengthAdjust="spacing">Opad powyżej skali</text>
<text x="5.7" y="154.2" font-size="10.32" fill="#E8501C" text-anchor="start" textLength="97.5" lengthAdjust="spacing">Wilgotność względna</text>
<text x="5.7" y="168.6" font-size="10.40" fill="#000" text-anchor="start" textLength="85.5" lengthAdjust="spacing">Wystąpienie burzy</text>
<text x="5.7" y="182.4" font-size="10.94" fill="#0BA00B" text-anchor="start" textLength="63.2" lengthAdjust="spacing">Deszcz: max</text>
<text x="48.6" y="192.9" font-size="10.75" fill="#0BA00B" text-anchor="start" textLength="29.9" lengthAdjust="spacing">średni</text>
<text x="5.7" y="204.3" font-size="10.23" fill="#1030D0" text-anchor="start" textLength="29.6" lengthAdjust="spacing">Śnieg:</text>
<text x="48.6" y="204.3" font-size="10.20" fill="#1030D0" text-anchor="start" textLength="19.4" lengthAdjust="spacing">max</text>
<text x="48.6" y="215.4" font-size="10.75" fill="#1030D0" text-anchor="start" textLength="29.9" lengthAdjust="spacing">średni</text>
<text x="4.7" y="227.3" font-size="10.47" fill="#FF0000" text-anchor="start" textLength="89.6" lengthAdjust="spacing">Wystąpienie opadu</text>
<text x="4.7" y="239.6" font-size="10.53" fill="#FF0000" text-anchor="start" textLength="72.6" lengthAdjust="spacing">konwekcyjnego</text>
<text x="4.7" y="266.0" font-size="10.23" fill="#000" text-anchor="start" textLength="42.7" lengthAdjust="spacing">Ciśnienie</text>
<text x="4.7" y="279.2" font-size="11.13" fill="#000" text-anchor="start" textLength="66.8" lengthAdjust="spacing">zredukowane</text>
<text x="4.7" y="292.4" font-size="10.55" fill="#000" text-anchor="start" textLength="87.4" lengthAdjust="spacing">do poziomu morza</text>
<text x="4.7" y="321.4" font-size="10.71" fill="#000" text-anchor="start" textLength="67.3" lengthAdjust="spacing">Wiatr na <tspan font-family="Liberation Serif, serif" font-size="11.5">10</tspan>m:</text>
<text x="9.6" y="337.8" font-size="11.34" fill="#FF0000" text-anchor="start" textLength="100.8" lengthAdjust="spacing">poryw powyżej skali</text>
<text x="9.6" y="351.4" font-size="11.39" fill="#FF0000" text-anchor="start" textLength="94.9" lengthAdjust="spacing">max porywy wiatru</text>
<text x="9.6" y="371.5" font-size="11.17" fill="#00008B" text-anchor="start" textLength="78.8" lengthAdjust="spacing">prędkość wiatru</text>
<text x="9.6" y="384.3" font-size="11.27" fill="#00008B" text-anchor="start" textLength="88.9" lengthAdjust="spacing">w środku obszaru</text>
<text x="9.4" y="412.3" font-size="10.90" fill="#00008B" text-anchor="start" textLength="73.9" lengthAdjust="spacing">kierunek wiatru</text>
<text x="5.9" y="432.5" font-size="10.64" fill="#A52A2A" text-anchor="start" textLength="91.1" lengthAdjust="spacing">Wierzchołek chmur</text>
<text x="5.7" y="447.5" font-size="10.85" fill="#000" text-anchor="start" textLength="85.6" lengthAdjust="spacing">Podstawa chmur*</text>
<text x="5.7" y="458.4" font-size="10.25" fill="#000" text-anchor="start" textLength="47.3" lengthAdjust="spacing">o pokryciu</text>
<text x="10.6" y="471.6" font-size="10.53" fill="#000" text-anchor="start" textLength="44.2" lengthAdjust="spacing">&gt; 7.9 okt.</text>
<text x="10.6" y="483.0" font-size="10.53" fill="#4A4A4A" text-anchor="start" textLength="44.2" lengthAdjust="spacing">&gt; 6.5 okt.</text>
<text x="10.6" y="493.6" font-size="10.53" fill="#9A9A9A" text-anchor="start" textLength="44.2" lengthAdjust="spacing">&gt; 4.5 okt.</text>
<text x="10.6" y="503.2" font-size="10.53" fill="#DDD9D2" text-anchor="start" textLength="44.2" lengthAdjust="spacing">&gt; 2.5 okt.</text>
<text x="10.6" y="514.7" font-size="10.53" fill="#FFFFFF" text-anchor="start" textLength="44.2" lengthAdjust="spacing">&gt; 0.1 okt.</text>
<text x="5.7" y="529.6" font-size="10.57" fill="#FF8C00" text-anchor="start" textLength="57.0" lengthAdjust="spacing">Widzialność</text>
<text x="5.7" y="546.7" font-size="10.20" fill="#000" text-anchor="start" textLength="38.9" lengthAdjust="spacing">Chmury:</text>
<text x="11.2" y="559.5" font-size="10.82" fill="#FFFFFF" text-anchor="start" textLength="39.1" lengthAdjust="spacing">wysokie</text>
<text x="9.7" y="572.7" font-size="10.61" fill="#9A9A9A" text-anchor="start" textLength="35.4" lengthAdjust="spacing">średnie</text>
<text x="9.7" y="584.5" font-size="10.20" fill="#3A3A3A" text-anchor="start" textLength="26.6" lengthAdjust="spacing">niskie</text>
<text x="9.7" y="596.8" font-size="10.39" fill="#1A1A1A" text-anchor="start" textLength="61.8" lengthAdjust="spacing">bardzo niskie</text>
<text x="5.7" y="608.2" font-size="10.20" fill="#FFB400" text-anchor="start" textLength="20.6" lengthAdjust="spacing">Mgła</text>
<text x="5.3" y="625.5" font-size="11" fill="#000" text-anchor="start" font-family='"DejaVu Sans", Verdana, sans-serif' textLength="132" lengthAdjust="spacing">Czas uniwersalny (UTC)</text>
<text x="4.6" y="651.0" font-size="9.6" fill="#000" text-anchor="start" font-family='"DejaVu Sans Condensed", "DejaVu Sans", sans-serif' textLength="103.8" lengthAdjust="spacingAndGlyphs" stroke="#000" stroke-width="0.3">* powyżej poziomu morza</text>
<polyline points="68.5,16.5 132.5,16.5 156.5,44.5" fill="none" stroke="#000" stroke-width="1" stroke-linejoin="round" />
<polyline points="102.5,44.5 119.5,44.5 149.5,82.5" fill="none" stroke="#A52A2A" stroke-width="1" stroke-linejoin="round" />
<polyline points="92.5,76.5 114.5,76.5" fill="none" stroke="#FF0000" stroke-width="1" stroke-linejoin="round" />
<polyline points="130.5,76.5 132.5,76.5 155.5,102.5" fill="none" stroke="#FF0000" stroke-width="1" stroke-linejoin="round" />
<polyline points="70.5,99.5 131.5,99.5 136.5,101.5" fill="none" stroke="#0000FF" stroke-width="1" stroke-linejoin="round" />
<polyline points="95.5,119.5 131.5,119.5 140.5,113.5" fill="none" stroke="#6A5ACD" stroke-width="1" stroke-linejoin="round" />
<polyline points="103.5,137.5 138.5,137.5 145.5,146.5" fill="none" stroke="#FF0000" stroke-width="1" stroke-linejoin="round" />
<polyline points="106.5,151.5 111.5,151.5" fill="none" stroke="#E8501C" stroke-width="1" stroke-linejoin="round" />
<polyline points="130.5,151.5 147.5,160.5" fill="none" stroke="#E8501C" stroke-width="1" stroke-linejoin="round" />
<polyline points="94.5,166.5 112.5,166.5" fill="none" stroke="#000" stroke-width="1" stroke-linejoin="round" />
<polyline points="129.5,166.5 133.5,167.5 138.5,172.5" fill="none" stroke="#000" stroke-width="1" stroke-linejoin="round" />
<polyline points="71.5,179.5 138.5,179.5" fill="none" stroke="#0BA00B" stroke-width="1" stroke-linejoin="round" />
<polyline points="80.5,190.5 135.5,190.5" fill="none" stroke="#0BA00B" stroke-width="1" stroke-linejoin="round" />
<polyline points="70.5,202.5 112.5,202.5" fill="none" stroke="#1030D0" stroke-width="1" stroke-linejoin="round" />
<polyline points="130.5,202.5 132.5,201.5 160.5,173.5" fill="none" stroke="#1030D0" stroke-width="1" stroke-linejoin="round" />
<polyline points="80.5,213.5 131.5,213.5 158.5,185.5" fill="none" stroke="#1030D0" stroke-width="1" stroke-linejoin="round" />
<polyline points="97.5,225.5 143.5,225.5 147.5,219.5" fill="none" stroke="#FF0000" stroke-width="1" stroke-linejoin="round" />
<polyline points="51.5,264.5 131.5,264.5 135.5,262.5" fill="none" stroke="#000" stroke-width="1" stroke-linejoin="round" />
<polyline points="111.5,335.5 117.5,335.5" fill="none" stroke="#FF0000" stroke-width="1" stroke-linejoin="round" />
<polyline points="130.5,334.5 132.5,332.5 138.5,317.5" fill="none" stroke="#FF0000" stroke-width="1" stroke-linejoin="round" />
<polyline points="107.5,348.5 131.5,348.5 140.5,340.5 148.5,340.5" fill="none" stroke="#FF0000" stroke-width="1" stroke-linejoin="round" />
<polyline points="92.5,367.5 135.5,367.5" fill="none" stroke="#0000A0" stroke-width="1" stroke-linejoin="round" />
<polyline points="86.5,410.5 140.5,410.5" fill="none" stroke="#0000A0" stroke-width="1" stroke-linejoin="round" />
<polyline points="100.5,430.5 133.5,430.5 183.5,446.5" fill="none" stroke="#A52A2A" stroke-width="1" stroke-linejoin="round" />
<polyline points="57.5,468.5 131.5,468.5 190.5,456.5" fill="none" stroke="#000" stroke-width="1" stroke-linejoin="round" />
<polyline points="57.5,480.5 143.5,480.5" fill="none" stroke="#4A4A4A" stroke-width="1" stroke-linejoin="round" />
<polyline points="57.5,490.5 131.5,490.5 143.5,500.5" fill="none" stroke="#9A9A9A" stroke-width="1" stroke-linejoin="round" />
<polyline points="57.5,500.5 131.5,500.5 136.5,505.5" fill="none" stroke="#DDD9D2" stroke-width="1" stroke-linejoin="round" />
<line x1="54.9" y1="510.5" x2="135.4" y2="510.5" stroke="#87CEFA" stroke-width="3.2" />
<line x1="54.9" y1="510.5" x2="135.4" y2="510.5" stroke="#FFFFFF" stroke-width="1" />
<polyline points="67.5,527.5 129.5,527.5 173.5,465.5" fill="none" stroke="#FF8C00" stroke-width="1" stroke-linejoin="round" />
<line x1="54.5" y1="557.4" x2="186.0" y2="557.4" stroke="#87CEFA" stroke-width="3.2" />
<line x1="54.5" y1="557.4" x2="186.0" y2="557.4" stroke="#FFFFFF" stroke-width="1" />
<polyline points="49.5,571.5 187.5,571.5" fill="none" stroke="#9A9A9A" stroke-width="1" stroke-linejoin="round" />
<polyline points="40.5,582.5 121.5,582.5" fill="none" stroke="#3A3A3A" stroke-width="1" stroke-linejoin="round" />
<polyline points="130.5,582.5 135.5,582.5" fill="none" stroke="#3A3A3A" stroke-width="1" stroke-linejoin="round" />
<polyline points="74.5,594.5 146.5,594.5" fill="none" stroke="#1A1A1A" stroke-width="1" stroke-linejoin="round" />
<polyline points="30.5,605.5 216.5,605.5 219.5,601.5" fill="none" stroke="#FFB400" stroke-width="1" stroke-linejoin="round" />
<polyline points="138.5,623.5 148.5,623.5 156.5,610.5" fill="none" stroke="#000" stroke-width="1" stroke-linejoin="round" />
</svg>
</body></html>
